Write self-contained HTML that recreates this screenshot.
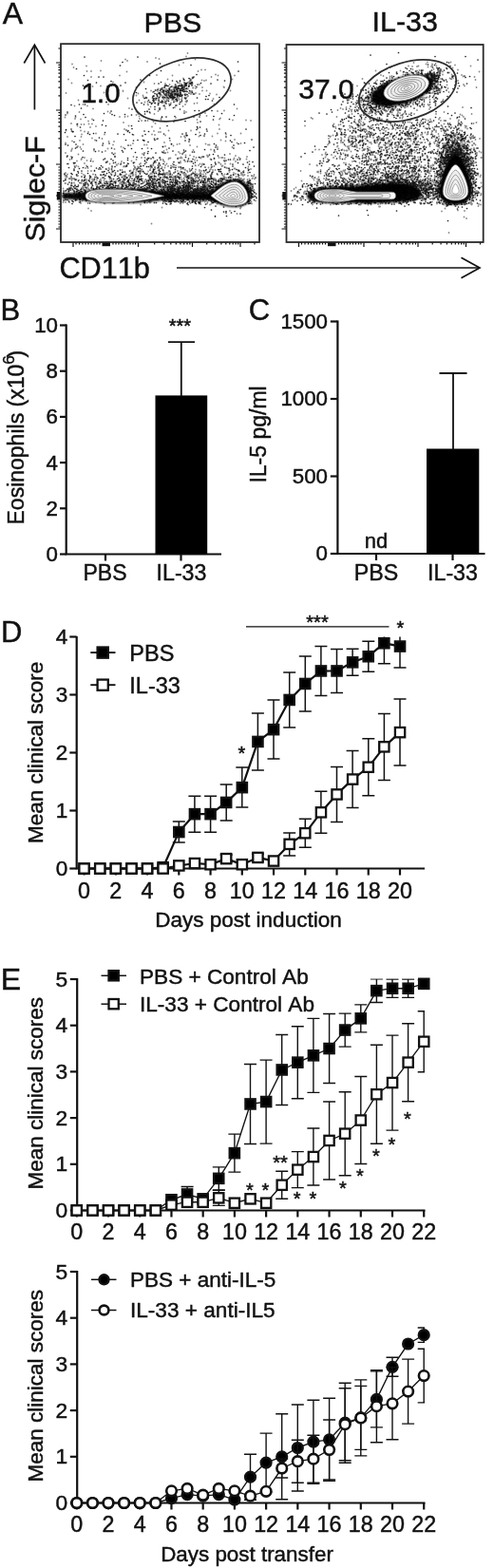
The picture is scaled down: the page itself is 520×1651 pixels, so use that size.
<!DOCTYPE html>
<html lang="en"><head><meta charset="utf-8"><title>Figure</title>
<style>
html,body{margin:0;padding:0;background:#fff;}
svg{display:block;}
text{font-family:"Liberation Sans", Arial, Helvetica, sans-serif;fill:#111;stroke:#111;stroke-width:.45px;font-kerning:none;}
</style></head><body>
<svg width="520" height="1651" viewBox="0 0 520 1651">
<rect width="520" height="1651" fill="#fff"/>
<defs><filter id="bl0" x="0" y="0" width="1100" height="600" filterUnits="userSpaceOnUse"><feGaussianBlur stdDeviation="0.9"/></filter><filter id="bl" x="-20%" y="-20%" width="140%" height="140%"><feGaussianBlur stdDeviation="1.1"/></filter><filter id="bl2" x="-30%" y="-30%" width="160%" height="160%"><feGaussianBlur stdDeviation="2.2"/></filter></defs>
<text x="2.8" y="25.3" font-size="32" text-anchor="start">A</text>
<text x="181.8" y="33.8" font-size="30.4" text-anchor="middle">PBS</text>
<text x="426.2" y="33.3" font-size="30.4" text-anchor="middle">IL-33</text>
<g fill="none" stroke="#111" stroke-width="1.7"><path d="M36.4 115.5V48"/><path d="M25.3 66.5L36.4 47.3L47.5 66.5"/></g>
<text x="47.3" y="254.4" font-size="30.3" text-anchor="start" transform="rotate(-90 47.3 254.4)">Siglec-F</text>
<text x="62.4" y="293" font-size="30.7" text-anchor="start">CD11b</text>
<g fill="none" stroke="#111" stroke-width="1.7"><path d="M186 282H504"/><path d="M485.5 271.2L505 282L485.5 292.8"/></g>
<g fill="#0a0a0a" filter="url(#bl)"><path d="M66 203.5L86 202.5C100 197.5 150 197.5 173 202.8L222 203.5C230 194 240 188 250 189C258 190 263.5 198 263.5 207C263.5 213.5 258 218 246 218C236 218 228 213.5 222 210.5L173 210.5C150 215 100 215 86 210.5L66 209.5Z"/></g>
<path transform="scale(.5)" d="m392 119h0m3-7h0m-182 16h0m51-3h0m4 3h0m42 2h0m18-8h0m7 2h0m76 1h0m-259 10h0m3 7h0m27-3h0m195-2h0m9-5h0m-203 18h0m9 0h0m20-1h0m55 2h0m150-1h0m7-3h0m8 0h0m-288 20h0m48-5h0m60-3h0m78-1h0m23 9h0m10-8h0m23 6h0m14 1h0m5-1h0m0-2h0m40-1h0m9-5h0m5 2h0m30 8h0m5-8h0m-343 16h0m87-2h0m65 0h0m22 3h0m23 0h0m9 2h0m21-3h0m1-4h0m2 7h0m1-1h0m5 2h0m1 0h0m3-2h0m2 1h0m0-1h0m0 2h0m2-5h0m2-1h0m1 4h0m0 2h0m5-6h0m1 0h0m1 5h0m15 0h0m5-9h0m5 1h0m4-1h0m-250 13h0m11 0h0m17-1h0m14 1h0m33 9h0m59 0h0m15-4h0m6 1h0m3-3h0m4 4h0m1-5h0m3 4h0m2 3h0m3-4h0m0 2h0m2 2h0m0-5h0m0-1h0m1-1h0m1 7h0m5-1h0m1-5h0m0 3h0m1-5h0m2 2h0m0 2h0m1-2h0m0-3h0m2-2h0m0 5h0m1-3h0m1 7h0m0 2h0m1-8h0m2 8h0m1 0h0m0-10h0m1 10h0m3-2h0m0 2h0m0-10h0m1 4h0m0 3h0m2-3h0m1 0h0m0-4h0m0-1h0m1 4h0m0 6h0m1 0h0m1-6h0m0 2h0m0-1h0m1 0h0m0 3h0m0-4h0m1 3h0m4 0h0m2 0h0m2-5h0m8 3h0m1 0h0m4-4h0m1 5h0m14 5h0m0-7h0m9 7h0m36-8h0m1 1h0m13 7h0m-346 5h0m80-1h0m5-2h0m0 6h0m35-7h0m22 10h0m6-1h0m4-4h0m10 4h0m8-6h0m13-1h0m1 8h0m8-1h0m1-9h0m5 7h0m0 4h0m0-1h0m1-3h0m1 2h0m0-8h0m1 7h0m3 3h0m2 0h0m1-10h0m0-1h0m3 9h0m1 2h0m0-10h0m2 7h0m0-1h0m1-1h0m0 2h0m3-4h0m0 4h0m0 2h0m0-1h0m0-6h0m0-1h0m1 3h0m1 6h0m0-11h0m1 4h0m0 3h0m1 4h0m0-6h0m1-3h0m1 0h0m1 0h0m0 6h0m1-4h0m0 2h0m0 2h0m0-1h0m2-4h0m1 3h0m1 1h0m0 2h0m0-9h0m2 4h0m0 2h0m1-2h0m1 0h0m0 2h0m1-4h0m0 6h0m1-8h0m1 4h0m1-1h0m0 3h0m1 4h0m0-6h0m1 3h0m1-5h0m1-1h0m0 2h0m0-1h0m0 4h0m0 2h0m1-2h0m0 2h0m1 0h0m1 1h0m7-3h0m2 1h0m3 4h0m1-1h0m4-10h0m2 6h0m0-3h0m10 1h0m8 2h0m22-1h0m14 2h0m-291 12h0m35 2h0m24 2h0m45-8h0m24 4h0m9-7h0m3 11h0m2-10h0m4 9h0m12 0h0m0 1h0m4-8h0m3 0h0m2-3h0m1 8h0m8 2h0m1-9h0m1 2h0m2 2h0m1-3h0m1 7h0m3-5h0m0-3h0m1 3h0m1 3h0m2 0h0m2-3h0m1-3h0m0-1h0m2 1h0m1 0h0m2 5h0m1-5h0m1 5h0m2-4h0m0 6h0m1-8h0m3 9h0m1-3h0m1 0h0m1-5h0m2 0h0m1 1h0m1 4h0m0-1h0m5 6h0m0-6h0m0 5h0m1-6h0m0-4h0m8 10h0m0-5h0m2 6h0m56-7h0m-292 15h0m18-3h0m9 3h0m44-3h0m53 0h0m30-1h0m1 2h0m5 4h0m0-9h0m10 1h0m6 3h0m2-3h0m9 6h0m0-7h0m3 9h0m9-6h0m4-2h0m8 9h0m4-4h0m13 2h0m5-4h0m19-2h0m6-1h0m36 2h0m-309 20h0m25-3h0m29-7h0m31 6h0m5 3h0m40-10h0m13 1h0m2 6h0m23-1h0m6 4h0m17-4h0m2-6h0m13 1h0m40 5h0m4 2h0m40 2h0m26-4h0m14-1h0m27-4h0m-362 18h0m21 3h0m1-3h0m11 4h0m24 0h0m58-5h0m11 0h0m6-1h0m18-3h0m4-2h0m2 5h0m1 5h0m31-10h0m14 10h0m2-3h0m29 1h0m65-4h0m27 7h0m2-2h0m-314 11h0m12 2h0m9 0h0m6 0h0m9-7h0m1 6h0m7 0h0m66-3h0m38-4h0m13 0h0m10-1h0m2 3h0m4 4h0m12-8h0m29 2h0m47-2h0m1 6h0m45 5h0m29-10h0m28 0h0m10 1h0m-389 21h0m24-10h0m7 10h0m20-7h0m12-2h0m60 6h0m9-7h0m49 2h0m17 3h0m18 5h0m47 0h0m60-3h0m-309 6h0m19 5h0m6-6h0m8 1h0m16 3h0m18 2h0m61 1h0m39-1h0m4-7h0m2 8h0m8-6h0m4 0h0m10 7h0m40 2h0m1 0h0m4-1h0m26 1h0m1-8h0m27 8h0m11-6h0m18 2h0m31-2h0m-365 7h0m10 9h0m16-1h0m3-8h0m23 3h0m6 4h0m15-3h0m14 6h0m11 0h0m64-2h0m26-3h0m28 3h0m23-8h0m9 2h0m8 3h0m67 2h0m10 2h0m19-3h0m-356 7h0m26 7h0m5 2h0m6-6h0m63 1h0m17 4h0m5 2h0m15-5h0m5-4h0m24 3h0m5 0h0m34 4h0m3-9h0m2 8h0m13-4h0m4 3h0m8-3h0m5-1h0m22 3h0m15 3h0m18-6h0m5 2h0m3 0h0m17 5h0m31 0h0m10-9h0m8 1h0m-369 20h0m12-4h0m1-3h0m1-2h0m19 1h0m27 3h0m10 1h0m14 0h0m5-5h0m14 1h0m1 9h0m69-11h0m30 8h0m4-2h0m0 4h0m6-7h0m2 6h0m23-1h0m3 3h0m7-1h0m21-6h0m37-1h0m7 4h0m1 1h0m-302 10h0m15-5h0m7 9h0m6-2h0m14 3h0m50-6h0m39 1h0m17 2h0m2-8h0m5 8h0m4 3h0m3-1h0m2-1h0m9 0h0m32 2h0m1-2h0m3 0h0m11-7h0m5 7h0m4 0h0m2-2h0m2 2h0m8-6h0m9 0h0m8 3h0m5 2h0m8 0h0m1 0h0m1 1h0m13-6h0m1 3h0m2-1h0m4 6h0m8 0h0m10-3h0m5 0h0m3 0h0m4 1h0m11-9h0m9 9h0m3-5h0m7 4h0m3 2h0m13 1h0m1-5h0m-376 15h0m3-9h0m9 9h0m6-6h0m9-3h0m7 8h0m5-6h0m13 2h0m29 2h0m6 3h0m14 2h0m4-2h0m6-1h0m1-4h0m13 4h0m8-5h0m4 4h0m2-1h0m4-6h0m7 10h0m2-2h0m9-4h0m23 2h0m7 1h0m0 2h0m8-9h0m1 2h0m2 3h0m5 4h0m13 0h0m12-3h0m4-2h0m0 3h0m10-3h0m6-2h0m4 2h0m3 0h0m7-3h0m5 1h0m6 7h0m5 0h0m4 1h0m30-4h0m2 1h0m3 3h0m8-6h0m1 5h0m11 0h0m7-9h0m4 4h0m29 0h0m-368 10h0m4-1h0m4 2h0m15 3h0m2-5h0m3 5h0m7-4h0m37 4h0m1 2h0m6-3h0m0 6h0m10-11h0m11 10h0m3-7h0m2-1h0m2 1h0m3-1h0m8 9h0m7-10h0m4 6h0m1 3h0m1 1h0m2-8h0m3 1h0m4-2h0m1 7h0m1 0h0m18-3h0m0-6h0m3 0h0m3 11h0m0-11h0m4 7h0m5-1h0m1 5h0m2 0h0m1-4h0m5-3h0m3 7h0m3-6h0m1-5h0m6 2h0m6-1h0m3 2h0m7-2h0m6 3h0m3 0h0m2 4h0m5 0h0m4 1h0m0 1h0m9-2h0m12-8h0m1 9h0m0-8h0m6-1h0m2 10h0m5-10h0m14 5h0m3 5h0m2-2h0m3-5h0m1 7h0m3-8h0m2 8h0m8 0h0m6-8h0m2-1h0m7 4h0m2 1h0m4 5h0m0-5h0m11 1h0m2 0h0m27 0h0m1-4h0m5 5h0m-391 14h0m1-6h0m4 3h0m20 1h0m0 3h0m2-1h0m8-5h0m4 3h0m9-8h0m7 0h0m4 7h0m17 2h0m10 0h0m10-3h0m3-3h0m0-1h0m1 0h0m15 6h0m1 0h0m2 0h0m0 1h0m5 1h0m5-3h0m1 0h0m5 3h0m1-1h0m3-4h0m0 1h0m2-2h0m1-1h0m1 5h0m1 2h0m0-6h0m1 4h0m0-8h0m5 3h0m0 4h0m0 2h0m6-8h0m2 3h0m2-1h0m5-2h0m2 2h0m9-2h0m1 10h0m1 0h0m2-4h0m2-2h0m2 1h0m3-3h0m2 6h0m3-7h0m5 6h0m1 3h0m2-3h0m4-1h0m1-1h0m3-6h0m1 4h0m1 2h0m3-1h0m1 2h0m1-3h0m3 0h0m0 4h0m4-4h0m0-3h0m0 9h0m0-8h0m3 9h0m2-3h0m9 2h0m2 1h0m0-11h0m1 11h0m2-6h0m3 3h0m0-7h0m1 1h0m1 1h0m0-1h0m3 3h0m3 1h0m0 3h0m3-3h0m0 4h0m2-1h0m1-9h0m1 2h0m11 1h0m5-1h0m3 4h0m4 1h0m2-7h0m0 7h0m3 4h0m1-4h0m0-7h0m4 7h0m2-5h0m2 9h0m1 0h0m0-5h0m3-3h0m7 6h0m2-1h0m0 3h0m13-3h0m6-6h0m3 5h0m2 2h0m4-2h0m7-1h0m3-4h0m9 6h0m0-4h0m4 2h0m5-6h0m0 11h0m2-11h0m5 8h0m3-1h0m1 3h0m1-10h0m2 8h0m7-4h0m0 6h0m12 1h0m1-3h0m-398 11h0m1-4h0m0 1h0m3-3h0m8 3h0m2 4h0m7-1h0m2 0h0m1-1h0m5 1h0m6 2h0m0 2h0m4-1h0m2-8h0m0 6h0m1-2h0m3 4h0m0-4h0m5 2h0m4-8h0m3 5h0m0 6h0m1-3h0m3 1h0m0-3h0m5-6h0m1 2h0m0 5h0m6 1h0m2-3h0m1 4h0m6-2h0m1 4h0m1-7h0m7 7h0m3-6h0m0-4h0m1 9h0m0-10h0m2 9h0m0-4h0m0-1h0m1 2h0m1 4h0m4 0h0m1 1h0m3-2h0m7-6h0m0 6h0m1 0h0m2 2h0m0-5h0m5 3h0m2-6h0m0 6h0m0-8h0m3 4h0m0-5h0m1 2h0m2 1h0m3 6h0m6 0h0m4 0h0m4-4h0m4 4h0m1-7h0m1-2h0m4 11h0m2-5h0m0-6h0m3 5h0m1 0h0m2 6h0m3 0h0m1-4h0m1-1h0m3 2h0m3-1h0m1-5h0m1 5h0m2-7h0m4 6h0m1 2h0m1 2h0m1-7h0m0 8h0m1-4h0m0-7h0m1 10h0m5-5h0m0 3h0m5-5h0m0 3h0m2 4h0m0-8h0m1 8h0m2 1h0m1-4h0m1 0h0m0-6h0m0 4h0m1-4h0m2-1h0m1 11h0m0-8h0m1 8h0m1 0h0m2-10h0m0 9h0m4-5h0m3-5h0m3 8h0m2-1h0m0-5h0m1 1h0m2-3h0m1 1h0m1 2h0m1 1h0m0 1h0m1-2h0m0 4h0m8-6h0m1 4h0m0-1h0m2-3h0m2 5h0m4-3h0m1 3h0m2-6h0m1 0h0m2 3h0m1-3h0m1 0h0m1 11h0m2-10h0m0 3h0m2-1h0m2-3h0m0 6h0m0 3h0m3-7h0m0 5h0m1 4h0m0-4h0m0 3h0m1-6h0m1 4h0m0 3h0m3-7h0m0 7h0m1-10h0m1 10h0m1 0h0m0-9h0m1-1h0m1 0h0m4-1h0m1 7h0m0-6h0m4 5h0m1-5h0m0-1h0m0 2h0m3 1h0m0 1h0m3 1h0m1-2h0m1-2h0m5 2h0m0 6h0m1-5h0m0 2h0m1-1h0m4-3h0m1 8h0m3 0h0m1-5h0m2-1h0m2 2h0m1 1h0m0 4h0m6-1h0m0-4h0m3-2h0m1 6h0m2-1h0m0-4h0m2 0h0m0 1h0m1-1h0m1-5h0m1 0h0m1 6h0m1-4h0m3 1h0m1 6h0m3 2h0m1-9h0m1-2h0m0 7h0m1 3h0m2 1h0m0-8h0m0 1h0m2-3h0m6 9h0m1-5h0m2-5h0m2 11h0m3-6h0m1-3h0m0-1h0m1 6h0m2-3h0m0 7h0m2-7h0m1 6h0m0 1h0m3-5h0m1 2h0m1-3h0m7 1h0m0 2h0m1 2h0m2 0h0m1-5h0m6-1h0m1-1h0m4 2h0m-399 9h0m1 0h0m8 9h0m3 0h0m1-6h0m1-3h0m1 5h0m4 4h0m0-10h0m2 4h0m13-3h0m3 7h0m2-2h0m0 4h0m1-5h0m2 1h0m1 3h0m4 1h0m0-9h0m1 8h0m8-9h0m8 0h0m1 4h0m1-1h0m0-4h0m2 7h0m3-4h0m1 8h0m1 0h0m1-3h0m0-6h0m4 8h0m0-6h0m3 4h0m6 3h0m1-5h0m2 3h0m0 1h0m3-4h0m1 5h0m0-9h0m2 5h0m0-2h0m3 5h0m1 1h0m1-7h0m1-3h0m3 9h0m2-3h0m0-7h0m4 9h0m2-3h0m1 3h0m1-7h0m3 2h0m1-3h0m1 0h0m1 3h0m0 5h0m2-7h0m1 1h0m3 2h0m0-4h0m2 3h0m1 1h0m1 6h0m4-10h0m0 6h0m0-1h0m1-3h0m1 3h0m1 4h0m3-3h0m1-5h0m2-1h0m0 6h0m1-3h0m3 4h0m2 0h0m0-2h0m1 0h0m1 1h0m2-2h0m2 0h0m0-5h0m4 10h0m5-9h0m6 3h0m0 5h0m4 2h0m0-8h0m3 6h0m0-8h0m0 3h0m2 2h0m2-6h0m1 10h0m0-6h0m1-4h0m2 2h0m0 3h0m0 2h0m0 3h0m3 0h0m1-3h0m1-3h0m0-3h0m1 4h0m0-2h0m3 7h0m1-9h0m1 3h0m0 3h0m1-4h0m0 2h0m1-3h0m0 1h0m0 5h0m2 2h0m1-4h0m1 1h0m0 3h0m1 1h0m1-9h0m0 5h0m0-6h0m5 3h0m1 0h0m1 7h0m1-4h0m2-4h0m1 7h0m1-6h0m3 6h0m3-4h0m0 4h0m1-2h0m2-1h0m0 4h0m0-10h0m2 2h0m3 4h0m1-1h0m0-1h0m2-5h0m3 4h0m0 4h0m0-5h0m3 4h0m1-6h0m0 2h0m1-3h0m2 11h0m0-8h0m3-3h0m1 0h0m1 9h0m0-5h0m0 4h0m1-8h0m0 6h0m0 2h0m1 3h0m0-11h0m1 11h0m1-3h0m1 2h0m1-9h0m0 2h0m1 3h0m0 5h0m1-8h0m0-1h0m0-2h0m1 11h0m1-10h0m1 0h0m0 2h0m1 5h0m2 3h0m0-8h0m1 4h0m0-1h0m1 1h0m1 2h0m0-8h0m1 4h0m1-1h0m0 7h0m0-10h0m1 9h0m1-1h0m1-9h0m0 4h0m1 4h0m1-5h0m1 5h0m2 2h0m0-1h0m1-2h0m2-6h0m0 3h0m0 4h0m0 2h0m4-3h0m1-7h0m0 10h0m5 0h0m0 1h0m1-5h0m0 3h0m1 1h0m1-9h0m0 1h0m2 7h0m2-6h0m1-1h0m1 5h0m0-1h0m0 4h0m1-10h0m0 6h0m2 1h0m0 2h0m1 2h0m1-3h0m1-6h0m1 5h0m2 3h0m1-7h0m2 7h0m3-8h0m0 5h0m0-1h0m1-2h0m0 2h0m1 4h0m1 1h0m0-8h0m1 4h0m1-3h0m0 5h0m1 2h0m0-4h0m1-1h0m1-2h0m1 4h0m1 1h0m1-1h0m1 0h0m0-6h0m0 3h0m1 4h0m0 2h0m1-4h0m3 3h0m1-5h0m0 5h0m1-10h0m1 8h0m1 0h0m0 2h0m1-9h0m0 5h0m0 3h0m1-5h0m0 7h0m1-8h0m0 3h0m0 4h0m1-2h0m1 3h0m0-6h0m1-1h0m0 5h0m0-1h0m0 3h0m1-4h0m0-6h0m0 2h0m1 3h0m0 3h0m0-9h0m0 11h0m0-10h0m1 8h0m0-1h0m1-3h0m1 3h0m0-7h0m1 8h0m0-4h0m0 1h0m0 2h0m1 2h0m0-9h0m0 6h0m1-1h0m0 1h0m0-7h0m2 4h0m1-4h0m1 7h0m1-4h0m1 6h0m1 0h0m0 2h0m0-9h0m1 8h0m1-3h0m1-7h0m1 7h0m1 2h0m0-8h0m0 4h0m2-5h0m0 9h0m1-1h0m3 3h0m0-10h0m0 3h0m2-3h0m0 8h0m2-2h0m0 1h0m1-6h0m1 9h0m1-2h0m0-6h0m2 4h0m2 3h0m0-10h0m1 0h0m1 11h0m3-7h0m1 3h0m0-1h0m1 3h0m0-1h0m1-2h0m0 3h0m2-8h0m0 8h0m0-1h0m0 2h0m2-4h0m0 4h0m0-10h0m1 7h0m1-3h0m1 1h0m0 1h0m0 3h0m1-4h0m-397 8h0m1 9h0m8-7h0m2 3h0m0 5h0m1 0h0m8-7h0m2 1h0m2-5h0m2 0h0m2 10h0m1 0h0m2-6h0m2 6h0m0-1h0m2 0h0m1 2h0m1-6h0m2-5h0m1 0h0m0 8h0m1-5h0m1 0h0m0-1h0m2 1h0m0 1h0m2 5h0m1-2h0m0-1h0m2-4h0m4 7h0m0-7h0m2 9h0m0-8h0m1 2h0m1 6h0m3-3h0m1 1h0m0-7h0m2 4h0m0-5h0m1 9h0m1-7h0m1 1h0m0 1h0m4 2h0m1-7h0m0 3h0m0 1h0m1 1h0m0-1h0m2 3h0m2-6h0m2 1h0m1 5h0m2-4h0m0 7h0m7 1h0m0-9h0m1 7h0m1-1h0m0 3h0m0-11h0m0 7h0m1-6h0m1 5h0m0 3h0m1-9h0m1 8h0m2 2h0m0-9h0m1 9h0m0 1h0m0-8h0m1-3h0m1 2h0m1 4h0m3-1h0m0 3h0m1-1h0m0-1h0m1 5h0m1-3h0m1-1h0m2 3h0m2-4h0m3 0h0m0 2h0m2 1h0m0 1h0m1-9h0m0 7h0m1-5h0m0 4h0m1 1h0m0 1h0m1-9h0m1 4h0m0 2h0m1-1h0m0 4h0m1-8h0m1 10h0m0-1h0m0-3h0m2 0h0m1-4h0m0 6h0m2-3h0m1 1h0m0 3h0m0-8h0m1 7h0m0 2h0m2-2h0m3-9h0m0 7h0m1 3h0m1 1h0m0-1h0m0-8h0m0 5h0m1-6h0m0 4h0m1 5h0m1-4h0m1-3h0m1 2h0m0 2h0m1-3h0m1 7h0m1-2h0m1-3h0m0 5h0m0-1h0m3-3h0m0-6h0m0 9h0m1-2h0m0 3h0m1-5h0m0-3h0m1 5h0m1 1h0m0-3h0m0 1h0m1-2h0m1-4h0m0 9h0m0-7h0m0 3h0m1 4h0m0-4h0m0-1h0m0 2h0m2-7h0m0 3h0m0 3h0m0-5h0m1 7h0m0-7h0m1 2h0m0 8h0m2-2h0m0 2h0m1-4h0m0 4h0m1-3h0m0 1h0m0 1h0m1-1h0m0 1h0m1 0h0m0-8h0m3 5h0m1 4h0m0-9h0m1 3h0m0-5h0m1 1h0m0 1h0m0 4h0m2 1h0m0 2h0m0 2h0m1-5h0m0 2h0m0 1h0m0 2h0m2-9h0m0-1h0m1 2h0m0 3h0m1 2h0m0 3h0m0-1h0m1-2h0m0 3h0m1-5h0m1 0h0m0 2h0m0 2h0m0-9h0m0 1h0m1 7h0m0-1h0m0-6h0m1 7h0m0-4h0m0 3h0m1-3h0m0 3h0m0 1h0m2 0h0m1-2h0m0 2h0m1-9h0m0 5h0m1 0h0m1-3h0m0 2h0m0 1h0m0 4h0m0-8h0m1 2h0m1 3h0m0 4h0m2-7h0m1 0h0m0 7h0m1-5h0m0 6h0m0-11h0m0 2h0m1 2h0m1-4h0m0 4h0m0 4h0m1-7h0m0 9h0m0-7h0m0 2h0m1 0h0m2 4h0m1-6h0m1 6h0m0 2h0m0-8h0m1 7h0m1-8h0m0 8h0m1-8h0m0 6h0m0-1h0m1 1h0m0-7h0m0 1h0m1 1h0m1 6h0m0 1h0m1-1h0m0 1h0m0-10h0m0 4h0m1 3h0m1 3h0m0-10h0m0 2h0m1 9h0m0-11h0m1 9h0m0 1h0m0-8h0m0 2h0m1 5h0m0-7h0m0 6h0m1 1h0m0-1h0m1-7h0m0 5h0m1 4h0m0-1h0m0-9h0m0 4h0m0 2h0m1 0h0m1 3h0m0-3h0m1 1h0m0 2h0m0-8h0m1 4h0m0 3h0m1-5h0m1 0h0m0 2h0m0 3h0m0 2h0m0-9h0m1-1h0m0 4h0m0 5h0m1-4h0m0 2h0m0-7h0m1 10h0m0-1h0m0-6h0m1 2h0m1 1h0m0 1h0m1 1h0m0-1h0m0 3h0m0-1h0m1-2h0m1-2h0m0 6h0m0-11h0m0 2h0m1 7h0m0-7h0m0 3h0m0 1h0m1-3h0m0-1h0m0 6h0m1 2h0m0-4h0m0 3h0m1-6h0m0 1h0m1 3h0m1-3h0m0 2h0m0 3h0m1-7h0m0 3h0m0 2h0m1-1h0m0 3h0m0 1h0m0-7h0m0 1h0m1-2h0m0 6h0m0-8h0m0 9h0m0 2h0m1-3h0m0 1h0m0 2h0m0-9h0m1 6h0m0-8h0m1 5h0m0-1h0m0 6h0m1 1h0m0-6h0m1 2h0m1-3h0m1 3h0m0 3h0m1-1h0m0-9h0m0 8h0m0 2h0m1-6h0m0 2h0m0 2h0m1 2h0m0-9h0m0 2h0m2 3h0m0 2h0m1 0h0m0 1h0m1-7h0m0 4h0m0 1h0m0 3h0m1 1h0m0-3h0m1 2h0m0 1h0m1-3h0m1-1h0m0-2h0m1 2h0m0-2h0m1-2h0m0 3h0m1-2h0m0 6h0m0-10h0m0 11h0m0-8h0m0-1h0m2 7h0m0 2h0m0-11h0m0 2h0m0 2h0m1-2h0m0 2h0m0 2h0m1-6h0m0 6h0m1 4h0m1-3h0m1 4h0m0-1h0m1-8h0m0 9h0m0-6h0m0 4h0m1-3h0m0 4h0m0 1h0m1 0h0m0-6h0m0 2h0m1-1h0m0 1h0m0 3h0m0 1h0m1-7h0m0 3h0m0 1h0m0 2h0m1-8h0m0 5h0m0 2h0m0 1h0m1-2h0m0 1h0m0-6h0m1 5h0m0 2h0m1-3h0m0 2h0m0-7h0m2 9h0m0-6h0m0 3h0m1 2h0m0-8h0m0 4h0m1 2h0m0-6h0m1 9h0m0-6h0m0 2h0m1 3h0m0-1h0m0-7h0m0 5h0m1 0h0m1 4h0m0-9h0m0 8h0m0-1h0m1-6h0m0 3h0m0 4h0m1-9h0m0 4h0m1 1h0m1 5h0m0-6h0m1 0h0m0-1h0m1 6h0m1-5h0m0-1h0m0 3h0m0 4h0m1-4h0m0 3h0m0 1h0m0-10h0m0-1h0m1 0h0m0 11h0m1-4h0m1-7h0m0 11h0m0-10h0m0 2h0m0 1h0m1 5h0m0 2h0m0-10h0m0 6h0m0-1h0m1 5h0m0-9h0m0 5h0m1 4h0m0-10h0m1 5h0m1-2h0m0-4h0m1 9h0m0-5h0m1 0h0m0 3h0m0 3h0m0 1h0m1-10h0m1 3h0m0 3h0m0 2h0m0-9h0m0 5h0m1-4h0m1 1h0m0 7h0m0 1h0m1-3h0m0 2h0m0 2h0m0-8h0m2-3h0m0 4h0m1 3h0m0-1h0m1 4h0m0-10h0m1 8h0m2 2h0m0-8h0m0 9h0m0-7h0m1-4h0m0 11h0m0-6h0m1 2h0m0-1h0m1-3h0m0 2h0m0 3h0m0 2h0m1-2h0m1-3h0m0 2h0m1-7h0m1 7h0m0-7h0m0 9h0m0 2h0m0-8h0m2 7h0m0-1h0m2-4h0m0 4h0m0-7h0m1 9h0m0-7h0m1 3h0m0 1h0m1 2h0m0-1h0m0-7h0m1 6h0m1-2h0m0 1h0m1 1h0m0 2h0m0 1h0m0-10h0m0 2h0m0 4h0m0 2h0m1-5h0m0 3h0m1-5h0m1-1h0m0 2h0m1 8h0m0-10h0m0 2h0m1-1h0m1 5h0m0 3h0m1-6h0m0 4h0m0 2h0m0-1h0m2 0h0m1-4h0m0 1h0m0-4h0m1 1h0m1 7h0m0-10h0m1 9h0m1-7h0m0 9h0m1-2h0m0-8h0m1 8h0m0-5h0m0 2h0m0 2h0m1 0h0m0 3h0m0-10h0m0 6h0m1 4h0m0-7h0m0 5h0m0-9h0m0 2h0m1 9h0m0-10h0m0 8h0m1 1h0m1-10h0m1 1h0m0 3h0m1-1h0m1 8h0m0-10h0m1 5h0m0-3h0m1 4h0m0 2h0m0-7h0m1 1h0m0 4h0m0-3h0m1 6h0m0-1h0m0-4h0m1 3h0m0 2h0m1-2h0m0-1h0m0-1h0m1 3h0m0-9h0m1 2h0m0 3h0m1 3h0m0-4h0m0 1h0m1 4h0m0-1h0m2 2h0m0-8h0m0 2h0m1 4h0m2-7h0m0 2h0m1-2h0m1 7h0m0 3h0m0-10h0m1 4h0m0 4h0m0 1h0m1-4h0m0 2h0m0 3h0m0-10h0m1 10h0m1-2h0m0-7h0m0 5h0m1-5h0m1 5h0m0-1h0m2-4h0m0 9h0m0-10h0m1 9h0m0-3h0m1 4h0m0-10h0m0 8h0m1-1h0m0 3h0m1-9h0m0 5h0m1-4h0m1 6h0m1-4h0m0 3h0m1-5h0m0 8h0m0-1h0m1-5h0m1 3h0m0-6h0m1 1h0m0 2h0m0-1h0m1-2h0m4 2h0m1 6h0m0-6h0m0 1h0m-403 13h0m0-2h0m3 0h0m0 4h0m0-8h0m0 2h0m0 1h0m3 6h0m2-8h0m0 5h0m5-4h0m1 5h0m0-4h0m3 1h0m7 6h0m0 1h0m3-8h0m6 0h0m1 2h0m0 1h0m2-4h0m3 9h0m0-10h0m2 9h0m1-3h0m2-1h0m1 2h0m1-5h0m0 6h0m1-1h0m0 2h0m3-1h0m0 2h0m0-10h0m3 6h0m2-5h0m1 7h0m1-3h0m2-2h0m0 4h0m1 0h0m2-3h0m0 2h0m0 3h0m0-10h0m0 2h0m9-2h0m0 11h0m4-2h0m2-9h0m0 3h0m3-3h0m1 6h0m0 4h0m1-1h0m1-7h0m0 1h0m1-1h0m2 0h0m0-1h0m3 5h0m1 4h0m0-5h0m1-3h0m1-1h0m3 1h0m2 5h0m0-6h0m1-1h0m1 0h0m0 3h0m4 3h0m0-5h0m1 1h0m7 5h0m2-7h0m3 4h0m1 0h0m2-3h0m5 4h0m1-1h0m0 4h0m5 0h0m2 1h0m1-9h0m1 9h0m1 0h0m0-9h0m0 1h0m1 7h0m0 3h0m1-3h0m0-4h0m1 2h0m3-2h0m1-4h0m1 0h0m1 2h0m0 7h0m2-8h0m2-1h0m1 11h0m9-11h0m0 2h0m0 4h0m2-6h0m1 2h0m0 3h0m0 2h0m2-5h0m4 8h0m2-4h0m1 0h0m1 5h0m2-8h0m3 3h0m4 5h0m2-9h0m1-2h0m0 4h0m1 6h0m2-5h0m1-5h0m1 3h0m3 7h0m0-1h0m2-5h0m2-4h0m0 5h0m1-5h0m1 8h0m1-2h0m2-6h0m0 3h0m3 6h0m0-6h0m1 3h0m1-1h0m2-3h0m2 0h0m1 4h0m0 1h0m1 4h0m2-1h0m0-9h0m0 2h0m0-1h0m2 1h0m1 6h0m2-2h0m0-7h0m2 3h0m1-2h0m0 7h0m1 2h0m0-10h0m2 2h0m2 2h0m0 3h0m0 3h0m1-2h0m0 2h0m1-2h0m1-3h0m0 2h0m1-2h0m0 6h0m2-11h0m0 2h0m0 3h0m1 5h0m0-10h0m1 2h0m0 4h0m0-3h0m1 6h0m0-3h0m2 4h0m0-10h0m0 3h0m0 2h0m0 3h0m2-2h0m0 2h0m2-6h0m0 5h0m1-7h0m3 9h0m1-1h0m0 1h0m0-6h0m1 1h0m0 6h0m0-9h0m0 2h0m1 5h0m0-8h0m1 9h0m0-8h0m0 2h0m0 2h0m1 3h0m2 0h0m1 2h0m0-8h0m2 4h0m1 3h0m1-2h0m2-6h0m1 10h0m1 0h0m1-6h0m0-5h0m1 10h0m1-5h0m0-4h0m1 6h0m1 0h0m0 3h0m1-4h0m2 3h0m0-5h0m1 6h0m0-1h0m0-8h0m0 2h0m1 8h0m0-8h0m0-1h0m1-1h0m1 7h0m0 2h0m1-10h0m1 2h0m0 6h0m2 0h0m0-8h0m0 3h0m1 8h0m0-7h0m0 2h0m1-2h0m1 1h0m1 3h0m0 1h0m1-7h0m1 9h0m1-1h0m1-4h0m1 0h0m1 5h0m0-7h0m1-2h0m0 5h0m1-4h0m0 1h0m0 3h0m0-7h0m1 0h0m0 10h0m1 1h0m1-9h0m0 5h0m0-1h0m1 5h0m0-10h0m0 3h0m0 2h0m2-3h0m0 4h0m1 1h0m1-3h0m0-5h0m0 9h0m1-1h0m0 2h0m0-4h0m1-1h0m0 1h0m0-6h0m1 3h0m0-3h0m1 3h0m0 1h0m0 3h0m1-5h0m0 1h0m1 3h0m1-5h0m0 4h0m1 5h0m1 1h0m0-10h0m1 2h0m0 1h0m1-1h0m0 7h0m0-10h0m1 3h0m0 2h0m0-1h0m0 2h0m0-6h0m1 8h0m0-7h0m0 2h0m2-3h0m3 10h0m0-8h0m0 3h0m2-2h0m1 7h0m0-10h0m0 7h0m1-5h0m0 3h0m1 5h0m0-7h0m0 1h0m0 5h0m1 0h0m0 1h0m0-5h0m1-3h0m1 8h0m0-1h0m1-1h0m0-5h0m0 4h0m1-7h0m1 7h0m0 1h0m1 0h0m1-5h0m0 1h0m0 2h0m0 4h0m0-10h0m1 5h0m0 6h0m1-8h0m0 2h0m0 5h0m1-7h0m0 4h0m0-1h0m2-2h0m2 6h0m0-10h0m0 2h0m1 7h0m0-8h0m0 7h0m1 0h0m0 3h0m0-11h0m0 1h0m0 2h0m1 7h0m0-10h0m0 3h0m1 0h0m0 2h0m1-5h0m0 2h0m0 3h0m0-1h0m1-4h0m1 0h0m0 4h0m0 2h0m2-6h0m1 1h0m0 3h0m0 1h0m1 2h0m0 2h0m0-7h0m0 1h0m1 1h0m0 1h0m0 5h0m0-9h0m1 2h0m0 4h0m1-4h0m0 6h0m0 1h0m0-9h0m1 6h0m0 1h0m0-8h0m1 9h0m1-2h0m0-1h0m0-3h0m1 8h0m0-10h0m0 4h0m0 1h0m1 2h0m1-6h0m0 1h0m0 5h0m0 2h0m1-10h0m0 11h0m0-8h0m1 5h0m0 3h0m0-11h0m0 3h0m1 1h0m0-1h0m0 2h0m0 3h0m0-8h0m1 0h0m0 8h0m0 3h0m1-6h0m1-5h0m0 2h0m0 9h0m1-4h0m0 1h0m0-8h0m1 9h0m0 2h0m0-9h0m2 5h0m0-1h0m0-6h0m1 8h0m0 3h0m0-10h0m1 0h0m0 2h0m0 2h0m1 2h0m0-5h0m0-1h0m1 4h0m0 3h0m0-8h0m0 2h0m1-1h0m1-1h0m1 8h0m1 3h0m0-11h0m0 4h0m0 1h0m0 2h0m0-1h0m0 3h0m1-7h0m0-2h0m1 0h0m0 8h0m1 3h0m0-11h0m0 1h0m0 3h0m0 2h0m2-5h0m0 4h0m0 1h0m0 4h0m0-10h0m1 8h0m0 3h0m0-11h0m1 3h0m0 6h0m1-8h0m3 2h0m1 5h0m0-7h0m0 5h0m0-1h0m1 5h0m0-7h0m1 5h0m0-4h0m0 2h0m1-5h0m0 7h0m1-5h0m0 3h0m1-4h0m1 0h0m0-1h0m0 8h0m1-8h0m0 1h0m0 4h0m0-1h0m0 4h0m1 0h0m1-6h0m0 6h0m3-4h0m0 2h0m0-6h0m0 9h0m1-9h0m1 6h0m3-3h0m5 3h0m-406 11h0m5 0h0m8 0h0m16-6h0m5 6h0m3 2h0m3-5h0m2-2h0m6 2h0m4 5h0m3-8h0m0 1h0m8 2h0m1-2h0m2 3h0m3 2h0m10-2h0m5-4h0m2 8h0m2 1h0m10-9h0m6 8h0m25-8h0m10 2h0m0 2h0m2-2h0m7 5h0m4-5h0m5 0h0m2-2h0m2 1h0m1-1h0m1 11h0m2-11h0m7 4h0m5 3h0m6-5h0m0 5h0m2-2h0m11-5h0m2 0h0m9 0h0m5 2h0m1 0h0m0-1h0m1 5h0m0-5h0m4 2h0m2-3h0m1 5h0m1-2h0m3-2h0m0 1h0m0 8h0m1-2h0m1-4h0m4-1h0m4 0h0m0 1h0m1-1h0m2 2h0m2-1h0m6-1h0m0 5h0m2-1h0m1-4h0m0 2h0m2-4h0m0 1h0m1 6h0m0-3h0m2 1h0m0-5h0m6 0h0m6 5h0m1 1h0m1 1h0m3-2h0m1-5h0m0 5h0m2-1h0m3-5h0m1 6h0m2-2h0m1-2h0m2 1h0m3-3h0m0 7h0m1-2h0m1-5h0m0 6h0m1-5h0m1 9h0m3-6h0m2-2h0m1-1h0m1 1h0m1 3h0m2-5h0m1 2h0m0 1h0m2 6h0m1-3h0m1-6h0m1 1h0m3-1h0m0 11h0m0-10h0m2 3h0m1 5h0m1-9h0m1 1h0m1-1h0m1 6h0m2-1h0m2-3h0m1-1h0m1 3h0m2 5h0m2-5h0m0 2h0m0-4h0m0-1h0m1 6h0m3-3h0m1 3h0m0-7h0m1 1h0m0 3h0m0 5h0m0-9h0m2 5h0m1 3h0m1-6h0m0 3h0m1 0h0m0-2h0m1 2h0m0 2h0m1 1h0m0-7h0m1 1h0m0 3h0m2 1h0m0 2h0m1-5h0m0 4h0m0-7h0m5 5h0m1-1h0m0 5h0m1-9h0m0 3h0m1 8h0m0-7h0m1-4h0m1 7h0m0 1h0m1-5h0m0 4h0m0-1h0m2-5h0m1-1h0m0 5h0m1-3h0m0 4h0m0 3h0m1-7h0m1 4h0m2-2h0m0 5h0m1-1h0m1-4h0m1 1h0m0-3h0m1 2h0m5-1h0m0 2h0m0 3h0m1-8h0m0 3h0m1 0h0m1 1h0m0-1h0m0 6h0m1-8h0m0 6h0m1-2h0m1-3h0m0 3h0m0 1h0m1 0h0m1-5h0m1 2h0m1-1h0m1-2h0m1 5h0m1 0h0m0 5h0m0-4h0m2-3h0m2-2h0m0 2h0m0 3h0m3-2h0m1-3h0m0 6h0m1 1h0m3-3h0m1 4h0m8-6h0m-352 16h0m155-2h0m147-4h0m18 6h0m1-3h0m4-4h0m-319 12h0m292 0h0m15 6h0m-180 21h0" fill="none" stroke="#000" stroke-width="3.6" stroke-linecap="round" opacity="0.45" filter="url(#bl0)"/>
<path transform="scale(.5)" d="m178 120h0m80 11h0m32-11h0m211 10h0m-248 8h0m84-4h0m65 3h0m-241 8h0m178 4h0m163 1h0m-325 9h0m31 3h0m10 0h0m97-3h0m72 8h0m11-2h0m8-1h0m2-2h0m6-5h0m-229 12h0m18 5h0m31-3h0m7 7h0m23-4h0m29 5h0m3-11h0m38 8h0m5-3h0m11 6h0m13-9h0m6 8h0m3-7h0m2 3h0m5-4h0m4 9h0m5-10h0m0 5h0m2 5h0m0-1h0m0-3h0m1 2h0m1 2h0m0-1h0m1-3h0m7-1h0m0 2h0m0-6h0m2 6h0m0 1h0m0-9h0m2 5h0m0 2h0m1 0h0m11 3h0m7-3h0m21 1h0m14-8h0m15 2h0m-298 10h0m2 7h0m58-7h0m19 0h0m33 4h0m20 3h0m20 3h0m1 0h0m4-1h0m5 2h0m1-3h0m3-2h0m1 3h0m3 2h0m1-7h0m1-4h0m1 1h0m4 0h0m1 10h0m1-10h0m3 8h0m0-2h0m3-4h0m1 7h0m1-8h0m5 7h0m0 2h0m1-6h0m1-2h0m1 0h0m1 5h0m0-5h0m1 3h0m1 4h0m1-3h0m1-2h0m1-4h0m0 4h0m0 2h0m1-6h0m1-1h0m1 7h0m0 4h0m1-3h0m1-7h0m1 10h0m1-5h0m0 1h0m1-3h0m0-2h0m1 3h0m0 4h0m0 2h0m2-3h0m1-5h0m1-3h0m3 7h0m0-6h0m1 5h0m4-4h0m1-1h0m1 10h0m5-11h0m10 3h0m-127 12h0m35 8h0m2-1h0m0-9h0m2 4h0m4 1h0m0 1h0m1 3h0m3-6h0m0 1h0m1-2h0m2 1h0m0 2h0m5-4h0m1-2h0m1 2h0m1 2h0m1 2h0m2 2h0m1-8h0m1 5h0m0 3h0m1-6h0m3 1h0m1 5h0m0-8h0m0 3h0m1 1h0m1 7h0m1-1h0m2-3h0m0 2h0m0-4h0m2-3h0m1 4h0m0 3h0m1 2h0m0-10h0m3 0h0m1 4h0m0 3h0m1-2h0m0-6h0m1 6h0m0-1h0m2 3h0m1-1h0m0 4h0m0-10h0m0-1h0m1 6h0m1 2h0m0 1h0m0-3h0m3 3h0m1 2h0m1-8h0m0 3h0m0 1h0m2 3h0m2-2h0m2-7h0m3 6h0m0-6h0m0-1h0m1 9h0m2-9h0m2 7h0m0-6h0m4 3h0m6-4h0m1 3h0m2 3h0m2 0h0m25 5h0m6-2h0m-250 11h0m20 1h0m14 2h0m80-8h0m3-1h0m2 0h0m4 5h0m2 4h0m6-9h0m1 5h0m1-2h0m1 4h0m0-6h0m0 3h0m4 0h0m1-3h0m5 1h0m1-3h0m0 7h0m3 3h0m3-3h0m1 1h0m1-8h0m4 0h0m3 8h0m2-9h0m2 3h0m0-1h0m1 7h0m3-9h0m2 1h0m0 1h0m2-2h0m1 2h0m1 2h0m2 7h0m0-10h0m0-1h0m0 3h0m3-2h0m1 4h0m2-1h0m1 3h0m0 2h0m6 2h0m4-3h0m6-6h0m1 1h0m2-1h0m2 6h0m21-6h0m18 3h0m5 0h0m9 3h0m15-7h0m-312 16h0m17-1h0m12 0h0m109-4h0m10 1h0m5 3h0m16-1h0m1-2h0m6 8h0m0-8h0m7 4h0m0-4h0m8-1h0m5 6h0m2-6h0m2 2h0m7 4h0m2-2h0m6 7h0m5-5h0m8-3h0m115 1h0m-351 16h0m29-8h0m48 11h0m15-5h0m44-4h0m12 7h0m15-2h0m5 0h0m4-5h0m1 6h0m11-6h0m10 1h0m1-3h0m42 2h0m9 8h0m22-5h0m9 0h0m27 0h0m21 6h0m-329 3h0m21 2h0m17-3h0m4 6h0m56-6h0m5 2h0m22-2h0m14 1h0m28-2h0m36 6h0m9 0h0m18-1h0m40 1h0m12 0h0m1-4h0m29 3h0m33 6h0m10-8h0m-330 18h0m34-8h0m18 10h0m2-9h0m75 1h0m14-1h0m60 2h0m24-1h0m32 1h0m27-4h0m-310 21h0m11-1h0m19-4h0m54-3h0m43 9h0m4 1h0m7-10h0m1 6h0m74-6h0m62 8h0m1-6h0m1 3h0m5-2h0m14 4h0m83 0h0m-381 7h0m14-3h0m3 1h0m4 10h0m27-6h0m4 2h0m8-2h0m24-2h0m27 3h0m13 1h0m8-6h0m4 2h0m6 4h0m21 3h0m4-10h0m2 7h0m7-6h0m32 5h0m39 0h0m8-2h0m0 4h0m2 1h0m18-2h0m10 2h0m8 1h0m1-4h0m5-6h0m39 4h0m11 5h0m-330 14h0m47-3h0m6-6h0m56 5h0m16 1h0m9-1h0m11 0h0m2 1h0m9 3h0m13-7h0m1 3h0m6-3h0m25-1h0m33 5h0m8 2h0m1-4h0m77-6h0m9 8h0m3 3h0m42-5h0m-392 10h0m5 2h0m17-2h0m2 6h0m54-4h0m1-4h0m13 0h0m40 4h0m73 3h0m18-6h0m90 0h0m3 7h0m1-4h0m37 0h0m10-3h0m13-2h0m19 9h0m-375 2h0m16 6h0m23-4h0m3 5h0m14 1h0m20-8h0m1 10h0m21-5h0m2 3h0m4-7h0m14 0h0m8 8h0m14-8h0m5 9h0m7 1h0m1-4h0m7-6h0m9 9h0m15-1h0m5 1h0m8-10h0m8 6h0m23-2h0m1 4h0m3-2h0m14 2h0m4 0h0m22-5h0m20 1h0m7-2h0m34-2h0m34 5h0m-385 13h0m1-2h0m9 6h0m1-3h0m22 0h0m47 3h0m13 1h0m5-10h0m3 5h0m27 3h0m19-2h0m15-5h0m9 7h0m6 1h0m4-3h0m14 1h0m1 0h0m37 2h0m10-10h0m7 7h0m6 3h0m9 1h0m13-4h0m7-1h0m3 0h0m12-4h0m8-1h0m2 8h0m8-5h0m14-2h0m-331 19h0m13-2h0m3 0h0m33-4h0m27-3h0m5 6h0m3-2h0m12-2h0m1 5h0m4-1h0m11 4h0m7-3h0m8-6h0m1 8h0m11-2h0m24 2h0m0-7h0m3 4h0m2-5h0m13 7h0m2-2h0m0-2h0m2-1h0m4-2h0m4 7h0m3-8h0m6 9h0m22 2h0m0-6h0m11 2h0m11-6h0m7 3h0m9 0h0m3 4h0m4-2h0m18 4h0m16 1h0m0-11h0m8 6h0m1 3h0m0 1h0m18-8h0m4 0h0m5-2h0m4 0h0m5 10h0m10-10h0m1 7h0m4-7h0m7 10h0m9-4h0m4 4h0m7-5h0m-387 12h0m11 3h0m0 3h0m2-7h0m9 3h0m8-2h0m9-2h0m15 8h0m4-5h0m5 2h0m2-3h0m2 3h0m1-7h0m3 3h0m7 4h0m1 0h0m4 3h0m7-3h0m1-6h0m5 9h0m1-8h0m11 7h0m13-8h0m1-2h0m15 8h0m2-4h0m5 4h0m2-2h0m4 1h0m1-5h0m6-1h0m7 2h0m4 0h0m3 7h0m1-8h0m1 0h0m2 2h0m3 4h0m0 2h0m2-1h0m1-5h0m7 1h0m0-5h0m1 3h0m1 7h0m2-10h0m3 7h0m3 3h0m17-5h0m0 1h0m6-2h0m3 5h0m1-4h0m11-1h0m3 2h0m2-1h0m17 5h0m2-3h0m0-5h0m18 1h0m6 8h0m3-7h0m1 7h0m1-2h0m11-5h0m14 5h0m3 0h0m3-1h0m8-4h0m9 3h0m2 3h0m5-1h0m1-7h0m8 7h0m4 1h0m15-5h0m6 6h0m1-2h0m11-7h0m-399 17h0m0-1h0m4 4h0m10-5h0m2 2h0m9 1h0m3-7h0m1 3h0m7-4h0m7 10h0m6-5h0m4 5h0m10-10h0m2 8h0m11 0h0m3-6h0m2 6h0m1-6h0m1 5h0m1-6h0m1 9h0m4-5h0m4 6h0m1-8h0m5 5h0m3-7h0m3 9h0m2-6h0m0 4h0m5-8h0m0 11h0m5-5h0m1 1h0m3-4h0m1 0h0m1-1h0m4 8h0m0-8h0m10-2h0m2 11h0m3-6h0m1-2h0m12-2h0m1 9h0m2-10h0m1 6h0m1-6h0m1 11h0m1 0h0m3-10h0m4 4h0m3 2h0m2-1h0m3 4h0m7 1h0m1-9h0m1 0h0m1-1h0m2 4h0m0 6h0m4-6h0m5 2h0m1-3h0m2 2h0m0-5h0m1 6h0m3 0h0m2 1h0m1-2h0m3 2h0m9-8h0m2 7h0m1-1h0m7-2h0m3-2h0m0 9h0m6-5h0m0-1h0m4 3h0m4-6h0m5 1h0m7 8h0m3-1h0m0-1h0m2-9h0m2 8h0m2-2h0m3-1h0m3 1h0m0 4h0m2-2h0m3 2h0m0-1h0m7-5h0m0 6h0m0-1h0m7 2h0m9-8h0m3-2h0m3 9h0m2-6h0m0 2h0m2-4h0m9 4h0m4-5h0m4 0h0m2 4h0m11 2h0m1-1h0m7 3h0m5-1h0m10-1h0m2 2h0m1-9h0m4 4h0m4-2h0m1 1h0m13 0h0m4 7h0m-396 11h0m4-2h0m8-3h0m4-4h0m2 4h0m4 0h0m3 2h0m6 3h0m7-9h0m1 7h0m4 1h0m1-1h0m0-6h0m9 7h0m2-4h0m0 6h0m1-9h0m1 0h0m8 4h0m1-4h0m5 2h0m1 0h0m3 8h0m2 0h0m5-9h0m2 0h0m6 8h0m0 1h0m6-10h0m2 1h0m1 9h0m2-2h0m4-4h0m3 6h0m5-6h0m2 4h0m1-6h0m2 4h0m5-6h0m1 9h0m2-5h0m2 2h0m1-1h0m4-4h0m1 9h0m0-9h0m1 6h0m1-1h0m1 3h0m1-4h0m2-4h0m4 2h0m4 4h0m1 1h0m0-4h0m3-4h0m1 9h0m0-10h0m2 4h0m0 1h0m1-5h0m1 11h0m0-9h0m1-1h0m0 8h0m0-1h0m1-3h0m2 1h0m2 1h0m0-3h0m2 5h0m10 1h0m4-2h0m0 2h0m2-8h0m1 3h0m1 2h0m1-7h0m0 2h0m1 8h0m1-7h0m0 6h0m2-3h0m3-1h0m2 0h0m1-5h0m1 9h0m2-1h0m2-3h0m1 1h0m1 5h0m2-5h0m1-4h0m4 5h0m1 4h0m2-3h0m2 1h0m0-9h0m2 11h0m0-10h0m3 3h0m0-3h0m1 9h0m4-9h0m1 6h0m0 4h0m1-6h0m1-4h0m1 10h0m4-1h0m0-4h0m4 4h0m0-3h0m0 4h0m1-9h0m1 5h0m1 4h0m1-3h0m0 2h0m1-9h0m2 9h0m1-6h0m0-3h0m6 9h0m3 0h0m1-1h0m1 2h0m6-4h0m0-6h0m1 8h0m1-5h0m1 7h0m0-9h0m2 9h0m4-8h0m0 5h0m3-3h0m1 3h0m0 2h0m3-2h0m1 3h0m3-3h0m3 2h0m1-7h0m1 4h0m4 4h0m1-2h0m3 1h0m1-1h0m1 1h0m2-2h0m0-3h0m1 3h0m5 1h0m0-4h0m1 1h0m1-1h0m1 0h0m1 5h0m2-5h0m1 0h0m0-4h0m1 9h0m0-7h0m1 2h0m2-1h0m2 3h0m4 1h0m4 2h0m2-2h0m1 2h0m3-2h0m1 0h0m0-4h0m1 6h0m1-6h0m2 3h0m1-3h0m2 0h0m4 3h0m3 1h0m1-1h0m1-5h0m2 7h0m1 0h0m1-2h0m0-6h0m2 8h0m3 1h0m1-5h0m1 6h0m1-4h0m2-1h0m3 0h0m2 0h0m2 4h0m2-2h0m0 3h0m2-3h0m0 3h0m1-1h0m3-2h0m12 3h0m3-2h0m1-1h0m1 0h0m11-6h0m-395 14h0m3-4h0m4 7h0m1-6h0m4 8h0m3-2h0m3 2h0m3 0h0m1-3h0m3-5h0m8 2h0m1 3h0m2-5h0m1 4h0m0-1h0m1 7h0m0-10h0m4 3h0m1 2h0m5-4h0m1-1h0m1 9h0m0-10h0m1 4h0m1 3h0m6-7h0m3 10h0m0-1h0m1 1h0m3-7h0m0 7h0m4-9h0m0 7h0m3-1h0m1 0h0m1 4h0m1-5h0m2-4h0m1 5h0m1-4h0m3-1h0m1 6h0m0-6h0m1 1h0m1 7h0m1-2h0m2-2h0m0-1h0m2 6h0m0-1h0m0-7h0m2 7h0m1-7h0m1 2h0m1 5h0m1-3h0m0 4h0m3 0h0m1-4h0m0 4h0m0-11h0m0 2h0m1 5h0m4 0h0m8 3h0m1 0h0m0-4h0m1-1h0m0 2h0m2 1h0m1-7h0m0-1h0m4 7h0m1 1h0m0 3h0m0-1h0m1-1h0m0-1h0m3 1h0m1-9h0m0 4h0m1 2h0m2-4h0m1 3h0m2 1h0m3-1h0m0 2h0m0 1h0m1-2h0m1-5h0m1 10h0m1-1h0m0-6h0m2-1h0m5 8h0m2-4h0m0 1h0m3 3h0m1 0h0m0-8h0m1 7h0m2-8h0m1 7h0m3-2h0m2-1h0m3-2h0m1 7h0m0-10h0m0 9h0m1-8h0m1 4h0m1-3h0m1 4h0m0-5h0m1 7h0m0 1h0m1-4h0m1-4h0m2 7h0m2-5h0m0 2h0m1-1h0m0 6h0m0-11h0m1 2h0m1 7h0m0-1h0m1-1h0m0 4h0m1-9h0m2 0h0m1 5h0m1 3h0m1 0h0m2-9h0m2 7h0m1-4h0m1 5h0m0-7h0m0 4h0m1 3h0m5 1h0m1-1h0m1-8h0m1 9h0m1-4h0m0-5h0m0 1h0m1 5h0m2 3h0m3-6h0m0 6h0m1-5h0m1 3h0m1 2h0m1-1h0m0 1h0m1-8h0m0 3h0m0 4h0m3-1h0m1 3h0m0-5h0m1 4h0m0-1h0m0-8h0m1 4h0m1 4h0m1-3h0m1 2h0m1-7h0m0 7h0m1-7h0m0 5h0m1-3h0m0-1h0m1 0h0m1-2h0m0 10h0m1 0h0m0-9h0m0 3h0m3 6h0m3-2h0m0-8h0m1 10h0m3-3h0m2 4h0m1-4h0m0 3h0m1-1h0m0-5h0m1 7h0m1-7h0m2 4h0m0-1h0m0 3h0m0-9h0m1 9h0m1-4h0m0 2h0m1-1h0m1 0h0m0 3h0m1-8h0m1 7h0m0 1h0m0-5h0m0 3h0m1-6h0m1 6h0m0-8h0m0 1h0m1 8h0m0-3h0m1 5h0m2-11h0m1 2h0m1 5h0m2-5h0m2 6h0m7-1h0m1 3h0m0 1h0m1-8h0m5-2h0m1 8h0m3-4h0m0-4h0m1 8h0m0-8h0m0-1h0m1 11h0m1-5h0m0 2h0m0 2h0m1-9h0m0 4h0m1 4h0m1-9h0m0 8h0m5-4h0m1 4h0m2-1h0m0 2h0m1-2h0m1 4h0m1-2h0m0-7h0m1 2h0m1 7h0m1-6h0m2 6h0m0-3h0m0-8h0m1 10h0m3-7h0m1 2h0m0 6h0m1-8h0m0-1h0m0 7h0m2 2h0m1-2h0m1 1h0m1-5h0m0 4h0m3 1h0m2-3h0m0-5h0m1 8h0m0-4h0m3 4h0m0-8h0m0 7h0m0-1h0m1 3h0m0-4h0m2 4h0m1-6h0m1 0h0m0 3h0m1 2h0m0-8h0m1 5h0m0-1h0m0-6h0m1 9h0m1-5h0m0 4h0m0-3h0m1-1h0m0 3h0m0 2h0m1-9h0m0 11h0m0-8h0m0 2h0m1-5h0m2 10h0m0-1h0m0-8h0m1 9h0m0-1h0m1-2h0m0 2h0m1 0h0m1-4h0m0 6h0m0-10h0m1 5h0m1-5h0m2 3h0m0 4h0m0-8h0m1 0h0m0 9h0m0 2h0m1-7h0m0-2h0m0-1h0m1 5h0m0 4h0m4-1h0m0-4h0m1-2h0m0 1h0m1 4h0m0-6h0m2 0h0m0 2h0m1-2h0m0 1h0m0 2h0m1 4h0m1 0h0m0-1h0m1 1h0m0-9h0m0 11h0m2-2h0m0 1h0m1-4h0m0 2h0m1 0h0m0-6h0m3 1h0m1 5h0m0 2h0m2-5h0m2 2h0m0 1h0m2 2h0m0-10h0m0 11h0m1 0h0m0-5h0m1 5h0m0-8h0m0-3h0m1 7h0m1-6h0m0 2h0m2-2h0m1 10h0m1-9h0m0 2h0m4 0h0m0 5h0m0-1h0m5-5h0m-404 20h0m1-5h0m4 0h0m1-1h0m3-3h0m3 0h0m0 5h0m1-3h0m1-3h0m2 3h0m1-4h0m3 2h0m3 9h0m0-5h0m1 2h0m1-7h0m3 2h0m0 4h0m1 0h0m0-5h0m1 4h0m2 5h0m1-6h0m1 4h0m3-6h0m0 4h0m1-5h0m1 5h0m6-3h0m1 4h0m1-1h0m0-1h0m6 2h0m2 3h0m1-1h0m3-10h0m5 1h0m0 2h0m2 6h0m1 0h0m1 1h0m0-8h0m2-1h0m0 5h0m0 2h0m5 2h0m1 1h0m0-10h0m1 3h0m2 0h0m0 7h0m3-7h0m1 7h0m1-3h0m2 1h0m0-5h0m0 2h0m1 2h0m2-2h0m1 5h0m1-11h0m1 8h0m0 2h0m0-10h0m2 10h0m1-8h0m1 9h0m0-10h0m1 6h0m1-5h0m1 9h0m2-6h0m0 2h0m1 1h0m1-7h0m0 2h0m1 7h0m3-7h0m0 3h0m0-1h0m1 3h0m1-4h0m0 3h0m1 3h0m1-5h0m1-1h0m0 1h0m1-4h0m2-1h0m1 8h0m1-5h0m1 7h0m0-6h0m0 3h0m1 4h0m1-5h0m2 1h0m0 1h0m1-3h0m1-4h0m0 7h0m1-2h0m1 1h0m0 2h0m1 2h0m0-1h0m1-6h0m1 2h0m1-6h0m2 9h0m0 1h0m1-4h0m0 3h0m1-4h0m3 1h0m1 4h0m1 1h0m1-2h0m0-4h0m2 1h0m1-6h0m1 4h0m0 2h0m1-6h0m1 5h0m1 2h0m0 3h0m0-8h0m1 8h0m1-8h0m1 6h0m0-1h0m0-7h0m1 11h0m1-5h0m1 5h0m1-3h0m1 1h0m1 1h0m1 0h0m0-7h0m1 6h0m2-1h0m1-5h0m0 3h0m1-3h0m1 0h0m1 3h0m0 2h0m1 3h0m0-1h0m0-4h0m1 1h0m0-5h0m1 2h0m1 7h0m1-6h0m0-2h0m0-1h0m1 5h0m1 4h0m0-11h0m1 6h0m1 5h0m0-8h0m0 1h0m1 4h0m1-7h0m1 2h0m2-3h0m0 11h0m1-2h0m0-9h0m1 11h0m0-1h0m1 0h0m1-3h0m0 3h0m0-10h0m1 8h0m0 2h0m0-1h0m0-9h0m1 9h0m0-1h0m2 2h0m0-6h0m1 6h0m0-7h0m0 3h0m1 1h0m1-3h0m0 1h0m0 6h0m1-2h0m0-6h0m0 5h0m2-8h0m0 8h0m0 3h0m1-4h0m0-6h0m1 10h0m1-2h0m1 1h0m0-8h0m1 2h0m0 5h0m1-1h0m2 3h0m2-5h0m0 4h0m0-1h0m0 2h0m1-3h0m1 3h0m2-8h0m0 2h0m0-1h0m0 3h0m1 1h0m1-3h0m0 4h0m0 2h0m1-6h0m0 3h0m1 1h0m0 2h0m0-1h0m1-7h0m0 5h0m1-6h0m1 3h0m1 1h0m0 3h0m0 2h0m1-3h0m1-1h0m0 2h0m2 0h0m0 2h0m0-1h0m0-2h0m1 1h0m0-5h0m1 7h0m0-10h0m0 2h0m0 5h0m1-1h0m0-1h0m1-3h0m0 3h0m0 2h0m1-1h0m0 1h0m1 0h0m1-6h0m0 8h0m0-9h0m1 4h0m0 2h0m0 2h0m1-9h0m0 4h0m0 4h0m0 2h0m0-1h0m1-8h0m0-1h0m0 4h0m0 4h0m1 0h0m0-1h0m0 2h0m0 2h0m0-10h0m0 2h0m1 2h0m1 4h0m1-3h0m0 4h0m0 1h0m0-10h0m0 4h0m0-1h0m1 0h0m0 2h0m0-6h0m0 3h0m2 2h0m0-4h0m0 3h0m0 2h0m1-4h0m1 5h0m1 2h0m1-7h0m0 5h0m1-2h0m0 3h0m1-1h0m0 3h0m1 1h0m0-11h0m0 2h0m0 2h0m0 4h0m0 2h0m1-4h0m0 5h0m0-1h0m0-6h0m1-2h0m0 3h0m0-1h0m0 3h0m0 3h0m0 1h0m0-10h0m1 7h0m0-7h0m1 5h0m1 5h0m0-11h0m1 10h0m0 1h0m0-11h0m1 11h0m0-6h0m1-3h0m0 2h0m0 4h0m1 2h0m0-5h0m1 4h0m0-1h0m1-8h0m1 8h0m0-5h0m0 3h0m1-3h0m0 1h0m0 4h0m0 3h0m1-6h0m1 0h0m1-4h0m0 1h0m0 4h0m0 3h0m1-7h0m0 3h0m1 3h0m0-6h0m1 9h0m0-8h0m0 4h0m0-1h0m0 2h0m1-7h0m1 5h0m0 1h0m1 2h0m0 1h0m0-10h0m0 2h0m0 2h0m0 4h0m1-4h0m0 6h0m0 1h0m1-2h0m1-1h0m1-8h0m0 2h0m1 9h0m0-5h0m1-6h0m1 8h0m0 1h0m0-8h0m1-1h0m2 3h0m0 3h0m0 1h0m0 2h0m1 1h0m1-6h0m0 1h0m0 2h0m1-6h0m0 5h0m0 4h0m1-4h0m0 3h0m1 1h0m0-7h0m1 4h0m0-1h0m0 3h0m0 2h0m0-8h0m1 7h0m0-4h0m1 2h0m0 2h0m0-1h0m0 2h0m0-10h0m0 2h0m1 0h0m0-1h0m0 2h0m0 2h0m1 4h0m1-1h0m0-7h0m1 7h0m0 2h0m0-6h0m1 3h0m1 3h0m0-11h0m1 3h0m0 1h0m0 3h0m1-2h0m0 5h0m0 1h0m0-10h0m1 5h0m0 3h0m1-6h0m0 2h0m0-1h0m0 5h0m1-8h0m0-1h0m0 3h0m1 1h0m0 6h0m1-2h0m0-5h0m0 2h0m1 3h0m1 2h0m0-10h0m0 3h0m0 5h0m1-1h0m0 3h0m0-7h0m1 2h0m0 2h0m0 1h0m1 2h0m1-10h0m0 9h0m0-5h0m1 5h0m0-5h0m1 6h0m0-6h0m1-4h0m0 3h0m0 4h0m2-2h0m0 2h0m0-1h0m0 2h0m1 0h0m1 3h0m1-5h0m0 3h0m0 2h0m0-10h0m1 8h0m0 2h0m1 0h0m0-4h0m0-1h0m0 2h0m1 2h0m0-1h0m1-5h0m0 2h0m0 2h0m0 1h0m0-6h0m1 1h0m1 0h0m0 5h0m0-6h0m1 7h0m0 1h0m0-8h0m0 4h0m1 2h0m0 2h0m0-4h0m1 1h0m0 2h0m0-3h0m2 4h0m0-4h0m0-1h0m1 1h0m0 2h0m1-5h0m1 5h0m0-1h0m0 2h0m0-4h0m1-1h0m0 1h0m0 2h0m0-8h0m1 6h0m0 4h0m1-6h0m0 2h0m0 2h0m0 3h0m1 0h0m1-9h0m0 9h0m1-4h0m0-1h0m0 3h0m0 2h0m1-6h0m0-1h0m1 4h0m0-7h0m0 4h0m0 1h0m1-1h0m0 1h0m0 2h0m1 0h0m0 2h0m0 1h0m0-10h0m1 8h0m0-7h0m0 1h0m0 2h0m1-2h0m0 3h0m1 2h0m0-4h0m0 3h0m0-1h0m2-3h0m0 1h0m0 2h0m0 4h0m0-1h0m1-8h0m0 3h0m1 3h0m0-1h0m1 5h0m0-5h0m1 0h0m0 3h0m0 2h0m1-7h0m0 3h0m0 1h0m0-8h0m0 11h0m0-10h0m1 2h0m0 3h0m0 3h0m0 2h0m1-5h0m0-6h0m0 3h0m1 7h0m1 1h0m0-7h0m1 5h0m0-8h0m0 2h0m1 0h0m0 5h0m0-8h0m0 2h0m0-1h0m1 4h0m0-1h0m0 5h0m1-1h0m0-8h0m0 3h0m0 1h0m1-2h0m0 2h0m0-4h0m1 8h0m0-8h0m0 1h0m0 2h0m1 7h0m1-7h0m0 2h0m1-4h0m0 4h0m0 1h0m0 3h0m2-4h0m0 5h0m1-2h0m0-5h0m1 0h0m0 1h0m1 3h0m0 2h0m0-6h0m1 4h0m0-7h0m0 2h0m0-1h0m0 2h0m1-3h0m0 2h0m0 2h0m1 2h0m0 3h0m0 2h0m0-10h0m0 3h0m1 7h0m0-10h0m1 2h0m0 4h0m0 2h0m1-1h0m0 2h0m0-8h0m0 1h0m1 6h0m0-9h0m0 2h0m2 7h0m0-9h0m0 4h0m0-1h0m1 2h0m0-5h0m1 2h0m0-1h0m1 8h0m1-7h0m0-2h0m1 10h0m0-6h0m0 2h0m0-1h0m2 4h0m0 1h0m0-9h0m1-1h0m0 1h0m0 3h0m1 5h0m0-8h0m1 1h0m1 6h0m0 2h0m1-7h0m0 3h0m0 5h0m1-3h0m0-1h0m3-7h0m1 4h0m0-1h0m0 3h0m1 0h0m0 4h0m0-10h0m2 3h0m0-3h0m1 7h0m0 2h0m1-2h0m0-1h0m1 3h0m0-8h0m1 3h0m1 3h0m0 4h0m0-1h0m0-10h0m0 4h0m1 0h0m1 7h0m1-6h0m1-5h0m1 7h0m3 2h0m-398 6h0m2-1h0m5 2h0m3-2h0m2 3h0m1 2h0m0-1h0m8 5h0m0-5h0m2-5h0m2 7h0m2-3h0m2 5h0m0-8h0m1-2h0m1 11h0m0-8h0m1 2h0m5 6h0m0-11h0m2 8h0m1 3h0m1-11h0m0 11h0m2-7h0m5-4h0m1 10h0m3 0h0m7-6h0m1 1h0m1-1h0m2 0h0m2 3h0m5 2h0m0-9h0m3 2h0m0-2h0m1 7h0m2-2h0m1 0h0m1 3h0m1-3h0m7 3h0m1-1h0m0 1h0m3-5h0m1 6h0m0-6h0m2 3h0m1-5h0m0 5h0m1-1h0m1 0h0m1-5h0m2 8h0m3 1h0m0-9h0m1 4h0m0 6h0m3-10h0m3 1h0m2 2h0m1 1h0m1-2h0m2-2h0m2 0h0m5 1h0m1 4h0m2 4h0m0-8h0m1-1h0m0 11h0m1-10h0m1-1h0m2 6h0m0-4h0m1-1h0m1 4h0m1 0h0m4 2h0m1-7h0m1 11h0m5-7h0m1 4h0m9-8h0m3 5h0m0-1h0m2 3h0m1 2h0m1 2h0m2-5h0m1-6h0m2 0h0m7 6h0m2 1h0m5-7h0m2 8h0m1-3h0m0-4h0m2-1h0m1 8h0m2-8h0m2 2h0m0 8h0m4-10h0m1 11h0m1-1h0m1-3h0m2 0h0m2 0h0m1-7h0m0 1h0m2 2h0m0 4h0m0 2h0m1-9h0m0 2h0m1-2h0m1 4h0m0 3h0m1-7h0m0 3h0m1 3h0m1 5h0m0-11h0m1 7h0m0-7h0m0 2h0m1 5h0m0-4h0m2 2h0m0 3h0m1 1h0m0-9h0m1 8h0m0 1h0m0-3h0m2-5h0m0 3h0m1 3h0m1 4h0m0-10h0m0 7h0m1-6h0m1 5h0m2-1h0m0 5h0m1-9h0m1-1h0m0-1h0m2 4h0m1-4h0m0 2h0m1 7h0m0-8h0m0 4h0m2 5h0m0-1h0m0-5h0m0 2h0m1-5h0m0 4h0m1-2h0m1-3h0m0 9h0m1-3h0m1-1h0m1 1h0m2 2h0m0 2h0m1-4h0m1 1h0m0-6h0m1 0h0m1 1h0m0 9h0m2-9h0m1 5h0m0-7h0m0 1h0m1 1h0m0 5h0m1 2h0m0-7h0m1-1h0m1 6h0m1-1h0m0 3h0m1-6h0m0 4h0m0 2h0m1 0h0m0-6h0m0 2h0m0 2h0m1 2h0m1-8h0m0-1h0m1 11h0m0-6h0m1 3h0m0-1h0m1 1h0m0-1h0m0-7h0m2 8h0m0-7h0m1 8h0m1-7h0m1 0h0m0 3h0m1 5h0m2-7h0m0 3h0m1-6h0m1 4h0m0 5h0m1-2h0m0-7h0m2 11h0m0-6h0m1-3h0m0 9h0m0-8h0m0 6h0m0-1h0m1-4h0m1 0h0m0 4h0m1-8h0m0 4h0m1 3h0m0-1h0m0 3h0m1 1h0m1-9h0m0 2h0m0 4h0m1-1h0m1-2h0m1 2h0m0-3h0m2-3h0m0 9h0m0-2h0m2-2h0m1-5h0m0 7h0m1 4h0m1-10h0m0 2h0m1 7h0m0-7h0m1-2h0m1 0h0m0 3h0m0 2h0m1 3h0m0-1h0m0-5h0m1 5h0m1-2h0m1-4h0m0 5h0m1 4h0m1-1h0m0-9h0m1 10h0m1-2h0m0 2h0m0-5h0m0 4h0m1-8h0m0 2h0m0 2h0m1 3h0m1-6h0m0 2h0m0 2h0m0-1h0m0 2h0m1-6h0m0 3h0m0-1h0m0 3h0m0 1h0m0 2h0m0-10h0m0 3h0m1-1h0m0 2h0m0 7h0m0-10h0m1 4h0m1 2h0m0 3h0m0-10h0m0 1h0m0 2h0m1 0h0m0 5h0m0-6h0m0-1h0m1-1h0m0 1h0m0 2h0m0 2h0m1 2h0m0 3h0m0-8h0m1 9h0m0-4h0m1-7h0m0 11h0m0-7h0m0 3h0m1 1h0m0 2h0m2-4h0m0 4h0m0-8h0m0 3h0m1 0h0m1-3h0m0 4h0m1 3h0m0-7h0m1 1h0m0 2h0m2 5h0m1-5h0m0-5h0m1 4h0m0 2h0m0 5h0m1-8h0m1 2h0m0 6h0m1 0h0m0-8h0m0-1h0m1 1h0m0 2h0m0 1h0m0 5h0m0-11h0m1 0h0m0 2h0m1 7h0m0-8h0m0 2h0m1-1h0m0 2h0m0 3h0m0 3h0m0-10h0m1 10h0m0-10h0m0 4h0m0 1h0m1 3h0m0 3h0m0-1h0m0-7h0m1-1h0m1 9h0m0-6h0m0 3h0m1-7h0m0 5h0m0 2h0m0 2h0m0-10h0m1 2h0m0 2h0m0 5h0m0-1h0m1-3h0m0-5h0m0 3h0m1 6h0m1-7h0m0 3h0m0 4h0m1-4h0m0-1h0m1-1h0m0 4h0m0 2h0m0 2h0m1-11h0m0 2h0m1 3h0m0 4h0m0 1h0m0-9h0m0 3h0m1 0h0m0-4h0m0 2h0m1 3h0m1 4h0m0 1h0m0-8h0m0-1h0m1 3h0m0 2h0m1 3h0m0 1h0m0-9h0m0 2h0m2 1h0m0 1h0m0 2h0m0 1h0m1-8h0m0 1h0m0 3h0m0 2h0m1-3h0m0 5h0m1-2h0m0 5h0m1-7h0m0 3h0m0 3h0m0 1h0m1-6h0m1-2h0m1 8h0m0-10h0m1 0h0m0-1h0m1 9h0m0-9h0m1 4h0m1 5h0m0-9h0m1 0h0m1 5h0m0 2h0m0-5h0m0-1h0m0 2h0m1 5h0m0-6h0m0 1h0m1 6h0m0-7h0m1-2h0m0 6h0m1 1h0m1-6h0m0 6h0m0-1h0m0 2h0m1-8h0m0 5h0m1-2h0m0 2h0m0 4h0m1-9h0m0 2h0m1-2h0m1 3h0m0 2h0m2-2h0m0 1h0m0 3h0m1-1h0m0 3h0m0-9h0m1 3h0m0 3h0m1-5h0m1 10h0m0-11h0m0 3h0m1-1h0m1-2h0m1 0h0m1 2h0m1 9h0m0-10h0m0 4h0m2-4h0m0 9h0m1-5h0m0 2h0m1 2h0m3-5h0m0-1h0m0 3h0m0 1h0m1 1h0m0-6h0m1 4h0m1-5h0m2 6h0m3-2h0m2-5h0m1 9h0m-406 5h0m4-1h0m4 0h0m3 3h0m7 5h0m0-6h0m2 2h0m5-3h0m1-1h0m8 0h0m1 4h0m0-4h0m10-1h0m3 2h0m7 6h0m16-8h0m4 3h0m3 2h0m6-3h0m4 0h0m16 2h0m1 3h0m1 0h0m2-7h0m10 1h0m3 1h0m1 1h0m1 0h0m1-1h0m7-2h0m1 0h0m1 0h0m4 7h0m0-6h0m2 3h0m15-4h0m2 3h0m1-3h0m3 1h0m1 0h0m9 5h0m1 1h0m9-2h0m4-5h0m7 7h0m4 0h0m13-6h0m1 7h0m1-4h0m3-3h0m1 2h0m1 6h0m1-5h0m1 6h0m1-10h0m2 0h0m0 1h0m2 4h0m0-1h0m2-1h0m1 2h0m1-5h0m0 9h0m1-6h0m0 2h0m1-4h0m3 2h0m3 2h0m3-2h0m2-1h0m3 3h0m5-1h0m2 1h0m1 0h0m2-4h0m0 2h0m0-1h0m4 3h0m4 4h0m1-2h0m1 4h0m0-10h0m1-1h0m2 4h0m6-1h0m0 2h0m0 1h0m2-3h0m0-3h0m2 0h0m1 5h0m1-1h0m0 2h0m0 2h0m1-4h0m1 5h0m5-2h0m0-2h0m2 4h0m1-9h0m0 7h0m1-3h0m5-4h0m1 1h0m5 9h0m7-8h0m4 0h0m1-2h0m0 2h0m1 3h0m1 2h0m0-6h0m1 0h0m1 1h0m0 5h0m2-4h0m1 2h0m1-4h0m0 3h0m1 1h0m1-4h0m2 1h0m1 0h0m0 1h0m2 2h0m1-3h0m1 2h0m2-4h0m1 1h0m0 2h0m0-3h0m1 7h0m0-1h0m0 2h0m0-6h0m0 1h0m2 5h0m1-1h0m0 1h0m3-4h0m2 1h0m1-1h0m0 5h0m0-9h0m2 1h0m1 3h0m0 2h0m2-1h0m1 1h0m0 1h0m2-6h0m0 2h0m1-2h0m2-1h0m0 4h0m1-2h0m0-1h0m2 2h0m2-2h0m1 5h0m1-4h0m0 3h0m1-2h0m0 1h0m3 1h0m1 1h0m0 1h0m1-7h0m1 5h0m0-2h0m1-3h0m2 7h0m3-5h0m1 6h0m2-7h0m0 7h0m0-6h0m1-2h0m1 3h0m0 3h0m0-4h0m1-2h0m1 3h0m1 2h0m0 2h0m1-7h0m1 2h0m1-1h0m5 1h0m0 2h0m1-1h0m0 6h0m1-9h0m0 5h0m0 4h0m3-7h0m0 6h0m8-7h0m-104 16h0m14 5h0m9-8h0m17 2h0m26-1h0m-44 20h0m18-9h0m5-1h0m0 3h0m1 7h0m10-7h0m7-3h0m12 5h0m-53 6h0" fill="none" stroke="#000" stroke-width="3.42" stroke-linecap="round" opacity="0.85" filter="url(#bl0)"/>
<path d="M90 206.3C90 200.2 101.5 199.5 118.9 199.5C145.7 199.5 161.8 203.9 172.5 206.3C161.8 208.7 145.7 213.10000000000002 118.9 213.10000000000002C101.5 213.10000000000002 90 212.4 90 206.3Z" fill="#fdfdfd" stroke="#7a7a7a" stroke-width="0.7"/>
<path d="M93 206.3C93 201.4 102.4 200.8 116.5 200.8C138.2 200.8 151.3 204.4 160 206.3C151.3 208.2 138.2 211.8 116.5 211.8C102.4 211.8 93 211.2 93 206.3Z" fill="#eeeeee" stroke="#7a7a7a" stroke-width="0.7"/>
<path d="M96 206.3C96 202.3 103.6 201.9 114.9 201.9C132.4 201.9 143.0 204.8 150 206.3C143.0 207.8 132.4 210.70000000000002 114.9 210.70000000000002C103.6 210.70000000000002 96 210.3 96 206.3Z" fill="#eeeeee" stroke="#7a7a7a" stroke-width="0.7"/>
<path d="M99 206.3C99 203.3 104.7 203.0 113.3 203.0C126.7 203.0 134.7 205.1 140 206.3C134.7 207.5 126.7 209.60000000000002 113.3 209.60000000000002C104.7 209.60000000000002 99 209.3 99 206.3Z" fill="#eeeeee" stroke="#7a7a7a" stroke-width="0.7"/>
<path d="M103 206.3C103 204.3 106.5 204.10000000000002 111.8 204.10000000000002C119.9 204.10000000000002 124.8 205.5 128 206.3C124.8 207.1 119.9 208.5 111.8 208.5C106.5 208.5 103 208.3 103 206.3Z" fill="#eeeeee" stroke="#7a7a7a" stroke-width="0.7"/>
<path d="M107 206.3C107 205.3 108.8 205.20000000000002 111.5 205.20000000000002C115.8 205.20000000000002 118.3 205.9 120 206.3C118.3 206.7 115.8 207.4 111.5 207.4C108.8 207.4 107 207.3 107 206.3Z" fill="#fff" stroke="#7a7a7a" stroke-width="0.7"/>
<path d="M222.0 206.0C230.0 199.5 238.0 191.5 247.0 191.5C254.0 191.5 261.0 200.5 261.0 208.5C261.0 214.5 253.0 216.5 245.0 216.5C236.0 216.5 227.0 210.5 222.0 206.0Z" fill="#fdfdfd" stroke="#7a7a7a" stroke-width="0.7"/>
<path d="M226.2 206.1C232.8 200.8 239.4 194.2 246.7 194.2C252.5 194.2 258.2 201.6 258.2 208.1C258.2 213.1 251.7 214.7 245.1 214.7C237.7 214.7 230.3 209.8 226.2 206.1Z" fill="#eeeeee" stroke="#7a7a7a" stroke-width="0.7"/>
<path d="M230.5 206.2C235.6 202.0 240.7 196.9 246.5 196.9C250.9 196.9 255.4 202.7 255.4 207.8C255.4 211.6 250.3 212.9 245.2 212.9C239.4 212.9 233.7 209.1 230.5 206.2Z" fill="#eeeeee" stroke="#7a7a7a" stroke-width="0.7"/>
<path d="M234.5 206.3C238.2 203.2 242.0 199.4 246.2 199.4C249.5 199.4 252.8 203.7 252.8 207.4C252.8 210.3 249.0 211.2 245.3 211.2C241.0 211.2 236.8 208.4 234.5 206.3Z" fill="#eeeeee" stroke="#7a7a7a" stroke-width="0.7"/>
<path d="M238.5 206.3C240.9 204.4 243.2 202.0 246.0 202.0C248.1 202.0 250.2 204.7 250.2 207.1C250.2 208.9 247.8 209.5 245.4 209.5C242.7 209.5 240.0 207.7 238.5 206.3Z" fill="#eeeeee" stroke="#7a7a7a" stroke-width="0.7"/>
<path d="M242.4 206.4C243.5 205.6 244.5 204.6 245.7 204.6C246.6 204.6 247.5 205.7 247.5 206.8C247.5 207.5 246.5 207.8 245.4 207.8C244.3 207.8 243.1 207.0 242.4 206.4Z" fill="#fff" stroke="#7a7a7a" stroke-width="0.7"/>
<ellipse cx="191.5" cy="94.4" rx="53.3" ry="30.4" transform="rotate(-18.2 191.5 94.4)" fill="none" stroke="#2e2e2e" stroke-width="1.75"/>
<text x="85.6" y="107.8" font-size="29.5" text-anchor="start">1.0</text>
<path d="M59 66H64M59 116H64M59 173H64M59 206H64M59 241H64M61.4 51.0H64M61.4 100.9H64M61.4 92.1H64M61.4 85.9H64M61.4 81.1H64M61.4 77.1H64M61.4 73.7H64M61.4 70.8H64M61.4 68.3H64M61.4 155.8H64M61.4 145.8H64M61.4 138.7H64M61.4 133.2H64M61.4 128.6H64M61.4 124.8H64M61.4 121.5H64M61.4 118.6H64M61.4 176.0H64M61.4 179.0H64M61.4 182.0H64M61.4 185.0H64M61.4 188.0H64M61.4 191.0H64M61.4 194.0H64M61.4 197.0H64M61.4 200.0H64M61.4 212.0H64M61.4 215.0H64M61.4 218.0H64M61.4 221.0H64M61.4 224.0H64M61.4 227.0H64M61.4 230.0H64M61.4 233.0H64M61.4 236.0H64M61.4 239.0H64M77 255V260M145.5 255V260M202.5 255V260M253 255V260M80.0 255V257.6M83.5 255V257.6M87.0 255V257.6M90.0 255V257.6M93.0 255V257.6M96.0 255V257.6M99.0 255V257.6M102.0 255V257.6M105.0 255V257.6M119.0 255V257.6M122.0 255V257.6M125.0 255V257.6M128.0 255V257.6M131.0 255V257.6M134.0 255V257.6M137.0 255V257.6M140.0 255V257.6M142.5 255V257.6M162.7 255V257.6M172.7 255V257.6M179.8 255V257.6M185.3 255V257.6M189.9 255V257.6M193.7 255V257.6M197.0 255V257.6M199.9 255V257.6M217.7 255V257.6M226.6 255V257.6M232.9 255V257.6M237.8 255V257.6M241.8 255V257.6M245.2 255V257.6M248.1 255V257.6M250.7 255V257.6M268.0 255V257.6" stroke="#111" stroke-width="1.2" fill="none"/>
<rect x="107.5" y="255" width="8.5" height="4.2" fill="#111"/>
<rect x="59.8" y="202" width="4.2" height="8.5" fill="#111"/>
<rect x="64" y="46.2" width="209" height="208.8" fill="none" stroke="#2a2a2a" stroke-width="1.8"/>
<g fill="#0a0a0a" filter="url(#bl)"><path d="M323 206C325 201 332 197.5 345 197C360 196.5 380 195.5 395 194C410 192 425 192 436 196C443 199.5 445 206 440 209.5C430 213.5 400 214 380 214C360 214 340 214.5 331 212.5C326 211.5 323 209 323 206Z"/><path d="M479.5 162C485 162 497 188 497 201C497 211 488 215.5 479.5 215.5C471 215.5 462 211 462 201C462 188 474 162 479.5 162Z"/><ellipse cx="423" cy="95.5" rx="34" ry="14" transform="rotate(-17 423 95.5)" /></g>
<path transform="scale(.5)" d="m900 131h0m49 0h0m-127 11h0m38-3h0m8 1h0m3-8h0m7 8h0m3-1h0m16-4h0m4 6h0m7-1h0m2-2h0m0-3h0m7-1h0m2 5h0m34 4h0m5-6h0m33 2h0m-200 10h0m44 6h0m8-6h0m6 3h0m5 1h0m5 2h0m7-4h0m3-5h0m8 4h0m0 4h0m1-5h0m1 5h0m3 0h0m1-6h0m5 7h0m13-2h0m1 2h0m4-5h0m0 1h0m0 2h0m7-7h0m7 9h0m1-1h0m0-1h0m1-5h0m0 4h0m4-5h0m3 2h0m3 2h0m11 2h0m3 0h0m18-6h0m45 4h0m-246 15h0m39-8h0m5 2h0m14 1h0m0 4h0m4-5h0m0 2h0m14 5h0m2-3h0m4 3h0m2-5h0m1 4h0m1-9h0m1 8h0m1-1h0m1 2h0m2-8h0m0 7h0m1-3h0m1 5h0m0-10h0m3 1h0m2 6h0m1-7h0m4 7h0m3 1h0m0 1h0m1 1h0m3-4h0m1-5h0m3 4h0m5 4h0m0-1h0m1 0h0m0 2h0m1-2h0m0 2h0m4-3h0m0-1h0m0 2h0m1-8h0m1 9h0m2-7h0m0 2h0m3 4h0m0-3h0m1-3h0m0 8h0m0-7h0m1 5h0m0-7h0m0 9h0m0-5h0m1 4h0m0-10h0m0 11h0m1-4h0m0-5h0m1 8h0m0-5h0m1 6h0m0-1h0m0-7h0m2 6h0m0 2h0m0-10h0m1 4h0m2 6h0m0-9h0m2-1h0m0 10h0m1-5h0m0-3h0m0-1h0m2 9h0m0-3h0m0-7h0m0 8h0m0-7h0m1 5h0m0 4h0m0-5h0m1 2h0m0-7h0m0 6h0m1 1h0m0-7h0m0 1h0m1 2h0m1 7h0m0-11h0m0 1h0m1 9h0m0-1h0m2-4h0m1-4h0m0 9h0m0-5h0m1-2h0m0 1h0m2 7h0m0-4h0m2-5h0m0 4h0m3 4h0m4-9h0m15 8h0m4-8h0m1 4h0m1 1h0m1 3h0m0-5h0m5 0h0m13-2h0m3 3h0m24 1h0m-256 16h0m27-1h0m21-5h0m3-3h0m12 8h0m1-3h0m1 4h0m1-1h0m2-1h0m2-1h0m1 2h0m0-1h0m2-4h0m3-1h0m4 5h0m2-5h0m1 7h0m1-6h0m0 4h0m0-3h0m3 0h0m0 2h0m0-5h0m3-1h0m0 6h0m2-3h0m1 3h0m0-3h0m2 0h0m1 1h0m1-1h0m2 2h0m0-5h0m0 10h0m1-6h0m1-4h0m1 10h0m0-1h0m2-1h0m0-1h0m0 2h0m2-7h0m0 6h0m2 1h0m0-6h0m1 4h0m1-3h0m1-1h0m2-4h0m1 7h0m0-3h0m1 3h0m1 3h0m0-8h0m2 6h0m2-2h0m0 4h0m0-1h0m1-4h0m1-5h0m1 10h0m0-7h0m0 2h0m2 1h0m0-5h0m1 9h0m1 1h0m0-9h0m1 8h0m1-7h0m0 6h0m0-7h0m2 0h0m0 2h0m0 2h0m0 5h0m1-2h0m0-5h0m2-1h0m0 6h0m1 1h0m0-7h0m1 4h0m1-5h0m0 6h0m0 2h0m1-2h0m1-5h0m0 2h0m2 0h0m2-2h0m0 1h0m0 2h0m1 1h0m1-1h0m0-4h0m1 0h0m0 3h0m0 2h0m1-3h0m0 4h0m1 2h0m1-10h0m3 3h0m0 4h0m1-6h0m0 10h0m0-1h0m1-5h0m1 0h0m0 6h0m0-7h0m0-1h0m1 5h0m1 0h0m0-7h0m0 4h0m1-1h0m1 4h0m1-5h0m0 2h0m0-1h0m0-3h0m1 3h0m0 4h0m0-7h0m0 10h0m1-2h0m1-9h0m0 6h0m1-3h0m0 2h0m0 2h0m0-7h0m1 11h0m0-9h0m0 2h0m0 6h0m0-5h0m0 2h0m2-3h0m0 1h0m1 0h0m0-3h0m1 9h0m0-10h0m1-1h0m1 7h0m1-5h0m0 4h0m1 3h0m0 2h0m0-5h0m1-5h0m1 3h0m1-2h0m0 3h0m2 5h0m0-6h0m1 3h0m1 3h0m4-6h0m2 0h0m3-4h0m2 1h0m7 10h0m23-9h0m12 8h0m25-10h0m-249 13h0m9 9h0m0-1h0m10 2h0m5-5h0m4-5h0m3 4h0m10-1h0m2 2h0m1 3h0m4-7h0m1 9h0m0-1h0m1-9h0m1 8h0m1 1h0m0-8h0m1 9h0m3-5h0m0 2h0m1 2h0m1-3h0m1-4h0m1 0h0m1-2h0m1 0h0m1 10h0m0-9h0m2 4h0m0-5h0m1 7h0m0-1h0m0 2h0m0-9h0m1 7h0m1 4h0m1-5h0m0-4h0m1 4h0m0-5h0m1 7h0m0 2h0m0-4h0m1 2h0m0-5h0m1-2h0m0 10h0m2 0h0m0-5h0m0 4h0m1-1h0m1-8h0m0 9h0m1-7h0m1 0h0m1 0h0m0 6h0m0 2h0m1 0h0m0-5h0m0-4h0m1 9h0m0-8h0m0 6h0m0-7h0m1 6h0m0 2h0m1-1h0m1-5h0m1 6h0m0-4h0m1 1h0m0-5h0m1-1h0m0 4h0m0-5h0m1 2h0m0 3h0m1 0h0m0-5h0m1 0h0m2 10h0m1-2h0m0-3h0m0 2h0m0 2h0m0-9h0m1 4h0m0 7h0m1-1h0m0-9h0m1 6h0m1 1h0m0-7h0m1 9h0m0-9h0m0 10h0m0-9h0m1 0h0m0 4h0m0-3h0m1-2h0m0 10h0m0-7h0m1-3h0m1 7h0m0-3h0m1-5h0m0 8h0m0-5h0m2 1h0m1-1h0m2 6h0m0 2h0m0-5h0m1 5h0m0-9h0m1 3h0m0 6h0m1-8h0m0 6h0m1-1h0m0 2h0m0-9h0m1 9h0m1 0h0m0-5h0m1-2h0m0-1h0m2 6h0m0-1h0m2-2h0m1 3h0m0-5h0m1 5h0m0-5h0m0-1h0m0 2h0m1-3h0m1 8h0m1-3h0m0 5h0m0-11h0m1 3h0m0-3h0m0 6h0m2-4h0m3 7h0m0 2h0m0-5h0m1-5h0m1 5h0m0 3h0m1-6h0m1 4h0m0-7h0m1 3h0m0 4h0m0 2h0m0 2h0m1-11h0m1 8h0m2 2h0m0-9h0m0 6h0m1 2h0m0-9h0m1 3h0m0 4h0m0 4h0m1-10h0m2 7h0m2 0h0m0-7h0m1 4h0m0-1h0m2 4h0m0-7h0m0 3h0m1 0h0m1 1h0m0 6h0m0-9h0m0 2h0m3-1h0m0 5h0m2-8h0m1 8h0m1-4h0m1 2h0m1 4h0m0-3h0m2-4h0m0 2h0m1 2h0m3-4h0m0 6h0m1-2h0m0 4h0m0-11h0m2 8h0m5 2h0m1-3h0m15-1h0m35-5h0m25 3h0m-268 18h0m28 0h0m1-1h0m6-5h0m5-2h0m0 9h0m1-4h0m0-5h0m0-2h0m3 9h0m0-4h0m1 2h0m6-3h0m0-1h0m1 2h0m0 4h0m0-9h0m2 10h0m1-1h0m1-8h0m1 9h0m1-4h0m0-5h0m2 9h0m0-8h0m1-1h0m1 4h0m0 4h0m0-7h0m1 2h0m0 4h0m0-7h0m1 7h0m0 2h0m1-3h0m2-2h0m1-4h0m0 3h0m1 3h0m2-6h0m1-1h0m1 4h0m1 7h0m0-8h0m0 2h0m1-5h0m1 4h0m1-4h0m1 8h0m0-3h0m1 1h0m0-5h0m1 7h0m0 2h0m1-2h0m0 2h0m0-9h0m0 6h0m1-2h0m1 4h0m0-7h0m2 4h0m0 4h0m0 1h0m1-7h0m0 2h0m0-3h0m0 6h0m1-3h0m0-1h0m0 4h0m0-9h0m2 7h0m0-1h0m1 0h0m0 5h0m1-4h0m0-7h0m1 4h0m0 4h0m0-1h0m1-2h0m1-2h0m2-2h0m1 0h0m0 4h0m0 2h0m0-1h0m2 4h0m0-7h0m0 4h0m1 1h0m1-1h0m0-6h0m1 3h0m1-1h0m1 5h0m0-3h0m0 2h0m0-7h0m0 2h0m2 0h0m1-2h0m1 6h0m0 2h0m0-7h0m0 3h0m1-4h0m0 6h0m0-3h0m0 4h0m1-4h0m0 2h0m0 2h0m0-3h0m1 0h0m0 2h0m1-1h0m1-1h0m1-1h0m0 4h0m0 4h0m1-5h0m0-1h0m0-3h0m1 5h0m0 2h0m1 2h0m0-8h0m0 6h0m0-7h0m1 8h0m0-9h0m1 8h0m0-3h0m1 0h0m0-1h0m0 6h0m2-6h0m1 3h0m0-1h0m0-1h0m1 1h0m1 2h0m1 2h0m0-7h0m0 4h0m0-5h0m0 4h0m1 4h0m0-9h0m1 3h0m0 4h0m1 2h0m2-3h0m0 2h0m1-7h0m1 8h0m0-9h0m1 4h0m0 2h0m1-2h0m1-3h0m1 5h0m1-4h0m1 5h0m1 2h0m1-1h0m2-2h0m0-5h0m1 7h0m0-2h0m1-8h0m0 4h0m1-4h0m0 6h0m1 2h0m0-5h0m4 4h0m1-6h0m1 2h0m0 3h0m1-5h0m1 2h0m5-1h0m0-1h0m1 2h0m1-1h0m1-2h0m3 3h0m9 1h0m2-2h0m3 5h0m1-6h0m2-1h0m3 3h0m6-3h0m0 1h0m18 1h0m-213 19h0m24-4h0m1 3h0m0 2h0m2-3h0m1 4h0m1-3h0m2-4h0m2 3h0m1 1h0m1-2h0m1-1h0m1-2h0m1-2h0m1 2h0m0 6h0m1 0h0m2-4h0m3 2h0m2 4h0m1 0h0m1-3h0m0 1h0m2-5h0m1 3h0m1 1h0m0 3h0m1 0h0m1-6h0m0 6h0m1 0h0m2-1h0m2 0h0m1-10h0m1 5h0m2 5h0m1-7h0m1 6h0m0 1h0m0-5h0m1 3h0m0-5h0m0 3h0m1 2h0m0 1h0m1-7h0m2 1h0m1 2h0m1 2h0m1-1h0m1-6h0m1 11h0m0-7h0m1 1h0m0 4h0m0-7h0m1 9h0m1-1h0m0-10h0m1 2h0m0 4h0m1 0h0m1 3h0m2-8h0m1 4h0m0 2h0m2-2h0m0-5h0m1 3h0m1 7h0m1-4h0m0-6h0m1 10h0m2-5h0m1-3h0m0 5h0m1-3h0m1 1h0m1-1h0m1-3h0m0 6h0m1 1h0m0-6h0m1 1h0m0-2h0m1 4h0m1-3h0m1 3h0m0 4h0m1 0h0m2-3h0m0-5h0m0 8h0m1-2h0m0 1h0m0-3h0m1 6h0m0-7h0m0 1h0m1-2h0m1 2h0m1 3h0m1 0h0m0-7h0m1 4h0m0-5h0m1 3h0m1 8h0m1-9h0m1 6h0m1-2h0m1-2h0m0 7h0m0-11h0m1 10h0m3-7h0m0 1h0m1-4h0m0 6h0m1-5h0m1 1h0m0 3h0m1-2h0m0 6h0m0-7h0m1-2h0m0 1h0m4 6h0m0 4h0m1-11h0m6 11h0m1-4h0m2-4h0m5 2h0m1-2h0m3-2h0m3 0h0m2 6h0m2-5h0m0 3h0m4-3h0m3 0h0m2-1h0m5 0h0m1 5h0m9-1h0m3 5h0m2-7h0m14 3h0m-204 16h0m20-5h0m0-5h0m3 8h0m4-6h0m3 2h0m4 2h0m3 2h0m2-5h0m3 2h0m1 5h0m1-1h0m6 1h0m0-3h0m2 2h0m2 2h0m2-11h0m1 4h0m1-1h0m0-3h0m2 4h0m1-4h0m0 1h0m1 1h0m1 8h0m0-7h0m0 2h0m3-4h0m0 1h0m1 0h0m1 5h0m1-1h0m0 4h0m1-7h0m3 1h0m2 4h0m1 2h0m0-10h0m0 2h0m2 3h0m1-4h0m2-1h0m2 4h0m1 5h0m1-4h0m4-5h0m1 1h0m0 8h0m2 1h0m1-8h0m1-1h0m0 8h0m0 2h0m0-7h0m4 5h0m1-8h0m0 2h0m0 6h0m1-8h0m1-1h0m2 1h0m1 7h0m0 3h0m0-11h0m0 2h0m1-1h0m4-1h0m2 5h0m3 3h0m2-8h0m1 5h0m1 2h0m1-7h0m4 11h0m1-4h0m1 3h0m3-10h0m5 4h0m1-3h0m6 1h0m1 2h0m12-2h0m3 7h0m3-4h0m1-3h0m4 2h0m8 0h0m2 2h0m2-2h0m69 6h0m-263 6h0m6-4h0m5 2h0m14-1h0m3 3h0m1 3h0m1-4h0m10 0h0m2 3h0m1-1h0m2-3h0m10 4h0m1-3h0m5 4h0m1-5h0m3 9h0m2-4h0m0 4h0m2-9h0m1 6h0m0 2h0m2-4h0m1-4h0m0 2h0m5-2h0m1 3h0m2-4h0m1 7h0m2-5h0m2 0h0m4 8h0m1-6h0m3-3h0m1 9h0m0-9h0m2 0h0m4 5h0m3-1h0m3-3h0m3 5h0m2 1h0m2-6h0m1 5h0m0-5h0m1 0h0m0 1h0m4-3h0m5 3h0m1 1h0m0-3h0m1 3h0m0 4h0m1-4h0m3 5h0m2-7h0m8 6h0m1 0h0m25-5h0m26-2h0m31 6h0m-280 12h0m3 2h0m51-4h0m23-1h0m1 0h0m2-3h0m5 7h0m1-9h0m17 3h0m3-1h0m7 9h0m4-10h0m14 9h0m5-9h0m1 0h0m3 7h0m9 3h0m11-6h0m11-4h0m9 2h0m2-3h0m1 2h0m6 1h0m3 6h0m1-3h0m1-6h0m12 1h0m3 0h0m8-1h0m6 11h0m1-2h0m11 2h0m4 0h0m12 0h0m12-11h0m6 11h0m2-3h0m22 2h0m14-1h0m7-8h0m4 2h0m3 3h0m17-6h0m-290 21h0m10 2h0m4-1h0m1-7h0m28 2h0m1-5h0m2 7h0m2 3h0m2 0h0m2-8h0m4 6h0m1 3h0m0-8h0m5 4h0m0-1h0m3 3h0m16-8h0m3 1h0m7 7h0m3 2h0m5-11h0m1 1h0m1 8h0m9-6h0m2 8h0m5-7h0m2 2h0m1 1h0m0 4h0m7-5h0m29-1h0m4 0h0m0-5h0m1 0h0m21 6h0m2 3h0m10-8h0m5 1h0m0 5h0m5-4h0m2 2h0m19-3h0m7 7h0m0-7h0m9 9h0m2 0h0m19-2h0m0-5h0m1-3h0m0 8h0m2 0h0m5-1h0m24 0h0m6-2h0m-361 7h0m64 2h0m1 3h0m7 1h0m5 1h0m4-6h0m4 9h0m6-2h0m3-8h0m1 4h0m3-3h0m4 5h0m3 0h0m7-3h0m1 6h0m2-9h0m2 4h0m0 2h0m1 2h0m11 0h0m7-2h0m3-2h0m1-4h0m3 4h0m12 3h0m1 0h0m10 2h0m10-2h0m8 0h0m7 1h0m6-7h0m3 4h0m1-2h0m6-2h0m4 4h0m2 0h0m0 2h0m2-5h0m4 7h0m2-4h0m1 0h0m1-4h0m2 0h0m2-1h0m1-1h0m9 8h0m6-8h0m11 6h0m4 1h0m3-3h0m1 3h0m7-2h0m3 5h0m4 1h0m11-11h0m2 2h0m1 3h0m1 2h0m2 2h0m5 0h0m0 1h0m1-2h0m10-4h0m17 7h0m1-11h0m1 1h0m1-1h0m1 11h0m7-10h0m1 4h0m2-3h0m2 5h0m-288 16h0m5-2h0m8-1h0m1-3h0m7-5h0m2 8h0m3-1h0m14 4h0m2-1h0m5-7h0m1-3h0m2 11h0m4-8h0m4 7h0m11 1h0m2-11h0m1 11h0m4-11h0m1 8h0m2-4h0m7 4h0m0-5h0m1 6h0m2-4h0m16 0h0m5-1h0m2 0h0m3 4h0m1-7h0m0-1h0m7 4h0m2 7h0m4-6h0m2 6h0m2-1h0m11-1h0m4-6h0m3 1h0m5 1h0m1 3h0m2-5h0m0 6h0m3-6h0m2-2h0m2 8h0m1 1h0m5-2h0m0-7h0m1 5h0m1 5h0m1-6h0m3-2h0m0-3h0m1 1h0m0 4h0m1-4h0m4 8h0m0 2h0m6-3h0m3 3h0m0-5h0m6-3h0m4 4h0m2-1h0m8-2h0m2 4h0m4 2h0m3-8h0m5 4h0m1 5h0m5-11h0m6 0h0m2 0h0m3 5h0m5 3h0m4-1h0m2-4h0m2 1h0m1 7h0m3-4h0m1 3h0m2-4h0m2 2h0m3-2h0m3 1h0m1 2h0m2 2h0m2-11h0m4 8h0m2-6h0m-287 14h0m3-4h0m17 5h0m6-3h0m1 3h0m6 3h0m9-3h0m0 6h0m0-9h0m5 1h0m2 6h0m1-1h0m1-5h0m4 1h0m2-3h0m1 7h0m4-8h0m3 9h0m3-1h0m2 1h0m1-2h0m6-3h0m2 0h0m3-4h0m1 9h0m11-7h0m2 5h0m0 4h0m5-3h0m2-4h0m0 2h0m1 2h0m2-3h0m0-4h0m2 1h0m1 9h0m3-4h0m3-5h0m0 6h0m6-5h0m3-1h0m1 9h0m0-8h0m6 4h0m11-6h0m5 3h0m3 5h0m1 2h0m2-10h0m1 3h0m1-1h0m3 8h0m2-5h0m2 2h0m3-4h0m3-4h0m5 8h0m6-2h0m0-1h0m1 5h0m2-3h0m0-3h0m0 4h0m1-8h0m1 5h0m1-4h0m1 10h0m3-1h0m12-4h0m24-1h0m2-4h0m0 7h0m1-6h0m4 2h0m8 1h0m6-4h0m3 3h0m2-1h0m1 3h0m0 2h0m3-2h0m2-6h0m1 2h0m2 4h0m0-5h0m0 2h0m1 6h0m1-1h0m1 1h0m1-7h0m1-2h0m1 7h0m0-1h0m2 1h0m0 4h0m1-1h0m1 0h0m0-9h0m1 5h0m0-5h0m0 4h0m1-5h0m2 6h0m0-2h0m1-1h0m0-1h0m1 4h0m2 0h0m0-5h0m1 2h0m2 8h0m0-11h0m1 4h0m2 2h0m1 0h0m1 2h0m1-4h0m4 6h0m6-9h0m3 0h0m1-1h0m1 10h0m0-8h0m2 1h0m4-2h0m1 5h0m9-2h0m-320 13h0m2-3h0m18 7h0m1-2h0m7-7h0m9 7h0m4 2h0m3-1h0m4-2h0m1-3h0m3-3h0m7 9h0m0-6h0m2 2h0m0 2h0m0 2h0m1 2h0m3-10h0m3 5h0m1 0h0m5 0h0m2-5h0m3 3h0m5 5h0m4 2h0m0-11h0m3 0h0m1 3h0m12-3h0m3 8h0m2 3h0m2-1h0m7-5h0m4 5h0m3-8h0m4 6h0m0-5h0m3 3h0m1-2h0m0 1h0m1 3h0m7-4h0m1-2h0m2-2h0m0 6h0m1 0h0m0 1h0m2 4h0m1-4h0m1 3h0m5-3h0m3-5h0m1 0h0m0-1h0m0 2h0m6 5h0m3-4h0m1 3h0m0-7h0m4 6h0m2 0h0m5-3h0m4-2h0m4 2h0m2 0h0m1 7h0m5-9h0m10-1h0m10 1h0m0-1h0m0 8h0m9-8h0m1 2h0m4 5h0m1-3h0m2 0h0m2 0h0m1 7h0m7-3h0m1 2h0m0 1h0m1-1h0m1 0h0m1-8h0m1 3h0m1-1h0m0 7h0m1-2h0m1-7h0m2 5h0m1 1h0m0-5h0m0-1h0m1 7h0m1-9h0m1 1h0m0 8h0m1 1h0m0-5h0m2 4h0m3 1h0m0-1h0m1-3h0m1 3h0m1 1h0m0-3h0m1 0h0m0 4h0m0-10h0m2 6h0m1-3h0m0 5h0m0 2h0m3-8h0m0-1h0m3 6h0m0 1h0m0 2h0m1-4h0m0 4h0m0-9h0m0 1h0m2 5h0m0 2h0m0-7h0m2 4h0m0-6h0m1 10h0m0-5h0m2 2h0m0-3h0m1 3h0m0-5h0m0 4h0m2 0h0m0 2h0m0-3h0m2-4h0m2 8h0m0-9h0m4 3h0m3 4h0m2-8h0m5 6h0m1 0h0m6-1h0m-337 10h0m8 0h0m14 6h0m19-2h0m4 1h0m4-7h0m8 2h0m2 8h0m2-6h0m4 0h0m2 0h0m4-2h0m4 4h0m14-1h0m1 0h0m3-5h0m6 4h0m3-3h0m3 0h0m5 5h0m3 4h0m1-7h0m3 3h0m2 3h0m14-4h0m3 2h0m3-2h0m0-3h0m11 3h0m3-3h0m3-2h0m1 10h0m2-3h0m3-3h0m8-1h0m3-1h0m0 2h0m0-3h0m3 5h0m4 2h0m1-1h0m2-4h0m1-1h0m2 3h0m4 5h0m0-8h0m3-2h0m0 1h0m9 3h0m7 4h0m3-3h0m6 4h0m1-6h0m10-2h0m1 1h0m10 5h0m4 2h0m2-4h0m9 5h0m3-8h0m0 2h0m7 3h0m0 1h0m1 1h0m1-2h0m1 3h0m1-4h0m1-1h0m1-4h0m1 2h0m1-3h0m1 0h0m1 10h0m1 0h0m1-7h0m1 3h0m0-3h0m1 2h0m0-3h0m0 6h0m1-4h0m0-4h0m1 3h0m0 4h0m0 2h0m0-7h0m1-2h0m0 2h0m0-1h0m1 1h0m0 6h0m0 2h0m1-6h0m1 1h0m0-5h0m1 9h0m0-7h0m0 4h0m0 4h0m1-1h0m0-9h0m0 2h0m0 2h0m0 4h0m0-7h0m2 8h0m0-7h0m0 5h0m1 3h0m0-1h0m0-5h0m1 1h0m1 0h0m1 2h0m0-4h0m1 5h0m0-1h0m0-7h0m0 6h0m1-1h0m1-6h0m0 8h0m0-7h0m0 10h0m1 0h0m0-2h0m0-7h0m2 2h0m0 6h0m1-4h0m0-1h0m0 6h0m1-3h0m0-3h0m0 2h0m0-1h0m1-5h0m0 6h0m1-4h0m2 6h0m0-3h0m0 2h0m0-7h0m0 6h0m1 1h0m0 2h0m0-5h0m0 4h0m0 2h0m1-6h0m0 1h0m1 5h0m1 0h0m1-8h0m0 4h0m0-7h0m2 5h0m0-5h0m1 0h0m1 10h0m1-9h0m1 0h0m0 2h0m2 6h0m1-6h0m0 2h0m0-5h0m1 2h0m0 6h0m1-8h0m0 4h0m2-1h0m4 8h0m0-3h0m1-7h0m5 1h0m1-2h0m1 2h0m2 4h0m1 4h0m2 0h0m5-3h0m4 2h0m-335 5h0m7 5h0m0-7h0m2 3h0m3 8h0m8-9h0m4 6h0m4-3h0m9 2h0m1-2h0m0 5h0m10 1h0m1-10h0m1 6h0m0-5h0m14 2h0m2 6h0m6-3h0m3 1h0m2 1h0m9-1h0m1-8h0m0 1h0m2 7h0m14 3h0m3-10h0m0-1h0m0 2h0m1 0h0m4 2h0m1 3h0m4 3h0m2-10h0m5 11h0m2-5h0m1-4h0m8 0h0m7 5h0m1-4h0m1 1h0m2 5h0m1-1h0m1-7h0m2 1h0m2 4h0m0 2h0m1 2h0m5-5h0m2-2h0m4 3h0m2-3h0m1-2h0m1 0h0m1 4h0m1 0h0m3 3h0m1-4h0m0 2h0m8-3h0m2-1h0m5-2h0m3 5h0m5 2h0m0 2h0m6-2h0m5-1h0m6-3h0m4-3h0m4 4h0m1 5h0m7-1h0m8 1h0m1 1h0m1 1h0m6-7h0m0 6h0m2-9h0m0 2h0m3 7h0m1-2h0m1-6h0m1 5h0m0-3h0m1-3h0m1 6h0m0-7h0m1 11h0m0-1h0m2 0h0m1 0h0m1-4h0m1-6h0m1 8h0m0-5h0m0 6h0m0-9h0m1 6h0m1-3h0m0 4h0m1 4h0m1-7h0m1 4h0m0-3h0m0-5h0m1 0h0m0 8h0m0 2h0m0-3h0m1 1h0m0 2h0m0-1h0m1-1h0m1-3h0m0 6h0m0-9h0m1 7h0m0-9h0m0 6h0m1 2h0m0-3h0m0 4h0m0-3h0m0-5h0m1 5h0m0 3h0m0-9h0m1 4h0m1 5h0m0 2h0m1-11h0m0 8h0m0-3h0m2 5h0m0 1h0m1-10h0m0 2h0m0-1h0m1 8h0m0-7h0m0 1h0m1 4h0m0-7h0m0 8h0m0 2h0m0-5h0m1 2h0m0-7h0m0 2h0m0 6h0m1-2h0m0 4h0m0-9h0m0 2h0m0 4h0m1-7h0m0 2h0m0 2h0m0 6h0m0-11h0m0 4h0m1-2h0m0 2h0m0 2h0m0 2h0m1-5h0m0 6h0m0-7h0m0 2h0m1 4h0m0-3h0m1 1h0m0 2h0m0 2h0m0 1h0m1-1h0m0-9h0m1 4h0m0 2h0m0-5h0m1 7h0m0 2h0m1-1h0m0-5h0m0-5h0m0 1h0m1 9h0m0-3h0m0 2h0m0-8h0m1 9h0m0-9h0m0 5h0m1 5h0m0-7h0m0 2h0m0-1h0m1-4h0m0 6h0m0 2h0m0-9h0m0 4h0m2 3h0m0-5h0m0 2h0m0 2h0m1-4h0m1 8h0m1-9h0m2 9h0m0-10h0m1 6h0m1-4h0m1 5h0m1 2h0m0-9h0m2 2h0m0 2h0m0 2h0m5 5h0m2-1h0m1-1h0m1 0h0m5 1h0m2-8h0m9 6h0m1 0h0m-362 14h0m24-3h0m3 1h0m12-7h0m11 10h0m22-4h0m4 1h0m7 2h0m7-6h0m15 3h0m6-5h0m3 4h0m5-6h0m8 10h0m1 1h0m0-11h0m2 0h0m6 9h0m3 1h0m0-7h0m0 6h0m4-3h0m1 1h0m2 3h0m4-5h0m1 6h0m0-3h0m6-7h0m1 9h0m2-9h0m2 7h0m1-1h0m2 4h0m3-1h0m2 0h0m2-7h0m1 1h0m1-2h0m7 6h0m3-1h0m10-5h0m2 4h0m2-3h0m2 0h0m0 4h0m0-7h0m2 9h0m0-1h0m1 2h0m6-4h0m1 3h0m1-4h0m1-1h0m1 4h0m8-5h0m0-3h0m2 8h0m0 1h0m3-3h0m0-3h0m3-3h0m0 2h0m2 8h0m9-10h0m3 0h0m6 7h0m1-4h0m9 8h0m4-3h0m3 0h0m1-7h0m0 2h0m1 0h0m2 2h0m4 3h0m0-5h0m0 2h0m3 0h0m3-4h0m1 10h0m0-7h0m1 3h0m1 0h0m1 0h0m2 1h0m0 1h0m0-7h0m0 2h0m1 4h0m0-5h0m1 7h0m0-1h0m0-9h0m1 9h0m0 2h0m0-10h0m1 2h0m0 6h0m0-9h0m1 2h0m1 4h0m0-5h0m0 2h0m0 2h0m2 2h0m0 2h0m0 2h0m0-5h0m1 2h0m0-5h0m0 4h0m0 4h0m0-11h0m0 2h0m1-1h0m0 6h0m0-7h0m1 10h0m0-3h0m0 4h0m1 0h0m0-7h0m0 4h0m0-7h0m0 9h0m1 0h0m0-5h0m0 6h0m0-11h0m1 9h0m0-1h0m0-3h0m1 1h0m0 2h0m0-7h0m0 1h0m1 5h0m0 2h0m0-5h0m0 2h0m1-5h0m0 6h0m0 2h0m1-1h0m0-6h0m1-2h0m0 2h0m0 4h0m0 2h0m0-7h0m1 10h0m0-3h0m0-5h0m1 2h0m0 1h0m1-1h0m0 4h0m0-9h0m0 6h0m0 2h0m0-7h0m1 8h0m0 2h0m0-9h0m1 5h0m0 2h0m2-8h0m0 7h0m0 2h0m0-3h0m0-5h0m1 7h0m0-7h0m0 8h0m1-5h0m0-5h0m0 8h0m1-5h0m0 4h0m0-7h0m1 8h0m0 2h0m0-7h0m0 2h0m0 4h0m0 2h0m0-9h0m0 2h0m1 1h0m0-3h0m0 4h0m1 2h0m0 2h0m1-2h0m0-7h0m2 3h0m0-3h0m1 1h0m1-2h0m0 2h0m1-1h0m1-1h0m0 3h0m1 7h0m0-5h0m0 2h0m0 4h0m1-4h0m0-7h0m0 2h0m0-1h0m1 10h0m0-9h0m0 4h0m1 1h0m0 2h0m0-7h0m1 7h0m0-6h0m0 2h0m1 1h0m0 2h0m0-1h0m1-3h0m1-1h0m0 2h0m1 1h0m0 2h0m0-5h0m1 7h0m0-8h0m1 0h0m2 9h0m3-7h0m1 7h0m1-6h0m0-5h0m1 9h0m1-2h0m1 0h0m-331 5h0m1 1h0m7 9h0m19-4h0m17-4h0m12 9h0m3 0h0m1-1h0m6-7h0m7 5h0m2 1h0m1-1h0m5 3h0m5-10h0m4 3h0m2 7h0m22-10h0m3 6h0m0-5h0m2 6h0m10 1h0m1-6h0m3 5h0m11-2h0m0 5h0m4-7h0m5 2h0m0-3h0m7-1h0m3 4h0m2 0h0m1 0h0m0 3h0m1-6h0m4 1h0m0-2h0m1 4h0m0-5h0m1 1h0m4 5h0m2-4h0m4 0h0m2 0h0m0 8h0m4-9h0m7 1h0m5 3h0m1 5h0m2-3h0m0-7h0m10 10h0m0-9h0m1-1h0m5 0h0m1 3h0m5 6h0m2-10h0m2 6h0m4 3h0m6-8h0m0 2h0m1 5h0m3-7h0m2 6h0m0-7h0m10 0h0m2 5h0m0-3h0m0 2h0m1 1h0m1-2h0m0-1h0m1 3h0m3 3h0m0-5h0m0 2h0m1 1h0m1 4h0m1-7h0m0-2h0m1-1h0m2 7h0m0 4h0m1-2h0m0-9h0m2 2h0m0 5h0m2 3h0m1-9h0m0 7h0m0-3h0m0-1h0m1 2h0m0 3h0m1-9h0m0 8h0m1 1h0m0 2h0m0-9h0m0 6h0m0-5h0m1 4h0m0-7h0m0 8h0m1 2h0m0-5h0m0-3h0m0 4h0m1 1h0m1-6h0m0 9h0m0-7h0m1 1h0m0-3h0m1 7h0m0 2h0m0-6h0m0 2h0m1-1h0m0 4h0m0-7h0m0 6h0m0 2h0m1 0h0m0-5h0m0 4h0m0 2h0m0-5h0m0-5h0m1 9h0m0-7h0m0 3h0m0 2h0m1-6h0m0 4h0m1 3h0m0-9h0m0 6h0m0 2h0m0-7h0m0 2h0m1 3h0m0 2h0m0-5h0m1 5h0m0-7h0m0 4h0m0 2h0m1 3h0m0-3h0m0 2h0m0-5h0m0-3h0m1 1h0m0 4h0m0 2h0m0-7h0m0 2h0m0 4h0m0 2h0m1-1h0m1-5h0m0 2h0m0 2h0m0 2h0m0-7h0m0 2h0m1-1h0m0 2h0m0-5h0m0 4h0m0 2h0m1 0h0m0-5h0m0 8h0m1-2h0m0 2h0m0 2h0m0-9h0m0 2h0m0-1h0m1 2h0m0 6h0m0-9h0m0 6h0m0-7h0m1 10h0m0-5h0m0 4h0m1-5h0m0-1h0m1 5h0m0-9h0m0 2h0m0 8h0m1-3h0m1-2h0m0 4h0m0-5h0m0-3h0m1 7h0m0-3h0m0 6h0m1-4h0m0-7h0m0 2h0m0 2h0m0 6h0m1-9h0m1 4h0m0-5h0m0 4h0m0 2h0m0 2h0m1-7h0m0 4h0m0 6h0m0-11h0m1 11h0m0-11h0m0 9h0m1-2h0m0 1h0m0-7h0m1 1h0m0-1h0m0 4h0m1 2h0m0 4h0m0-11h0m2 5h0m0-4h0m1-1h0m0 2h0m0-1h0m0 2h0m1 8h0m1-2h0m1-2h0m0-3h0m0 2h0m0-5h0m1 3h0m1 7h0m0-8h0m0 2h0m0 4h0m2-1h0m4-8h0m1 7h0m0-7h0m1 1h0m-364 11h0m35 2h0m2-1h0m0 2h0m5 2h0m10-1h0m3 0h0m3 6h0m6 1h0m1-6h0m5 2h0m1-4h0m11 1h0m3-3h0m2 1h0m1 6h0m0-3h0m4-4h0m2 3h0m6-1h0m3-1h0m1 7h0m0-5h0m1 2h0m2 4h0m1-3h0m4-3h0m0 6h0m2-1h0m0 2h0m0-6h0m2 5h0m0-3h0m1-1h0m1-1h0m1 0h0m1-3h0m0 6h0m0-5h0m3 0h0m2 0h0m3 4h0m1 4h0m0-11h0m1 5h0m1 6h0m2-10h0m1 8h0m0-3h0m4-1h0m0-1h0m4 7h0m1-2h0m0 2h0m4-1h0m0-3h0m3-7h0m1 7h0m2 3h0m1-4h0m8-5h0m0 3h0m1 3h0m9 3h0m1-6h0m1 7h0m3-1h0m1-10h0m6 1h0m1 7h0m1-6h0m5 7h0m0-5h0m1-1h0m0 2h0m0-3h0m6 3h0m1-5h0m0 6h0m1 0h0m2 2h0m2-2h0m0 4h0m0-3h0m1-5h0m1 4h0m0-1h0m0 4h0m4-9h0m0 8h0m1 1h0m1-9h0m1 8h0m0 1h0m3 0h0m0-3h0m1 0h0m0 2h0m5 1h0m2-3h0m1 1h0m1-6h0m1 7h0m2-3h0m3-4h0m3 5h0m0 1h0m1-7h0m2 3h0m2 3h0m1 1h0m0 4h0m1-4h0m4 4h0m1-10h0m2-1h0m2 8h0m3-6h0m8 4h0m1-6h0m0 5h0m3-4h0m3 3h0m1 6h0m1-9h0m1 4h0m2-5h0m8 10h0m1-5h0m3 1h0m1-4h0m0-1h0m2 8h0m0-1h0m1-2h0m0-6h0m1 8h0m2-6h0m0 2h0m0 4h0m1-8h0m1 10h0m1-3h0m2-1h0m1-6h0m1 0h0m0 4h0m1 1h0m0-1h0m0 2h0m1 1h0m0-6h0m1 10h0m0-7h0m1 6h0m1-7h0m0 1h0m1 5h0m1 1h0m0-9h0m0 4h0m0 6h0m1 0h0m0-5h0m0-3h0m1 7h0m0-5h0m0 6h0m1-1h0m1-10h0m0 8h0m0 2h0m2-5h0m0 2h0m0-7h0m0 8h0m0-5h0m1 0h0m0 8h0m1-8h0m0 2h0m0 6h0m0-9h0m0 2h0m0 2h0m1-1h0m0 2h0m0-7h0m0 6h0m0 2h0m1-1h0m0 4h0m0-9h0m1 0h0m0 2h0m0-1h0m1-1h0m0 4h0m1 1h0m0 2h0m0-7h0m0 4h0m0 4h0m0-9h0m1 4h0m0-1h0m1 6h0m0-5h0m1-5h0m0 3h0m0 2h0m1 1h0m0-1h0m0 2h0m0-5h0m0 2h0m1 3h0m0-7h0m0 10h0m0-7h0m1 0h0m0 1h0m0 2h0m1 0h0m0 2h0m0-7h0m0 2h0m1 7h0m0-1h0m0 2h0m0-5h0m1-6h0m0 4h0m0 4h0m1-3h0m0 4h0m0 2h0m0-5h0m0 2h0m1-3h0m0-3h0m1 1h0m0 7h0m0-8h0m0 2h0m1-2h0m0 1h0m0 2h0m0 2h0m0 2h0m1-2h0m0-5h0m0 4h0m0 2h0m0-7h0m0 2h0m1-2h0m0 6h0m0 4h0m1-8h0m0 3h0m1-2h0m0 4h0m0-7h0m0 2h0m0 2h0m0 4h0m0 2h0m1-2h0m0-7h0m1 4h0m0 2h0m0-5h0m0 2h0m1 2h0m0 4h0m0-9h0m0 2h0m0 2h0m1 5h0m0-3h0m1 3h0m0-5h0m0-5h0m0 4h0m1-4h0m0 2h0m1 4h0m0 2h0m0-9h0m0 2h0m1 4h0m1-4h0m0 2h0m0 2h0m0-5h0m1-1h0m1 11h0m0-5h0m1-1h0m0 6h0m3-4h0m0 2h0m1-5h0m0 2h0m0-5h0m2-1h0m0 2h0m0 6h0m0-3h0m1 6h0m0-9h0m1 4h0m2-1h0m0 4h0m0-9h0m0 10h0m1 0h0m0-5h0m0-1h0m2-4h0m0 6h0m0-5h0m3 5h0m4 3h0m4 0h0m1-4h0m5 4h0m-377 12h0m21-8h0m3 2h0m2 4h0m6 4h0m1-6h0m1 5h0m1 0h0m1-9h0m0 6h0m11-3h0m12 6h0m6 0h0m7 0h0m0-9h0m7 10h0m1 0h0m2-11h0m6 3h0m3 7h0m8-7h0m3 8h0m7-1h0m2-8h0m1 7h0m4-4h0m0 2h0m4-3h0m3 0h0m1 6h0m5-3h0m1-2h0m1 5h0m0-8h0m4 8h0m1-7h0m2 2h0m1 6h0m2-3h0m0 2h0m1-9h0m1 4h0m0 2h0m3 1h0m3 2h0m0-9h0m1 4h0m2-5h0m0 6h0m4 5h0m2-1h0m1-6h0m1 4h0m0 1h0m1 1h0m0-3h0m1 4h0m0-1h0m0-1h0m1 0h0m1 0h0m3-8h0m2 7h0m0-6h0m0 2h0m1 3h0m2 2h0m5-6h0m1 2h0m2 2h0m0 4h0m0-5h0m2-1h0m0-3h0m1 6h0m1-3h0m0-5h0m0 6h0m1-4h0m0 8h0m1-6h0m0-4h0m1 4h0m0-3h0m0 1h0m1 1h0m1 3h0m1-5h0m1 8h0m2-1h0m0-7h0m0 4h0m0-1h0m1-1h0m3 8h0m0-11h0m3 2h0m1 2h0m1 7h0m0-7h0m1 3h0m0 1h0m1-2h0m0-3h0m0 4h0m2 4h0m2-3h0m0-3h0m1 5h0m1-10h0m1 9h0m1-7h0m1-2h0m1 10h0m0-3h0m5-1h0m0 2h0m1-7h0m0 10h0m1 0h0m2-4h0m1-1h0m0 1h0m1 1h0m0-1h0m0 4h0m1-4h0m0 4h0m1-3h0m0 2h0m0 1h0m0-11h0m3 3h0m0 2h0m1-1h0m1-1h0m1 5h0m1 3h0m1-6h0m0 3h0m0-7h0m1 6h0m5 2h0m1-3h0m1-6h0m1 9h0m1-9h0m0 2h0m0 4h0m1 2h0m1-8h0m1 11h0m2-5h0m0 4h0m0-3h0m1 2h0m0-9h0m1 10h0m4-4h0m0 4h0m2-2h0m2 1h0m2-4h0m2-2h0m1-1h0m1 9h0m1-11h0m2 10h0m1-2h0m0 2h0m5 0h0m1-3h0m0 2h0m4-1h0m0-1h0m0-5h0m2-2h0m0 1h0m1 0h0m1 8h0m1 1h0m2-1h0m0-3h0m2-5h0m3 1h0m0 2h0m2 6h0m3-1h0m1-9h0m0 7h0m1 2h0m0-5h0m2 4h0m1 1h0m0 2h0m0-5h0m0 2h0m0-7h0m1 5h0m1-2h0m0-3h0m1 7h0m0-5h0m0 2h0m0 1h0m1 0h0m0-5h0m0 2h0m1 8h0m0-11h0m0 2h0m0 2h0m1 6h0m0-3h0m0-5h0m0 1h0m2-3h0m1 4h0m0-3h0m0 4h0m1 4h0m0 2h0m1-7h0m0 5h0m1-2h0m0-6h0m1 5h0m1-5h0m0 2h0m0 3h0m0 2h0m1-3h0m0 2h0m1 0h0m0-7h0m0 4h0m0 4h0m0-5h0m0 2h0m1 4h0m1-9h0m0 6h0m0 4h0m0-7h0m1-2h0m0 2h0m0 6h0m0 2h0m0-5h0m0 2h0m1 1h0m0 2h0m0-9h0m0 2h0m0 4h0m1 0h0m1 3h0m0-11h0m0 4h0m0 4h0m0 2h0m0-7h0m1 7h0m0 1h0m0-9h0m0 4h0m1-3h0m0 6h0m0 2h0m1-2h0m0-7h0m1 2h0m0 2h0m0-3h0m0 2h0m1 0h0m0 2h0m0 2h0m0 1h0m0-9h0m0 2h0m1-3h0m0 4h0m0-3h0m1 2h0m0-3h0m0 8h0m1-6h0m0 8h0m0-7h0m0 4h0m0 2h0m1-4h0m0 4h0m0-9h0m0 1h0m1 0h0m0-1h0m1 5h0m0-1h0m0 6h0m1-4h0m1 5h0m0-10h0m0 2h0m1 3h0m1-4h0m0 1h0m1 7h0m0-5h0m0 1h0m1-4h0m0 8h0m1-3h0m0-3h0m0-1h0m1-3h0m1 9h0m0 2h0m1-6h0m0 1h0m0-3h0m1 4h0m1 4h0m0-10h0m1 2h0m1 7h0m2-10h0m0 2h0m0 8h0m2-4h0m1 1h0m0-7h0m1 5h0m0-5h0m3 3h0m1-2h0m1 10h0m0-8h0m1 4h0m1-3h0m0 5h0m1-7h0m2 6h0m11-8h0m-388 23h0m14-1h0m6-1h0m4 0h0m3-3h0m4-2h0m2 3h0m12-5h0m1 5h0m7 4h0m5-4h0m0-7h0m1 11h0m0-6h0m8-1h0m0 2h0m1-3h0m0 2h0m6-2h0m1 7h0m1-1h0m0 2h0m1 0h0m1-6h0m2 6h0m1-11h0m2 11h0m1 0h0m0-8h0m1 5h0m1-5h0m1 3h0m2-2h0m4 6h0m0-10h0m5 6h0m0 4h0m2-1h0m1-1h0m1-8h0m1 7h0m1 4h0m0-10h0m1 6h0m2 3h0m1-9h0m0 1h0m1 5h0m2-2h0m2 6h0m1-7h0m3 5h0m1-1h0m1-5h0m1 4h0m0 2h0m0 2h0m0-1h0m1 1h0m1-10h0m3-1h0m0 6h0m2 2h0m3-3h0m0 2h0m2-1h0m0-6h0m1 3h0m0 2h0m0 6h0m0-7h0m1 5h0m2 2h0m1-2h0m0-3h0m0 2h0m0-1h0m1-3h0m1 0h0m0 6h0m0-3h0m1 1h0m0 1h0m2-7h0m1 0h0m0 4h0m0 1h0m1 4h0m0-3h0m1-2h0m1 4h0m0-7h0m0-3h0m1 5h0m0-3h0m1 6h0m0 1h0m1 2h0m2-9h0m1 2h0m1 5h0m3 2h0m0-5h0m1 5h0m0-7h0m0 4h0m0 2h0m0-1h0m1 2h0m0-4h0m2-3h0m1-1h0m0 2h0m0 4h0m1-4h0m0-3h0m1 9h0m0-3h0m0 2h0m1-3h0m1 1h0m1-7h0m0-1h0m1 10h0m1-4h0m0 2h0m0-4h0m1 5h0m1-4h0m0 4h0m1-1h0m1-4h0m0-1h0m0 4h0m0 2h0m1-7h0m1 8h0m1-10h0m0 9h0m0 2h0m0-4h0m1 3h0m0 1h0m0-11h0m1 6h0m1 5h0m0-3h0m0 2h0m0-9h0m0 6h0m1 4h0m1-6h0m0 5h0m1-1h0m1-6h0m0 1h0m0-3h0m1 5h0m0 2h0m0 1h0m1-3h0m0 5h0m1-1h0m1 0h0m0-5h0m0 2h0m1 4h0m1-6h0m0 6h0m1-11h0m1 6h0m0 2h0m0-3h0m1 2h0m0 4h0m0-7h0m0 4h0m1-4h0m0 6h0m1 0h0m0-1h0m0 2h0m0-7h0m1-1h0m1 2h0m0 4h0m0-5h0m1 7h0m0-6h0m1 0h0m0 2h0m0-7h0m1 8h0m0-3h0m0 4h0m0-5h0m1 6h0m0-6h0m2 1h0m1 3h0m0-5h0m0 8h0m1-2h0m0-1h0m0 2h0m1-1h0m1 1h0m0-9h0m0 8h0m0 2h0m1-2h0m0 2h0m1-4h0m0-5h0m0 6h0m0 2h0m0-7h0m1 5h0m1 0h0m0-2h0m0-5h0m1 0h0m0 4h0m0 2h0m1 1h0m0-3h0m0 4h0m0 2h0m0-11h0m0 4h0m1-1h0m0-1h0m0 2h0m1 3h0m2 4h0m1-11h0m0 6h0m1 4h0m1 0h0m0 1h0m0-7h0m1 0h0m0 1h0m2 3h0m0-5h0m0 2h0m0 4h0m1 0h0m0 2h0m0-6h0m1-4h0m0 10h0m0-5h0m3-4h0m0 8h0m1-10h0m1 6h0m0-3h0m1-3h0m1 7h0m0 4h0m0-3h0m1-7h0m1 7h0m0 2h0m0-5h0m0-3h0m0 4h0m1 3h0m0-7h0m0 4h0m1 3h0m1-3h0m1-5h0m0 3h0m1 3h0m1 1h0m1 1h0m0-9h0m0 6h0m1 4h0m0-4h0m1 2h0m0-5h0m0 6h0m2-7h0m0 9h0m2-6h0m0 4h0m0 2h0m2 0h0m0-11h0m0 6h0m0-3h0m0 6h0m1-1h0m0-5h0m0-3h0m1 7h0m1-5h0m2 7h0m1 1h0m0 1h0m1-6h0m0 1h0m1 5h0m1-5h0m1 5h0m1-5h0m0 2h0m1 3h0m1-4h0m0-3h0m2-4h0m0 2h0m1 4h0m1-4h0m0-1h0m1 3h0m0-3h0m1 9h0m0-4h0m1-3h0m1 3h0m0 5h0m2-5h0m1-6h0m1 10h0m1-8h0m3 7h0m0-1h0m0-7h0m2 8h0m2-2h0m0 4h0m1-1h0m1 1h0m0-9h0m2 5h0m1-2h0m0-3h0m1 8h0m1-3h0m2-3h0m1-4h0m3 7h0m0-6h0m1 3h0m1 2h0m1 4h0m1-7h0m1 8h0m1-10h0m0 9h0m1-7h0m0 2h0m1-2h0m6-3h0m0 1h0m2 5h0m0-5h0m0 4h0m1-5h0m1 9h0m1-3h0m1-2h0m0 5h0m1-2h0m0 4h0m0-7h0m0 6h0m1-6h0m0 4h0m1-5h0m0 4h0m0 4h0m0-1h0m1 0h0m0-7h0m0 2h0m1 2h0m0 2h0m0-9h0m0 2h0m1 1h0m0 2h0m0 2h0m0-3h0m1 1h0m0 2h0m0-7h0m1 3h0m0-3h0m0 2h0m1-2h0m0 2h0m0 4h0m0-5h0m1 5h0m0 3h0m1 0h0m0-7h0m0 2h0m2-1h0m0 4h0m0 2h0m1-2h0m0-7h0m0 6h0m0-3h0m0 2h0m1-4h0m1 4h0m0 4h0m0-5h0m1 0h0m1-2h0m0 2h0m1 0h0m0 4h0m0-1h0m1-2h0m0-3h0m0-1h0m1 10h0m0-10h0m1 2h0m0 8h0m1-6h0m0-3h0m0 4h0m0-5h0m2 4h0m0 6h0m0-5h0m0 2h0m1-1h0m0 4h0m0-1h0m0-9h0m0 2h0m0 2h0m1-4h0m0 2h0m0 8h0m0-11h0m0 10h0m1-2h0m0 2h0m1-8h0m0 8h0m0-9h0m1 6h0m0-7h0m0 8h0m0-3h0m1 2h0m0-7h0m1 9h0m0-9h0m0 4h0m0-1h0m1 7h0m1 1h0m0-3h0m1-8h0m0 2h0m0 6h0m1 1h0m0-9h0m0 8h0m1-3h0m0 4h0m0-7h0m0 6h0m0-5h0m1 1h0m1-4h0m0 4h0m0 6h0m0-9h0m0 4h0m1 5h0m0-7h0m0 4h0m0 4h0m1-6h0m1 5h0m1 1h0m2-2h0m0-6h0m1-3h0m0 2h0m2-2h0m1 10h0m1-4h0m1 0h0m0-1h0m1-2h0m0 2h0m0-3h0m1 9h0m1-4h0m1-6h0m1 5h0m1 5h0m0-3h0m1 3h0m0-6h0m1 5h0m0-5h0m2-2h0m6 4h0m10-6h0m1 8h0m-401 9h0m6-4h0m9 6h0m2-4h0m10 5h0m2-2h0m2 0h0m3-5h0m6-2h0m8 2h0m1 4h0m0 1h0m1-6h0m2 6h0m2 4h0m1-6h0m0-5h0m0 6h0m4-6h0m0 8h0m1-6h0m3 4h0m1 4h0m1-8h0m0 8h0m1-3h0m1 4h0m2-1h0m3-3h0m1 0h0m0-3h0m2 5h0m3-2h0m1-1h0m0 4h0m0-7h0m1 6h0m1-2h0m1 1h0m0-3h0m0 2h0m1-6h0m0 1h0m1 6h0m1-8h0m0 4h0m1 6h0m3-7h0m1-1h0m0 8h0m0-3h0m1 0h0m2 3h0m1-4h0m0 3h0m1-2h0m0-7h0m0 11h0m0-3h0m1-4h0m2 4h0m0 2h0m1-8h0m0 6h0m1 3h0m0-1h0m0-5h0m1 2h0m0-1h0m0 4h0m1-2h0m0-3h0m0-1h0m1 0h0m0-4h0m1 5h0m0 2h0m0-5h0m0 6h0m2-7h0m0 2h0m2-3h0m0 4h0m1 1h0m2-1h0m0 2h0m0-1h0m0 4h0m1-8h0m0-1h0m1 9h0m0-3h0m1 1h0m0 1h0m1-4h0m0 5h0m1-9h0m0 5h0m3 4h0m2-3h0m0-1h0m1 4h0m0-3h0m1-3h0m1 3h0m0-5h0m0 2h0m0 2h0m0-3h0m1 2h0m1-2h0m0 6h0m1 2h0m0-5h0m0 4h0m0-9h0m0 6h0m1 5h0m0-3h0m0-3h0m3 3h0m0-1h0m1-3h0m0 6h0m0-9h0m0 10h0m2 0h0m0-6h0m1-1h0m1 1h0m1 4h0m0-5h0m0-4h0m1 2h0m0 4h0m1 0h0m0-1h0m1-1h0m0 6h0m1-10h0m0 4h0m0 2h0m0 4h0m0-7h0m1 1h0m0-4h0m2 2h0m1 4h0m0-4h0m1 4h0m0 1h0m0 2h0m1-9h0m0 9h0m1-6h0m1-3h0m1 11h0m1-7h0m0-3h0m0 4h0m1 1h0m0-1h0m0-5h0m1 9h0m1-2h0m1 3h0m0-1h0m1-3h0m0 2h0m0-3h0m0 4h0m1-4h0m0 3h0m1 1h0m1 2h0m0-7h0m0-3h0m1 0h0m0-1h0m1 11h0m1-6h0m0 6h0m0-9h0m1 7h0m0-2h0m0-7h0m1 6h0m0-1h0m1 2h0m0-3h0m1-1h0m0 2h0m0-5h0m0 2h0m0 2h0m0 7h0m1-5h0m0-3h0m1-1h0m1-2h0m0 6h0m1 5h0m0-10h0m0 1h0m1 2h0m0 2h0m0-3h0m0 6h0m1-4h0m0-3h0m1 4h0m0-3h0m1 5h0m1 3h0m1 0h0m1-6h0m0 2h0m0 2h0m1-6h0m0 2h0m0-1h0m1 3h0m0 2h0m1-9h0m0 11h0m0-6h0m1 1h0m0-5h0m0 2h0m1 5h0m0-5h0m0 1h0m1-1h0m0 4h0m0-3h0m1 1h0m0 6h0m0-11h0m0 4h0m1 0h0m0 2h0m1 2h0m0 3h0m0-11h0m1 7h0m0-5h0m1 1h0m0 2h0m1 2h0m0 2h0m0-1h0m0 2h0m1-10h0m0 9h0m0 2h0m1 0h0m0-9h0m1 2h0m0 4h0m0-1h0m1-4h0m0 8h0m0-7h0m0 4h0m1 0h0m0-1h0m0 2h0m0 2h0m1-8h0m0 2h0m0 4h0m0 2h0m0-5h0m1 0h0m0-1h0m0 4h0m0 2h0m1-3h0m0-5h0m1 5h0m1 1h0m0 2h0m0-9h0m0 4h0m0 2h0m0-5h0m1 5h0m0 3h0m0-9h0m1-2h0m0 11h0m0-10h0m0 6h0m0 2h0m1-6h0m0 2h0m0 4h0m0-9h0m0 6h0m1 1h0m0 2h0m0-9h0m0 6h0m0 2h0m0-5h0m1-3h0m1 7h0m1-3h0m0 2h0m0 4h0m0-8h0m1 7h0m0-9h0m0 4h0m2 2h0m0-3h0m0 6h0m1-4h0m0-1h0m0 2h0m1-2h0m0-3h0m1 8h0m0 2h0m0-5h0m0 4h0m1-2h0m0 2h0m0-9h0m0 10h0m0-7h0m1 1h0m0 6h0m0-11h0m0 4h0m0 2h0m1 2h0m0-3h0m0 1h0m1-3h0m0 4h0m0 2h0m1-2h0m1-1h0m0 2h0m0-7h0m0 2h0m0 2h0m0 4h0m0-7h0m1 1h0m0-3h0m0 8h0m1-8h0m0 10h0m1-9h0m0 2h0m0 4h0m0-5h0m1 6h0m0 2h0m0-9h0m0 4h0m1 6h0m0-5h0m1-4h0m0 2h0m0-3h0m0 2h0m0 4h0m1 0h0m0 2h0m1-3h0m0 4h0m0-9h0m0 6h0m1 3h0m0-1h0m0-5h0m1 7h0m1-9h0m1 4h0m0-5h0m1 1h0m0 2h0m1 1h0m0-3h0m1-2h0m0 2h0m0 4h0m0 2h0m1 0h0m0-7h0m1 3h0m1 6h0m0-1h0m0 2h0m1-10h0m0 2h0m1 0h0m0 2h0m0 4h0m0-9h0m0 2h0m1-1h0m0 4h0m0-3h0m0 2h0m2 4h0m0-7h0m0 2h0m0 8h0m1-3h0m1-1h0m0 2h0m0-5h0m1-1h0m0 2h0m0 2h0m0 1h0m1-4h0m1 4h0m0 2h0m0-9h0m0 2h0m1-2h0m0 1h0m1 2h0m0 6h0m1-5h0m0-1h0m0 4h0m2-7h0m0 10h0m0-7h0m1 6h0m0-1h0m1-4h0m0 6h0m0-9h0m1 9h0m0-5h0m0 4h0m0-1h0m1-2h0m0 4h0m0-11h0m1 1h0m0 4h0m0 2h0m1-1h0m0 2h0m2 0h0m1-2h0m0 1h0m0-7h0m1 5h0m0-2h0m0 7h0m1-6h0m0 6h0m0-9h0m1 1h0m0 2h0m0 2h0m1-1h0m1 4h0m1 1h0m0-7h0m0 4h0m0-7h0m0 2h0m0 2h0m1-2h0m0-1h0m1 0h0m0 9h0m1-2h0m1 2h0m0-7h0m0 3h0m0 2h0m0-7h0m1 4h0m0 2h0m0 2h0m0 2h0m0-5h0m2 4h0m1 1h0m0-11h0m1 1h0m1 5h0m1 2h0m0-1h0m1-4h0m1 6h0m0-9h0m0 2h0m2 6h0m1 1h0m0-7h0m1 5h0m0 4h0m0-5h0m0 4h0m1-8h0m3 7h0m0-5h0m1 7h0m0-8h0m1 8h0m0-9h0m3-1h0m4 2h0m0 6h0m0-7h0m2 2h0m2-3h0m2 10h0m1 0h0m0-11h0m0 1h0m1 8h0m0 2h0m0-1h0m1-5h0m0-5h0m1 7h0m0-6h0m1-1h0m0 5h0m1 1h0m1-4h0m0 2h0m0 4h0m0 2h0m0-9h0m0 8h0m1-4h0m0-3h0m1 8h0m1-5h0m1 0h0m1-3h0m1 7h0m1-3h0m0-3h0m0 2h0m1 4h0m1 0h0m0 2h0m0-8h0m1-2h0m1-1h0m1 3h0m1-3h0m0 2h0m0 2h0m1 5h0m1-5h0m0 4h0m0-8h0m1 7h0m0-3h0m0 2h0m2 3h0m0-7h0m0 4h0m0-5h0m1 7h0m0 1h0m0 2h0m1-2h0m0-3h0m1-3h0m0 4h0m0 4h0m1-1h0m0-7h0m0 8h0m0-11h0m1 0h0m0 2h0m0 4h0m0 4h0m1-9h0m0 4h0m1-2h0m1 8h0m0-11h0m0 4h0m0 2h0m0 2h0m1-6h0m0 6h0m1 2h0m0-9h0m0 4h0m0 2h0m1 4h0m0-5h0m0 2h0m0-5h0m1 5h0m0-3h0m1 5h0m0-9h0m0 2h0m0 2h0m0-5h0m0 4h0m1 5h0m0 1h0m1-7h0m0 8h0m0-9h0m0 6h0m0 2h0m1-5h0m0 4h0m0-7h0m0 2h0m0 2h0m0-5h0m1 0h0m1 10h0m0-7h0m0 2h0m0 2h0m0-7h0m0 6h0m1-7h0m0 2h0m1 5h0m0 4h0m0-8h0m1 6h0m0-9h0m0 2h0m0 4h0m0 4h0m0-3h0m1-4h0m0 6h0m1 2h0m0-7h0m1-1h0m0 2h0m0 3h0m1 1h0m0 2h0m0-9h0m0 8h0m0-7h0m0 2h0m1 6h0m0-7h0m0-1h0m0 2h0m0-5h0m1 4h0m0 4h0m0 2h0m0-9h0m0 4h0m0 2h0m1 2h0m0-3h0m0 2h0m0-5h0m1 4h0m0-1h0m0 2h0m1-2h0m0 4h0m0-7h0m1 0h0m0-3h0m0 7h0m1 2h0m0 2h0m0-8h0m1-3h0m0 4h0m1-1h0m0 1h0m1-2h0m1 5h0m1-4h0m0 2h0m0 2h0m0-7h0m1 2h0m1 6h0m0-7h0m0 2h0m1 7h0m0-7h0m1 8h0m0-9h0m0 6h0m0 2h0m0-9h0m1 3h0m1-4h0m1 1h0m0-1h0m1 3h0m0-3h0m2 2h0m0 4h0m0-1h0m0-5h0m1 3h0m2 5h0m0 2h0m1-3h0m1-1h0m0-4h0m4 5h0m1 2h0m3-8h0m0 2h0m1 8h0m1-4h0m1 1h0m1 1h0m0-3h0m5 4h0m-389 7h0m4 2h0m0-1h0m11 3h0m1-3h0m1 3h0m2 1h0m1-10h0m9 5h0m5 2h0m0-5h0m5 6h0m1-2h0m1 2h0m2-2h0m0-6h0m1 2h0m0 3h0m2 2h0m2 4h0m2-2h0m0 1h0m1 1h0m4-4h0m0-3h0m0 6h0m1-3h0m0 2h0m2-2h0m0-7h0m1 5h0m1-1h0m0 2h0m1-2h0m2 6h0m3-6h0m1 6h0m0-5h0m1 5h0m5-2h0m0-3h0m0-5h0m1 4h0m0 6h0m0-9h0m1 0h0m2 7h0m0-1h0m0-7h0m1 7h0m1-5h0m1 5h0m1-6h0m1 10h0m2-8h0m1-1h0m0 4h0m1-4h0m2 6h0m0 2h0m1-5h0m0 5h0m1 1h0m1-4h0m1-5h0m1 9h0m0-5h0m0-1h0m1 2h0m1 2h0m0-6h0m3-3h0m1 8h0m1-4h0m0 4h0m0-3h0m1-1h0m0-3h0m1 7h0m1-4h0m1 5h0m0-1h0m1 0h0m0-3h0m1 0h0m0 2h0m0-7h0m0 2h0m1 4h0m0-3h0m0-3h0m1 1h0m0 2h0m2-3h0m0 4h0m1-3h0m1 5h0m1 2h0m0-3h0m0-3h0m0 2h0m2 0h0m0 2h0m0-3h0m1-3h0m0 3h0m1-3h0m1 5h0m2-2h0m1 6h0m0-9h0m2 3h0m1 4h0m0 2h0m0-5h0m1 2h0m0-5h0m1 7h0m0 2h0m0-5h0m0-5h0m2 10h0m0-10h0m0 9h0m0-3h0m1-6h0m0 5h0m1-5h0m1 7h0m1-5h0m0 2h0m1 1h0m0-5h0m0 2h0m1 4h0m0-6h0m0 4h0m1 1h0m0 4h0m2-5h0m0-3h0m1 0h0m0 1h0m1 8h0m0-3h0m2-2h0m0 4h0m1-5h0m0-4h0m2 6h0m0 1h0m0-7h0m2 2h0m0 2h0m1 6h0m0-10h0m1 0h0m1 1h0m1-1h0m2 1h0m0 2h0m0 2h0m1-5h0m1 7h0m0 4h0m0-9h0m1 8h0m0-7h0m0 8h0m0-9h0m1 1h0m1-2h0m0 6h0m1 1h0m0-1h0m1-6h0m2 9h0m0-5h0m1 3h0m0-5h0m1-1h0m1-1h0m1 5h0m1-5h0m1 4h0m1-3h0m1 8h0m0-5h0m2 0h0m0 4h0m1-3h0m1-3h0m0 2h0m0-5h0m2 5h0m2-3h0m1-1h0m0 8h0m0-9h0m0 2h0m0 2h0m1 3h0m0-1h0m0-5h0m1-1h0m2 6h0m0-5h0m0 2h0m0 2h0m0 4h0m1-7h0m0 4h0m1-6h0m0 3h0m1-1h0m0 2h0m2-4h0m0 4h0m0 6h0m1 0h0m0-8h0m0 2h0m1-4h0m1 7h0m1 2h0m1-1h0m0-7h0m0 8h0m0-9h0m1 8h0m0-5h0m1 8h0m0-5h0m0 3h0m0-7h0m2 4h0m0-5h0m0 9h0m0-10h0m1 0h0m0 4h0m0 2h0m2 4h0m0-5h0m0 2h0m0-7h0m2 4h0m0 5h0m0-9h0m0 2h0m1 0h0m1 8h0m0-9h0m0 1h0m0 4h0m1-2h0m1-2h0m1 6h0m0 1h0m0-9h0m1 7h0m0-5h0m2 3h0m0 2h0m0 4h0m0-7h0m0 2h0m1-2h0m1 4h0m1-4h0m0 2h0m1-4h0m2 7h0m0-9h0m1 2h0m1 3h0m0 2h0m1-3h0m0 2h0m1 2h0m1-7h0m0 6h0m0 4h0m1-6h0m0-3h0m0 8h0m1-3h0m1-7h0m0 10h0m1-9h0m1 10h0m0-5h0m1 4h0m1-7h0m0-3h0m2 9h0m1-3h0m1 5h0m1-7h0m1 2h0m0 2h0m1-6h0m1 6h0m0 3h0m1-2h0m0 2h0m1-2h0m0-9h0m1 4h0m1-1h0m2 8h0m0-8h0m1 2h0m0-3h0m0-1h0m1 4h0m0 2h0m0-4h0m1 2h0m1 3h0m1 1h0m0-3h0m0 2h0m1-4h0m1-4h0m0 2h0m0 6h0m1-5h0m0-1h0m1 9h0m0-11h0m2 0h0m1 0h0m0 4h0m0-3h0m1-1h0m1 4h0m2-1h0m1 8h0m0-5h0m0 2h0m1-1h0m2 3h0m0-3h0m1-3h0m2 4h0m1-4h0m0 5h0m2-5h0m0 2h0m0-3h0m1 2h0m0-5h0m1 10h0m1-6h0m1 1h0m0 1h0m0-3h0m1 6h0m4 0h0m1-8h0m0 3h0m0 2h0m3 2h0m4-6h0m0 4h0m3-1h0m0-1h0m2 6h0m3-6h0m0 2h0m0-5h0m2 3h0m1 7h0m2-9h0m2 2h0m1-4h0m1 2h0m2 4h0m0-5h0m2 7h0m0-5h0m1 3h0m1-4h0m1 0h0m0 3h0m2 4h0m0-5h0m1 1h0m1 6h0m0-5h0m2 3h0m0-7h0m1 7h0m1-9h0m0 6h0m1 5h0m0-10h0m1-1h0m0 10h0m0-1h0m2-1h0m1-5h0m0 4h0m1-1h0m0 4h0m1-3h0m0-3h0m0 6h0m0-9h0m1 3h0m0-3h0m1 0h0m0 4h0m0-5h0m1 9h0m1 0h0m0-3h0m1 3h0m0-9h0m0 8h0m0-7h0m1 10h0m0-9h0m0 4h0m0 2h0m1-3h0m0-3h0m0 2h0m0 4h0m1 1h0m0-8h0m0 2h0m0 4h0m1 0h0m0 1h0m0 2h0m1 0h0m0-7h0m0 4h0m1-7h0m0 2h0m0 6h0m0 2h0m0-9h0m0 4h0m1-3h0m0 3h0m2 1h0m2-2h0m0-3h0m0 1h0m1 5h0m0-5h0m0 2h0m0 2h0m0-6h0m1 3h0m0 6h0m0-9h0m0 8h0m2-1h0m0-3h0m0 4h0m0 2h0m0-9h0m1 5h0m0 4h0m1-7h0m0-3h0m1 11h0m0-9h0m1-1h0m0 6h0m1-1h0m0 2h0m0-7h0m0 4h0m0 2h0m1-3h0m0 1h0m1 6h0m1-10h0m0 2h0m0-1h0m1 0h0m0 2h0m0 2h0m0-3h0m0-3h0m1 9h0m0 2h0m0-5h0m1-3h0m0 4h0m1-1h0m0-1h0m0-5h0m1 6h0m0-5h0m1 8h0m0-7h0m1 7h0m0 2h0m1 0h0m0-7h0m1 7h0m0-9h0m2 3h0m0 2h0m1 1h0m1 0h0m0 2h0m0-5h0m0-5h0m1 9h0m1-7h0m0 2h0m0 2h0m1-4h0m0 2h0m0 3h0m0-7h0m1 9h0m0-8h0m1 1h0m1 5h0m0 2h0m1-9h0m3 0h0m2 7h0m4 1h0m1-1h0m4-5h0m7 1h0m1-3h0m0 2h0m-405 19h0m13-9h0m28 5h0m6-5h0m3 11h0m1-5h0m2-1h0m0 2h0m5-5h0m11 2h0m9 3h0m5-2h0m2 1h0m3 5h0m2-4h0m0-5h0m0 4h0m0-5h0m2 1h0m2 8h0m1-4h0m0-5h0m3 0h0m0 1h0m2 8h0m3-4h0m0-6h0m2 10h0m3-9h0m2 3h0m0-1h0m1 1h0m1-3h0m2 4h0m1 4h0m4-7h0m2-1h0m2 4h0m1 5h0m0-5h0m0-3h0m4-1h0m1-1h0m1 1h0m0 6h0m0-5h0m5-2h0m5 3h0m1-1h0m2-2h0m2 1h0m1 1h0m4-1h0m1 10h0m1-3h0m0 2h0m0-9h0m0 1h0m3 4h0m0-3h0m1-3h0m2 1h0m1-1h0m0 8h0m1-6h0m2 7h0m2-9h0m1 4h0m1 5h0m0-1h0m1-1h0m0 4h0m0-7h0m1-2h0m2 0h0m0 2h0m1 4h0m1-5h0m1 8h0m2-6h0m3-3h0m2 3h0m1 3h0m2-5h0m1-3h0m0 4h0m1-4h0m2 4h0m0-3h0m1 9h0m0-10h0m0 4h0m4-2h0m1 7h0m0-3h0m0-3h0m1 3h0m0-3h0m0-3h0m3 8h0m1-8h0m1 5h0m3-2h0m1-1h0m1 7h0m1-7h0m3-1h0m0 2h0m1 5h0m3-8h0m0 6h0m1-1h0m5-5h0m2 1h0m1 2h0m1 3h0m5-6h0m0 1h0m0 2h0m3-1h0m2 2h0m3 4h0m4-1h0m1-1h0m2-3h0m4-1h0m4-2h0m7 0h0m0 3h0m6-3h0m2 6h0m0-3h0m2-3h0m9 7h0m1 1h0m1 2h0m3-8h0m2-2h0m1 8h0m0-7h0m3 7h0m1-8h0m10 6h0m2 5h0m2-6h0m2-5h0m8 9h0m4-3h0m0-5h0m1 2h0m3 4h0m0-5h0m1 1h0m3-3h0m3 11h0m1-2h0m0-1h0m1-2h0m2-5h0m0 2h0m0 4h0m1 1h0m0-5h0m1 2h0m1-1h0m1 6h0m0-9h0m1 1h0m0-1h0m1 6h0m0 2h0m1-6h0m1 0h0m0 2h0m0-5h0m2 10h0m0-10h0m1 5h0m1 3h0m0-7h0m1 4h0m1-2h0m0 2h0m1 3h0m1 1h0m0-7h0m0 5h0m1-7h0m1 3h0m1 1h0m0 1h0m0 2h0m1-3h0m0 6h0m0-7h0m2 3h0m1 1h0m1-7h0m1 9h0m0-5h0m0-1h0m0 2h0m2 3h0m0 1h0m0-3h0m1 0h0m0 2h0m0-6h0m1 2h0m1-4h0m1 1h0m0-1h0m0 2h0m1 2h0m2 0h0m1-3h0m0 2h0m0 2h0m1-3h0m1 8h0m0-7h0m0-3h0m1 9h0m0-9h0m1 7h0m0-7h0m0 11h0m2-11h0m0 1h0m0 6h0m1-2h0m0 4h0m1-9h0m0 3h0m8 3h0m1 3h0m1-3h0m1 5h0m1-2h0m2-7h0m1 2h0m11 6h0m4 1h0m-214 4h0m2 0h0m137 4h0m27 4h0m43-9h0m-77 11h0m48-1h0m-1 13h0m5 3h0m-37 30h0" fill="none" stroke="#000" stroke-width="3.6" stroke-linecap="round" opacity="0.45" filter="url(#bl0)"/>
<path transform="scale(.5)" d="m780 116h0m59-5h0m77 8h0m64 0h0m-39 12h0m65-5h0m-192 9h0m40 8h0m47-7h0m10 6h0m4-5h0m5 6h0m5 0h0m15 0h0m5-11h0m3 7h0m-134 6h0m5 8h0m16-1h0m1 3h0m14-4h0m7-6h0m0 8h0m5-4h0m3-4h0m2 8h0m3 0h0m0 2h0m5-5h0m6 2h0m5 3h0m1-1h0m0-5h0m0-1h0m1 4h0m2-4h0m10 7h0m4 0h0m1-3h0m0 2h0m0-3h0m1 1h0m0 2h0m1 1h0m2-7h0m1 6h0m4-2h0m0 2h0m6-1h0m1 0h0m1-7h0m1-2h0m1 6h0m1 4h0m1 0h0m1-4h0m0 4h0m1-8h0m7 2h0m6-3h0m2 8h0m20 1h0m-149 10h0m12 0h0m3-3h0m10 6h0m0-4h0m10 0h0m2 1h0m2 2h0m0-8h0m1 6h0m1 3h0m0-5h0m2 5h0m1-10h0m1 10h0m1 0h0m1-6h0m3 0h0m1 6h0m0-3h0m2-2h0m2 2h0m3 3h0m0-9h0m1 8h0m3-4h0m1-3h0m1-1h0m1 3h0m1 2h0m0-3h0m0 4h0m1-7h0m2 4h0m1 1h0m0-2h0m3 0h0m2-4h0m3 11h0m1 0h0m0-7h0m1 4h0m1-8h0m1 10h0m0-3h0m1 2h0m0-6h0m2 3h0m0-5h0m0 8h0m0 2h0m0-11h0m1 8h0m0-6h0m1 2h0m0 2h0m0-1h0m2 4h0m0-8h0m1 7h0m0 2h0m1 0h0m1 1h0m1-7h0m0-3h0m1 6h0m0 1h0m1 0h0m0 2h0m0-9h0m0 6h0m0 4h0m0-9h0m0 2h0m1 3h0m0-7h0m1 4h0m0 4h0m0-5h0m0 2h0m1 2h0m0-3h0m1 3h0m1 1h0m0-5h0m0 6h0m0-9h0m0 2h0m1 4h0m0 2h0m0-7h0m0 10h0m0-9h0m1 7h0m0-5h0m0 2h0m0 4h0m1-6h0m1 1h0m0 4h0m1-6h0m0 1h0m2 5h0m1-7h0m1 4h0m0 4h0m0-6h0m1 3h0m2-4h0m0-1h0m5 8h0m19 0h0m2-4h0m2-2h0m24 0h0m2 3h0m9-2h0m-222 13h0m1 1h0m9 1h0m11-1h0m2 0h0m2 1h0m1 1h0m8-1h0m1-5h0m2 8h0m1-8h0m1 0h0m3-2h0m1 7h0m4-4h0m1 7h0m0-5h0m0 2h0m0-4h0m4-3h0m1 9h0m0-8h0m4 9h0m0-5h0m0-5h0m1 0h0m1 5h0m0 2h0m5-5h0m0 8h0m1-11h0m0 10h0m1-9h0m1 1h0m1 2h0m2 1h0m0 4h0m2 2h0m0-3h0m1-2h0m0-1h0m1-5h0m0 11h0m1-10h0m1 4h0m0 2h0m0 3h0m1-2h0m0 2h0m1 0h0m1 1h0m0-1h0m0-7h0m1 7h0m0-9h0m2 7h0m0 2h0m3 0h0m0-5h0m0 6h0m0-3h0m1 3h0m0-9h0m1 8h0m1-6h0m0 1h0m0 2h0m1-2h0m1 6h0m1-3h0m0 2h0m0-1h0m2 1h0m1-2h0m0-5h0m0 6h0m1-3h0m1 5h0m1-3h0m0-3h0m1 3h0m0 2h0m0-10h0m1 11h0m0-5h0m0 1h0m1 0h0m1 1h0m1 0h0m1-7h0m0 2h0m0 1h0m1 3h0m0-5h0m1 8h0m0-8h0m2 9h0m1-6h0m0 6h0m0-9h0m1 0h0m2 4h0m0 1h0m2 3h0m1-5h0m0 4h0m1-1h0m0 2h0m0-3h0m0-3h0m4 3h0m0 2h0m0-5h0m1 1h0m0-5h0m1 6h0m0 2h0m0-7h0m1 2h0m0 2h0m1 6h0m0-10h0m0 2h0m1 0h0m0 3h0m1-1h0m1 5h0m0-3h0m1-6h0m0 4h0m0 4h0m0-5h0m1 0h0m0 6h0m0-7h0m0 2h0m0 6h0m1-10h0m0-1h0m0 10h0m1-5h0m0-5h0m1 7h0m1-4h0m1 6h0m0-9h0m0 4h0m1 4h0m0-3h0m1 4h0m1-4h0m1 0h0m1 5h0m0-9h0m0 2h0m0-3h0m2 7h0m0-5h0m1 5h0m1 2h0m0-7h0m0 2h0m1 0h0m0-3h0m0-1h0m1 0h0m1 8h0m0 1h0m0-7h0m0-1h0m1 0h0m1 8h0m0-9h0m1 8h0m0 1h0m0-7h0m1 1h0m0-1h0m1 0h0m1 1h0m0 2h0m2-1h0m1-3h0m1 3h0m5 6h0m0-5h0m0 6h0m8-9h0m4-2h0m2 4h0m17 7h0m1-7h0m6 3h0m18 1h0m-223 14h0m5 0h0m2-8h0m3 7h0m12 0h0m1-3h0m1 5h0m0-3h0m1-1h0m1-5h0m1 0h0m2 3h0m1 2h0m6-2h0m1 1h0m0-1h0m1-2h0m1 0h0m1 8h0m0-8h0m1-1h0m3-2h0m0 2h0m2 3h0m2-3h0m1-1h0m0 4h0m1-4h0m0 3h0m2 0h0m1 0h0m0 4h0m0 1h0m0-7h0m2 8h0m1-9h0m1 3h0m0 2h0m0 1h0m0-7h0m0 11h0m1 0h0m1-1h0m0-7h0m0 1h0m0 2h0m1 4h0m0-5h0m1-1h0m2 6h0m0-4h0m1 2h0m1 0h0m1-4h0m0 2h0m0 1h0m0-7h0m1 11h0m0-3h0m0-7h0m1 9h0m0-1h0m1-4h0m0 1h0m1-1h0m0-3h0m0 2h0m1-4h0m0 11h0m1-10h0m1 10h0m0-7h0m0-4h0m1 11h0m0-8h0m0 4h0m1-2h0m0 5h0m0-7h0m1-2h0m0 8h0m0-5h0m1 2h0m0-5h0m1 9h0m0-3h0m2-7h0m0 11h0m0-7h0m0 4h0m1-4h0m1 7h0m0-11h0m0 6h0m1 0h0m1-5h0m0 6h0m1 3h0m0-3h0m0 2h0m0 2h0m0-9h0m0 2h0m1 4h0m0-3h0m1-5h0m0 11h0m2-1h0m0-8h0m1 8h0m1 1h0m1-8h0m0 4h0m2-6h0m0 4h0m1 0h0m1-3h0m0 5h0m1 3h0m0-4h0m2-3h0m2 6h0m1-5h0m0-1h0m0 4h0m1-3h0m1-4h0m1 11h0m1-10h0m1 8h0m1-8h0m1 4h0m1 5h0m0-5h0m0 4h0m1-6h0m1 7h0m0-8h0m1 1h0m0-1h0m1 3h0m0 4h0m1-8h0m0 9h0m1-5h0m1 3h0m0 1h0m0-9h0m1 2h0m0 8h0m1 1h0m1 0h0m0-9h0m1 3h0m1-1h0m1 7h0m0-7h0m1-1h0m2 0h0m0 6h0m0-8h0m1 5h0m0-1h0m0-5h0m1 4h0m2 2h0m1 1h0m1-2h0m0 4h0m0-9h0m1 7h0m2 1h0m0-4h0m1-2h0m1 5h0m1-6h0m0 10h0m2-3h0m0-1h0m1-4h0m0 8h0m0-7h0m1 5h0m0-9h0m1 7h0m2 4h0m0-4h0m1-7h0m1 5h0m0-1h0m0 4h0m1-2h0m1-5h0m2 1h0m3 4h0m2-5h0m1 3h0m1-1h0m1-1h0m0 4h0m1 5h0m1-6h0m1-1h0m2 7h0m0-3h0m0-1h0m1 0h0m5-4h0m0 2h0m0-3h0m6 1h0m2 1h0m2 6h0m14-3h0m10-1h0m3-5h0m-246 15h0m1 4h0m4-2h0m17 0h0m0 4h0m7 1h0m3-3h0m18-4h0m2 6h0m3-8h0m3 5h0m1 1h0m1 0h0m1-5h0m1-1h0m0 2h0m2 4h0m0 2h0m1-4h0m2 5h0m0-9h0m0 8h0m3-6h0m0 6h0m0-9h0m1 5h0m0 2h0m0-1h0m1 3h0m0-1h0m2 2h0m2-6h0m1-2h0m1 0h0m1-1h0m3 4h0m1 0h0m0 2h0m0 2h0m0-3h0m1 3h0m0-5h0m0-3h0m0 9h0m1-1h0m1 1h0m1-7h0m0-3h0m1 5h0m0-5h0m1 10h0m0-5h0m0-1h0m1 3h0m1 0h0m0-5h0m1 7h0m1 0h0m0-9h0m0 6h0m0 2h0m2-4h0m0 4h0m3-1h0m0 2h0m0-5h0m1 1h0m0 3h0m1-8h0m0 2h0m1 3h0m0 2h0m1-6h0m1 6h0m0 3h0m0-9h0m1 6h0m0-3h0m1 4h0m0-7h0m0 9h0m0-7h0m1 6h0m0-9h0m0 2h0m0-1h0m1 4h0m0-6h0m0 4h0m1 4h0m1-2h0m0 2h0m1-8h0m1 10h0m0-5h0m1-4h0m0 6h0m0 2h0m0 2h0m1-11h0m0 4h0m1 6h0m0-3h0m1-7h0m1 9h0m0-5h0m1 0h0m0 7h0m0-8h0m1 4h0m0 2h0m0 2h0m1-7h0m0 4h0m0-5h0m1 4h0m1-5h0m1 8h0m0-9h0m0 2h0m1-2h0m0 6h0m1-4h0m0-3h0m0 6h0m1 2h0m0-4h0m1 2h0m1 2h0m0 1h0m1 1h0m1-4h0m0 3h0m1-6h0m0 8h0m0-9h0m0 6h0m1-6h0m1-1h0m0 4h0m0 2h0m0-5h0m1 6h0m1 2h0m0-7h0m0 6h0m0 2h0m1-2h0m0 2h0m1-11h0m0 3h0m1-2h0m1 5h0m2-4h0m0 6h0m1 0h0m1 2h0m0-9h0m1-1h0m1 4h0m1-2h0m0 8h0m1 0h0m1-4h0m1-1h0m0 6h0m0-9h0m1 7h0m1-3h0m0 4h0m2-2h0m0-5h0m0 2h0m1 4h0m0-9h0m0 2h0m2 7h0m1-6h0m2 0h0m0-2h0m1 1h0m1 7h0m0-8h0m1 3h0m0-3h0m1 9h0m0-8h0m1-1h0m3 8h0m2-1h0m0-2h0m1 0h0m1-6h0m2 3h0m5-2h0m0 3h0m1-4h0m2 1h0m2 3h0m2 6h0m0-7h0m0 1h0m1 0h0m7 6h0m2-5h0m0-4h0m3 4h0m4-1h0m0 2h0m4-3h0m8-2h0m8 10h0m6-2h0m14-7h0m-240 20h0m9-4h0m3 0h0m4-3h0m2 8h0m2-11h0m1 4h0m9 4h0m3-6h0m3 0h0m3-1h0m0 2h0m2 3h0m2 4h0m2-2h0m3 1h0m0-7h0m2-1h0m2 8h0m1 0h0m0-7h0m0 8h0m0-9h0m1 8h0m0-5h0m0-4h0m1 1h0m0 2h0m4-3h0m2 9h0m4-1h0m0-4h0m2 1h0m3-4h0m0 4h0m0 2h0m3 3h0m0-9h0m0-1h0m1 6h0m0-5h0m0 4h0m1 0h0m1 4h0m1-1h0m0-6h0m1 0h0m2 6h0m0-7h0m1 4h0m0 4h0m0-8h0m1 6h0m3-1h0m0 1h0m0-5h0m1 9h0m2-5h0m1-4h0m1 7h0m0 2h0m0-11h0m1 3h0m0 4h0m1 4h0m1-10h0m1 6h0m1-1h0m0 1h0m0-3h0m1 3h0m0-5h0m1 1h0m0 6h0m2 1h0m0 1h0m2-6h0m0 4h0m0 2h0m1-3h0m1-8h0m1 7h0m2 3h0m0-9h0m2 10h0m0-3h0m1-7h0m0 6h0m0-5h0m1 1h0m0 8h0m0-9h0m1-1h0m1 8h0m0-5h0m1 6h0m0-10h0m2 2h0m0 4h0m1 0h0m0-3h0m0 2h0m1-5h0m0 10h0m2-9h0m0 1h0m1 1h0m0 6h0m0 2h0m0-11h0m0 6h0m1 4h0m0-9h0m0 8h0m0-7h0m2 1h0m0 2h0m2 1h0m0 2h0m0 2h0m0-1h0m1 1h0m1-1h0m1-1h0m0-5h0m0-1h0m1 4h0m2-3h0m0 4h0m0-6h0m2 9h0m2 1h0m2-6h0m2 0h0m0-5h0m0 4h0m1-1h0m2-3h0m0 2h0m2 6h0m1-1h0m0-1h0m2-4h0m1-2h0m2 3h0m0 3h0m3-1h0m0 6h0m1-8h0m0-3h0m2 8h0m1 0h0m2-7h0m2 9h0m2-5h0m3 1h0m5 4h0m0-4h0m12 5h0m6-10h0m3 10h0m2-3h0m1-6h0m1 7h0m0-8h0m3 3h0m8 7h0m3-2h0m-213 7h0m13-3h0m6 7h0m6-5h0m4 7h0m3-8h0m2-2h0m2 11h0m10-1h0m0-7h0m1 2h0m2 0h0m5-1h0m1-2h0m1 2h0m1 2h0m1 5h0m0-10h0m1 10h0m1-6h0m1-5h0m1 7h0m0 4h0m0-1h0m1-1h0m1-6h0m1 8h0m1-9h0m2 8h0m3 0h0m1-1h0m1-5h0m1 3h0m0 2h0m1-9h0m1 3h0m1 0h0m1-3h0m0 2h0m0-1h0m1 8h0m1-2h0m0-1h0m6-4h0m1 4h0m0-5h0m3 1h0m1 7h0m1-5h0m1 2h0m1 2h0m1-3h0m1 3h0m1 3h0m0-11h0m0 4h0m1 7h0m1-9h0m0-1h0m1 10h0m1-8h0m0 8h0m0-9h0m0 4h0m1-4h0m1-2h0m2 4h0m0 2h0m2 3h0m1-9h0m3 2h0m3 7h0m0-9h0m3 0h0m4 3h0m1 1h0m1-3h0m1 0h0m2 9h0m1-5h0m3 1h0m1 2h0m4-7h0m0 3h0m0 2h0m3-4h0m0 2h0m1 4h0m2-4h0m4-4h0m1 8h0m10-7h0m1 2h0m3 0h0m0 3h0m5 1h0m5-3h0m3 4h0m14 2h0m11-8h0m0 4h0m26 2h0m49 3h0m-320 11h0m25-7h0m2 5h0m28 2h0m2-8h0m5 4h0m13-2h0m1 3h0m4-3h0m2 7h0m12-1h0m2-5h0m0-3h0m1 5h0m1 0h0m1-7h0m10 3h0m0 2h0m3 2h0m0 2h0m1-8h0m2 2h0m2 1h0m1 6h0m1-5h0m0-1h0m0 2h0m5 1h0m2 1h0m0-8h0m2 1h0m0 10h0m1-11h0m2 6h0m1 2h0m1 2h0m4-10h0m0 4h0m3 0h0m10 3h0m1-3h0m3-3h0m2 1h0m0 2h0m13-2h0m1 2h0m11 2h0m13 4h0m6-10h0m46 7h0m25 4h0m15-1h0m-270 2h0m32 11h0m5 0h0m4-2h0m5-2h0m1-1h0m2 2h0m3 0h0m6-3h0m13 0h0m2 5h0m0-3h0m5-5h0m4 5h0m5-3h0m4 6h0m0-3h0m4-4h0m16 5h0m0 2h0m2-9h0m2 1h0m13-2h0m0 4h0m3-4h0m10 3h0m1 4h0m4 2h0m3-5h0m1 0h0m4 4h0m5-6h0m8-2h0m3 5h0m8-2h0m0 8h0m8-3h0m16 3h0m27-4h0m34-4h0m12 4h0m4-1h0m12 4h0m-337 5h0m75 1h0m4-3h0m1 5h0m12-3h0m6 4h0m6-3h0m8 6h0m2-5h0m1-5h0m10 10h0m11-6h0m3-2h0m4 9h0m2-10h0m4 10h0m3-8h0m3 0h0m4 5h0m10-3h0m3-5h0m2 0h0m2 6h0m4 1h0m10 2h0m4 2h0m12-5h0m1 0h0m2 4h0m2-4h0m14 1h0m2 4h0m7-10h0m1 9h0m2-4h0m0-5h0m4 9h0m4-8h0m3 6h0m1-2h0m0 2h0m4-3h0m5 4h0m3 2h0m2-6h0m8-3h0m11 5h0m14-5h0m5 6h0m4 0h0m2 3h0m17-3h0m4 2h0m1-5h0m22 3h0m-292 4h0m1 3h0m12 4h0m2 1h0m8-7h0m2 8h0m16-5h0m2 7h0m5-5h0m4-6h0m1 9h0m1-8h0m3 10h0m5-2h0m0 2h0m1-11h0m1 8h0m3 0h0m7-6h0m3 2h0m4 3h0m5 2h0m1 1h0m5-5h0m4 0h0m3 6h0m4-3h0m2-4h0m1-1h0m3 3h0m4-1h0m12-5h0m1 3h0m1 3h0m3-6h0m5 5h0m0-5h0m2 6h0m3-6h0m1 11h0m3-10h0m0-1h0m3 6h0m6 2h0m1-5h0m12 3h0m5 1h0m0-7h0m0 1h0m3 4h0m2 6h0m1-11h0m1 11h0m1 0h0m2-2h0m2-7h0m8 0h0m7 5h0m6 0h0m9 1h0m2-5h0m3-3h0m1 3h0m4 0h0m4 4h0m2 0h0m4 3h0m4-7h0m5 7h0m3-7h0m3 3h0m5 5h0m2-5h0m3-4h0m1 2h0m2 4h0m0 2h0m2-2h0m0-8h0m2 6h0m24-1h0m2 2h0m-300 15h0m13-10h0m2 10h0m2-6h0m1 4h0m8-1h0m1-1h0m0-3h0m6 4h0m1-4h0m2 5h0m9-8h0m4 4h0m1 7h0m6-11h0m1 1h0m0 2h0m9 7h0m1-3h0m1-7h0m3 11h0m6-9h0m3 4h0m5-5h0m0 5h0m2 3h0m1-6h0m1 3h0m5 3h0m2-2h0m3-2h0m6 6h0m10-6h0m2 6h0m3-3h0m3 0h0m2-1h0m0-4h0m6 4h0m0-1h0m5 5h0m3-2h0m4-4h0m1-2h0m5 4h0m1-1h0m0 2h0m5-4h0m2-4h0m3 5h0m2 1h0m0 2h0m4-7h0m0 8h0m0-3h0m0 4h0m1-6h0m3 3h0m0-1h0m0-1h0m3 6h0m0-8h0m2 1h0m3 5h0m5-2h0m2-6h0m11 2h0m13-1h0m7 5h0m2-7h0m1 11h0m23-2h0m2-5h0m2 5h0m0-9h0m2 7h0m2 3h0m1 0h0m1-3h0m3 2h0m1 1h0m1-1h0m1-7h0m1 8h0m1-5h0m1 0h0m2-1h0m0 4h0m3 2h0m4-8h0m0 1h0m3 4h0m2-3h0m3 4h0m2 2h0m0-3h0m3 4h0m2-8h0m1 4h0m1-3h0m5 5h0m7-1h0m1-2h0m4 4h0m-303 11h0m13-4h0m12 3h0m8-8h0m7 7h0m2 1h0m1 3h0m4-1h0m2-7h0m2 8h0m4-1h0m1-5h0m1 2h0m7 4h0m1-3h0m0 2h0m1-10h0m4 10h0m0-8h0m1 5h0m8-7h0m1 8h0m6-8h0m10 10h0m0-2h0m5-7h0m1 5h0m7 0h0m2-3h0m0 3h0m3 1h0m1-3h0m1 3h0m10 1h0m1 2h0m7-8h0m3 3h0m8 6h0m1-6h0m4 0h0m1 1h0m2-3h0m7 2h0m2 6h0m5-7h0m2 0h0m2 0h0m7 7h0m3-8h0m1 2h0m1-2h0m9 1h0m6-3h0m8 4h0m2 3h0m8-6h0m5-2h0m3 9h0m3-7h0m2 9h0m1-4h0m3 4h0m3-3h0m3-1h0m0-3h0m6-2h0m1-1h0m0 6h0m0-3h0m1 2h0m1 5h0m3-1h0m0-3h0m1 0h0m1-3h0m3 4h0m0-7h0m2-1h0m1 10h0m4 1h0m1-3h0m1-4h0m5 6h0m1-7h0m1-1h0m5 6h0m0 1h0m1-9h0m0 7h0m1-2h0m0 1h0m0 2h0m2-5h0m0 1h0m0 2h0m3-3h0m0 6h0m3-5h0m0-3h0m1-1h0m5 11h0m0-3h0m0 2h0m5-6h0m7-2h0m-335 18h0m21 1h0m3 0h0m7-9h0m9 4h0m7-3h0m12-1h0m3 4h0m16 0h0m1 4h0m1-6h0m3 7h0m1-2h0m8-7h0m8 11h0m1-4h0m1-3h0m0-1h0m5 0h0m20-2h0m8 3h0m2-3h0m4 9h0m7-10h0m0 6h0m1-4h0m3 8h0m7-5h0m2-3h0m1 2h0m1-4h0m6 10h0m0-9h0m8 3h0m0-3h0m3 8h0m1 1h0m1-2h0m2 2h0m2-6h0m4-2h0m6 4h0m1 5h0m2-1h0m2-2h0m9 2h0m2-5h0m1-1h0m0 6h0m2-5h0m4 0h0m6-5h0m3 10h0m1 0h0m1-2h0m4 2h0m7-6h0m2-1h0m16 5h0m2-1h0m1-6h0m7 10h0m0-9h0m2 4h0m0 2h0m1 2h0m0-3h0m1 1h0m2-2h0m1 1h0m1 4h0m1-8h0m0-1h0m1 3h0m0-5h0m2 5h0m0 6h0m1-11h0m0 8h0m2 3h0m1-1h0m0-1h0m2-3h0m0 4h0m0-5h0m1 4h0m0 1h0m1-9h0m1 6h0m0-5h0m0 2h0m1-4h0m1 0h0m1 2h0m1 8h0m2-5h0m1-4h0m0 1h0m2 6h0m0-7h0m0 2h0m1 3h0m0 1h0m1-1h0m1 4h0m0-9h0m1 3h0m0 4h0m1 2h0m0-6h0m1 2h0m0 2h0m6 0h0m2 1h0m1-4h0m0 4h0m1 1h0m1-4h0m3 4h0m0-3h0m1 1h0m0 3h0m2-6h0m13-3h0m-356 21h0m16-3h0m24-5h0m21 6h0m3-6h0m5 8h0m3-6h0m3 5h0m2-6h0m15-4h0m14 3h0m4 2h0m14-1h0m7 7h0m1-10h0m1 3h0m2 6h0m4-1h0m3-1h0m2 1h0m2-2h0m0 1h0m4 2h0m4-5h0m1 3h0m2-7h0m2 6h0m2 4h0m5-7h0m4-4h0m2 9h0m0-5h0m1 4h0m1 0h0m10-8h0m1 9h0m3 1h0m3-2h0m1 1h0m2-6h0m4 3h0m4 1h0m3-2h0m4-3h0m4 7h0m1 1h0m1-1h0m4 2h0m1-2h0m0-3h0m2-3h0m2 7h0m0-5h0m0 2h0m0-5h0m2 2h0m0 2h0m4-2h0m6-1h0m1 7h0m4-1h0m1-8h0m2 0h0m4 5h0m3-4h0m2 9h0m0-9h0m7 7h0m5-1h0m0 2h0m4-2h0m2 3h0m1-8h0m3 7h0m4-3h0m4 1h0m0 3h0m1 0h0m2-1h0m1-9h0m3 8h0m1-2h0m0-3h0m0 4h0m3-8h0m3 9h0m0-3h0m1-5h0m0 6h0m0-7h0m1 3h0m1 6h0m1-1h0m0-3h0m1-1h0m3 4h0m0-8h0m0 2h0m1 0h0m0 4h0m1 1h0m1 1h0m0-1h0m1 4h0m1-1h0m1-5h0m0 2h0m0-5h0m0 6h0m0-7h0m1 4h0m1-2h0m0 6h0m0-7h0m0 2h0m1 1h0m1 0h0m0 4h0m0-5h0m2 2h0m0 4h0m0-1h0m0-7h0m1-2h0m0 6h0m0-1h0m0 2h0m1-4h0m0 6h0m1-1h0m0 2h0m0-5h0m1 2h0m0-5h0m0 2h0m0-3h0m1 5h0m0 2h0m0 2h0m0-9h0m0 6h0m0-7h0m0 2h0m0 2h0m1 6h0m0-1h0m1-6h0m0 6h0m1-1h0m1-7h0m0 8h0m0 2h0m1-9h0m0 6h0m0 2h0m0-5h0m1-5h0m1 8h0m0-7h0m0 4h0m0-1h0m1 5h0m0 2h0m1-2h0m0-5h0m3 7h0m0-1h0m1 1h0m0-11h0m0 6h0m4 4h0m0-9h0m2 9h0m0-5h0m0 6h0m0-10h0m1 10h0m1-6h0m0 6h0m0-11h0m4 3h0m1 6h0m1-5h0m3 4h0m1 1h0m3-5h0m2 3h0m4-7h0m2 0h0m-372 18h0m47 4h0m8-9h0m20 9h0m9-9h0m3 10h0m6-8h0m5-1h0m0 2h0m8 3h0m3 2h0m7-4h0m1-4h0m4 4h0m2 5h0m6-6h0m0 5h0m6-7h0m1 6h0m1-3h0m2-5h0m0 1h0m3 5h0m1 4h0m2-10h0m1 2h0m10 5h0m10-4h0m1 4h0m0 4h0m0-10h0m1 5h0m2-6h0m6 3h0m2 1h0m3-2h0m1 8h0m0-8h0m1 6h0m3-5h0m4 5h0m8 2h0m1-7h0m2 5h0m1-5h0m3 8h0m3-6h0m1 4h0m2 1h0m4-6h0m0 6h0m1-4h0m4 5h0m1-7h0m2 2h0m0 3h0m2 0h0m0 2h0m0-3h0m2-3h0m1-1h0m4 0h0m2 7h0m1-1h0m3-1h0m1-4h0m12 5h0m0-3h0m4-7h0m0 4h0m11 2h0m18 4h0m2-10h0m4 11h0m3-4h0m1 3h0m1-9h0m0 2h0m0 2h0m0-5h0m0 6h0m1-4h0m0 2h0m1 2h0m0 2h0m1 2h0m0-3h0m0-1h0m1 1h0m1 2h0m1-2h0m2-4h0m0 6h0m0 2h0m0-9h0m1 6h0m0 2h0m0-10h0m1 8h0m0-3h0m1 3h0m0 1h0m1 0h0m0-5h0m1-3h0m0 6h0m1 4h0m0-3h0m1-7h0m0 2h0m0 2h0m0 2h0m1 0h0m0-5h0m1 4h0m0 2h0m0-7h0m0 8h0m2-3h0m0-5h0m0 8h0m0-9h0m1 7h0m1 1h0m0-5h0m0-3h0m0 2h0m0 2h0m1 0h0m0 2h0m1 2h0m0-7h0m1 8h0m0-5h0m0 4h0m0 2h0m1-1h0m0 2h0m1-2h0m0-9h0m0 3h0m1 3h0m0 4h0m0-9h0m0 4h0m1 6h0m0-11h0m0 2h0m0 2h0m0 2h0m1-3h0m0 2h0m0 4h0m1-8h0m0 5h0m1 3h0m1 1h0m0-3h0m0 2h0m1 2h0m0-9h0m0 4h0m0-5h0m1 7h0m0 2h0m0-3h0m0-7h0m0 2h0m1 3h0m0 6h0m0-11h0m0 10h0m1-9h0m0 2h0m0 4h0m1 1h0m0-5h0m0-3h0m0 2h0m1 1h0m0 8h0m1-3h0m0 2h0m0-7h0m0-3h0m0 2h0m1 7h0m1-2h0m0 4h0m0-11h0m0 8h0m1 3h0m1-8h0m0 4h0m0-3h0m0-3h0m1 4h0m0-1h0m1 3h0m0 4h0m1-6h0m1-4h0m0 10h0m1-9h0m0 6h0m1-3h0m0-1h0m1-1h0m0 4h0m0-3h0m1-4h0m0 2h0m1 8h0m0-1h0m0 2h0m1-1h0m0-1h0m1-4h0m1 3h0m1-1h0m0-7h0m1 10h0m0-1h0m2-9h0m1 11h0m1-2h0m0 2h0m1-3h0m1-2h0m1 1h0m2 2h0m6 1h0m0-10h0m0 6h0m2-2h0m-330 17h0m0-1h0m1-5h0m7 0h0m7 2h0m3-1h0m2-3h0m7 10h0m28 0h0m18-8h0m3 1h0m13 5h0m0-5h0m5 7h0m0-7h0m1-1h0m3 0h0m1 5h0m0-1h0m0 4h0m2-7h0m1 7h0m0-9h0m1 1h0m7 6h0m4 2h0m0-9h0m4-2h0m2 1h0m2 7h0m1 2h0m2-4h0m2 2h0m1-3h0m5 4h0m1-8h0m3 6h0m0-3h0m0 1h0m1 4h0m1-1h0m4 0h0m5 1h0m5-2h0m1 0h0m2 3h0m3-5h0m5-4h0m2 5h0m1 1h0m1-4h0m0-3h0m4 8h0m0-5h0m1 2h0m1-5h0m6 5h0m2 0h0m3 0h0m3 1h0m1-2h0m6-1h0m5 4h0m3-5h0m2 1h0m2 1h0m5-3h0m2 4h0m7-5h0m7 2h0m1 6h0m1-8h0m1 2h0m12 3h0m3 3h0m3-7h0m0 4h0m4 5h0m0-6h0m1-1h0m1 2h0m0 2h0m0 4h0m1-4h0m0-6h0m1 1h0m1 7h0m0-3h0m1 4h0m1-1h0m1-8h0m0 2h0m1 3h0m0-1h0m0 4h0m0-5h0m1 4h0m0-8h0m0 4h0m1-3h0m0 6h0m1 0h0m1-4h0m0 6h0m1-2h0m0 4h0m0-7h0m1-3h0m1 7h0m0-6h0m1 9h0m0-11h0m0 2h0m1 4h0m1-3h0m0 4h0m0-3h0m1 1h0m0-5h0m0 8h0m1 2h0m0-3h0m1 1h0m0-5h0m0 6h0m0-7h0m0 2h0m1 2h0m0-5h0m0 6h0m0-5h0m0 2h0m1 1h0m0 2h0m0-7h0m0 4h0m1 6h0m0-1h0m0 2h0m0-11h0m0 1h0m1 8h0m0-5h0m0 4h0m0-3h0m1 1h0m0-5h0m1 7h0m0-1h0m0 2h0m0-9h0m0 2h0m0 2h0m0 2h0m1-3h0m0 4h0m0 4h0m0-9h0m1 1h0m0 2h0m0 6h0m1-6h0m0 2h0m0-7h0m0 8h0m0-7h0m0 2h0m1 8h0m0-9h0m0 2h0m0 4h0m1-5h0m0-1h0m0 2h0m0-3h0m1 9h0m0-7h0m1 4h0m0 2h0m0-9h0m0 2h0m0 4h0m1 5h0m0-7h0m0-1h0m1 8h0m0-9h0m0 4h0m1-2h0m0 4h0m0-5h0m0-3h0m1 7h0m0-3h0m0 4h0m0 2h0m1 0h0m0-3h0m0 2h0m0 2h0m0-11h0m0 2h0m0 4h0m1 4h0m0 1h0m0-5h0m0-5h0m1 5h0m1-1h0m0-1h0m1 1h0m0-5h0m0 10h0m0-7h0m1 4h0m0 4h0m0-7h0m0 2h0m0 2h0m0-3h0m1-2h0m0 6h0m0 2h0m0-11h0m0 1h0m1 3h0m0 4h0m0-1h0m1 1h0m0-5h0m0 2h0m0 6h0m0-9h0m1 0h0m0 6h0m0-7h0m1 9h0m1-8h0m0 8h0m0-5h0m1 4h0m0-8h0m1 7h0m0-7h0m1 2h0m0 4h0m0-7h0m1 5h0m0-5h0m0 1h0m1 5h0m0-5h0m0 2h0m2 8h0m0-9h0m0-1h0m1-1h0m0 2h0m1 3h0m0 4h0m0 2h0m1-10h0m1 9h0m0-10h0m2 7h0m1-4h0m1 6h0m2-2h0m3-4h0m5 3h0m-325 7h0m15 8h0m12-7h0m1-1h0m3 6h0m2 2h0m4-2h0m0-7h0m18 7h0m2 2h0m1-5h0m2 3h0m0 2h0m1-9h0m8 6h0m0-1h0m1 2h0m1 3h0m3-9h0m2 7h0m2-4h0m6 1h0m1 5h0m3-2h0m3-3h0m6 5h0m2 0h0m2-4h0m1-3h0m1 7h0m1-9h0m2 3h0m5 3h0m0 2h0m3 2h0m1-8h0m1-1h0m0 4h0m3 4h0m11 0h0m3-5h0m1 3h0m6-5h0m4 4h0m3 0h0m1-3h0m2-1h0m5 8h0m1-8h0m1 3h0m1-4h0m2 3h0m1 3h0m0-3h0m2 6h0m0-9h0m5 9h0m2-2h0m0 2h0m1-10h0m3 1h0m2-2h0m2 11h0m2-2h0m0-5h0m3 7h0m3-10h0m0 6h0m1-2h0m3 0h0m1 5h0m1-5h0m2 0h0m1 2h0m1-5h0m0 9h0m0-7h0m2 4h0m0-1h0m0 2h0m1-7h0m1 3h0m4 6h0m1 0h0m1-3h0m1 3h0m2-7h0m6 1h0m0-1h0m1 2h0m2 0h0m1 5h0m5-9h0m0 9h0m1-11h0m1 4h0m5 1h0m4 3h0m1-2h0m3 2h0m3-2h0m5 5h0m1-7h0m0-3h0m1 3h0m1 5h0m0-9h0m1 7h0m0 2h0m0-9h0m0 4h0m1 3h0m0 2h0m1 0h0m5-6h0m1 0h0m2 6h0m0 2h0m0-8h0m1 0h0m0-1h0m0 6h0m1-4h0m0 2h0m0-3h0m1 7h0m0-5h0m0 2h0m1-4h0m0 2h0m1 5h0m0-5h0m0 4h0m0-3h0m1-5h0m0 2h0m0-1h0m0 2h0m1 3h0m0-7h0m0 4h0m0-3h0m1 9h0m0-1h0m0-7h0m0 1h0m1 8h0m0-3h0m1-5h0m0 4h0m0-3h0m1 7h0m0-11h0m0 6h0m1-4h0m0 9h0m1-9h0m0 4h0m0-5h0m1 7h0m0-3h0m1-5h0m0 4h0m0-1h0m1 7h0m0-3h0m0 2h0m0-3h0m1-1h0m0 6h0m0-11h0m0 2h0m1 6h0m0-7h0m0 6h0m0 4h0m0-9h0m0 4h0m1 3h0m0-9h0m0 2h0m0 4h0m0-3h0m1 2h0m0 2h0m0-5h0m0 2h0m0 4h0m0 2h0m0-9h0m0 2h0m1 3h0m0 2h0m0 2h0m0-5h0m0 4h0m1 1h0m0-5h0m0 4h0m0 2h0m0-5h0m1 0h0m0 2h0m0-7h0m0 10h0m1-6h0m0 4h0m0-9h0m0 2h0m0 2h0m0 2h0m1 4h0m0-5h0m0 6h0m0-9h0m0 4h0m1 4h0m0-7h0m0 2h0m0 4h0m0-9h0m0 8h0m1-8h0m0 2h0m0 4h0m0-5h0m0 9h0m0-5h0m0 2h0m1-2h0m0 2h0m0 4h0m0-7h0m0 4h0m0 2h0m1 1h0m0-9h0m0 8h0m0-9h0m1-1h0m0 3h0m1 7h0m0-7h0m0 4h0m1 2h0m0-9h0m0 6h0m1-3h0m0 4h0m0 4h0m0-9h0m0 4h0m1 0h0m0 2h0m1 0h0m0-3h0m0 6h0m0-9h0m1 8h0m1-3h0m0-6h0m1 4h0m0 6h0m0-11h0m0 2h0m0 2h0m1 2h0m0 2h0m1-4h0m0-1h0m0 4h0m1-5h0m0 6h0m1-4h0m0-1h0m1 4h0m0-7h0m0 8h0m1 0h0m1-5h0m1-2h0m1 8h0m0-9h0m2 9h0m0-6h0m1 7h0m1-7h0m0 4h0m3 3h0m0-10h0m1 10h0m1-3h0m3-6h0m2 6h0m4-7h0m2 8h0m-352 14h0m5 1h0m17-10h0m8 9h0m4-3h0m1 3h0m1-10h0m3 7h0m1-2h0m0 6h0m4-10h0m0 10h0m4-11h0m1 1h0m12 2h0m2 3h0m2 3h0m10-3h0m3 0h0m6 4h0m5-2h0m4-2h0m5-4h0m2 5h0m4-3h0m2-3h0m2 0h0m0-1h0m3 5h0m1 5h0m3-1h0m3 2h0m0-7h0m1 0h0m1 5h0m0-7h0m0 3h0m5-2h0m2 4h0m2 0h0m4-5h0m1 4h0m1-6h0m0 3h0m3 5h0m3-6h0m3-2h0m1 1h0m4 3h0m2 0h0m1 5h0m3-3h0m3 3h0m1-2h0m1-5h0m0 3h0m2 2h0m1-1h0m0 4h0m0-1h0m0 2h0m1-4h0m1 1h0m1-8h0m2 5h0m1 6h0m1-6h0m0 6h0m3-3h0m1 3h0m0-3h0m1-2h0m1 1h0m0-7h0m2 9h0m0-5h0m2 2h0m3 3h0m1 2h0m0-9h0m1-1h0m4 8h0m0 2h0m3-11h0m1 6h0m3-2h0m2-4h0m3 5h0m3-2h0m1-2h0m2-1h0m1 3h0m0 1h0m4 6h0m3-8h0m0 7h0m0 2h0m4-1h0m0-9h0m2 0h0m2 5h0m1-2h0m4 2h0m1 3h0m12-8h0m1 10h0m2-4h0m3-5h0m8 8h0m0 1h0m6-10h0m5 10h0m1-8h0m0-3h0m1 6h0m1 3h0m0-8h0m3 6h0m1 4h0m0-3h0m1-1h0m2-4h0m0 2h0m1 5h0m1-2h0m0-8h0m1 11h0m0-10h0m2 6h0m0 2h0m1-2h0m1 1h0m0 2h0m0-7h0m0-1h0m1 1h0m0-3h0m0 4h0m1 3h0m0-5h0m1 6h0m0-7h0m0 9h0m1-5h0m1 6h0m1-1h0m0-6h0m0 2h0m1-3h0m1 2h0m0-5h0m1 9h0m1-5h0m0 6h0m1-1h0m0 2h0m1-4h0m0-7h0m0 4h0m1 6h0m0-3h0m0-7h0m1 11h0m1 0h0m0-11h0m0 6h0m0 4h0m0-5h0m2 2h0m0-1h0m0 4h0m0-9h0m0 2h0m1-3h0m0 4h0m1 5h0m0 2h0m0-9h0m0 4h0m0-5h0m1 8h0m0-9h0m0 4h0m0 4h0m1 0h0m0-3h0m0 2h0m0-3h0m1 5h0m0-9h0m0 4h0m0 6h0m0-9h0m1 9h0m0-7h0m0 1h0m0 2h0m1-6h0m0 4h0m0 4h0m0-7h0m0 2h0m1 2h0m0 4h0m0-9h0m0 2h0m1 3h0m0 4h0m0-7h0m1 3h0m0 3h0m1 2h0m0-5h0m0 2h0m0-3h0m1 1h0m0-1h0m1 0h0m0 2h0m0 4h0m0-7h0m0 2h0m0-5h0m1 9h0m0-9h0m0 2h0m0 8h0m0-7h0m1-2h0m0 9h0m0-7h0m0-1h0m1-2h0m0 10h0m1-8h0m0 7h0m0 2h0m1 0h0m0-11h0m0 3h0m1 3h0m0 1h0m0-7h0m0 2h0m1 1h0m0-3h0m0 2h0m0 4h0m0 2h0m0-7h0m1 3h0m1-3h0m0 2h0m1 2h0m0-5h0m0 10h0m1-1h0m1-1h0m1-6h0m0 2h0m0 4h0m0 2h0m1-1h0m0-7h0m1 0h0m1 7h0m0 2h0m0-5h0m1 1h0m0 4h0m0-1h0m0-9h0m1 6h0m1-7h0m0 4h0m0 2h0m1-6h0m1 2h0m1 6h0m1 2h0m0-10h0m1 4h0m1 3h0m2-2h0m2 6h0m1-11h0m0 8h0m2-8h0m1 3h0m0 3h0m1-4h0m2 2h0m0 5h0m3-4h0m1 1h0m-343 8h0m9 4h0m2 4h0m12-3h0m1-4h0m3 3h0m3 0h0m1 5h0m4-3h0m3-1h0m5 3h0m1-7h0m1 4h0m4 1h0m2 0h0m4-6h0m2 7h0m1-5h0m1 4h0m0 2h0m1-3h0m2-3h0m3 2h0m3 3h0m4 2h0m1-5h0m1 0h0m2-6h0m1 9h0m2-2h0m1-6h0m2 9h0m0-8h0m3 5h0m0 4h0m6-11h0m0 9h0m1 0h0m3-3h0m1-1h0m0-5h0m1 1h0m2 7h0m1-1h0m2 1h0m2-1h0m2-5h0m1 2h0m5 4h0m0 3h0m1-4h0m0-3h0m0 6h0m1-7h0m3 7h0m1-8h0m1 3h0m0 4h0m2-6h0m2 1h0m0 2h0m2-2h0m3-1h0m1 8h0m2-4h0m4 4h0m1-6h0m0 2h0m2-5h0m0 5h0m1 2h0m0-2h0m1 2h0m1-1h0m4-1h0m2 0h0m1 1h0m0-1h0m0-7h0m2 3h0m0-3h0m2 7h0m0 2h0m1-6h0m0-1h0m1 7h0m0-9h0m0 11h0m1-1h0m1-9h0m3 10h0m1-10h0m1 9h0m0-6h0m2 0h0m1-4h0m1 6h0m0 4h0m0-3h0m1-7h0m1 8h0m0 1h0m0 2h0m1-2h0m1-1h0m0-3h0m2-1h0m1 2h0m1-3h0m0 2h0m0 2h0m0-5h0m1 8h0m1-3h0m0 1h0m2 1h0m0 2h0m1-3h0m0-1h0m2 4h0m0-9h0m1 3h0m1-1h0m1 0h0m1 0h0m0 2h0m1 5h0m1-5h0m2 1h0m0-1h0m1 0h0m0 3h0m2-3h0m0 3h0m2-6h0m0 8h0m1-4h0m0 3h0m1-2h0m0 1h0m0-7h0m3-1h0m1 10h0m0-11h0m2 1h0m2 5h0m2 3h0m2 1h0m3-4h0m1-3h0m0 8h0m2-10h0m1 10h0m1-4h0m1-3h0m1-3h0m1 0h0m1 9h0m2-1h0m2 2h0m3-3h0m5-8h0m1 5h0m0 2h0m0 1h0m5 1h0m2-4h0m4-1h0m1 4h0m8 0h0m0-2h0m4 3h0m0 2h0m3-9h0m4 7h0m2-9h0m1 7h0m3 2h0m0 2h0m0-7h0m0 1h0m1-3h0m1 0h0m2 2h0m1-1h0m0 4h0m0 2h0m1 1h0m0-10h0m0 1h0m1 7h0m0 2h0m0-1h0m1 1h0m0-5h0m0 6h0m1-6h0m1-3h0m0 8h0m0-5h0m1 4h0m0-5h0m0 4h0m2-1h0m0-1h0m1 0h0m0 4h0m0-9h0m0 2h0m1 2h0m0 1h0m1-4h0m0-1h0m0 2h0m1 4h0m0-5h0m0 8h0m1-10h0m0 10h0m1-5h0m0-1h0m0 4h0m0 2h0m1 0h0m0-1h0m0-5h0m1 0h0m0 2h0m0 4h0m0-7h0m1 1h0m0 2h0m0 3h0m0-7h0m1 2h0m0 2h0m0 2h0m1 2h0m0-7h0m0-1h0m1 7h0m0-7h0m0 6h0m0-7h0m1 5h0m0 2h0m0-3h0m0 2h0m0 2h0m1-4h0m0-5h0m0 8h0m1 0h0m0-5h0m0 4h0m0-5h0m1 5h0m0 1h0m1-6h0m0 4h0m0-3h0m0 2h0m1-5h0m0 4h0m0-1h0m0 4h0m1-2h0m0 4h0m0-9h0m0 4h0m0 4h0m0-7h0m1 5h0m0 2h0m1-1h0m0 2h0m0 2h0m0-9h0m0 2h0m1-3h0m0 2h0m1 4h0m0 2h0m1-8h0m0 10h0m1-8h0m0-3h0m0 2h0m0 2h0m0 4h0m1-1h0m0 1h0m1-3h0m0 1h0m0 4h0m0-9h0m0 2h0m1 0h0m0 2h0m0-1h0m1 5h0m0-3h0m0 2h0m0-3h0m1-4h0m0 2h0m0 6h0m1 0h0m2 2h0m0-10h0m1 6h0m1 3h0m1-7h0m0 4h0m0 2h0m0-9h0m0 6h0m1 4h0m0-8h0m2 3h0m1-5h0m1 11h0m0-9h0m1 5h0m1 3h0m0-3h0m2 1h0m1-3h0m0-2h0m1-3h0m1 2h0m0 1h0m2 2h0m2 6h0m0-11h0m0 4h0m5 7h0m1-6h0m-366 16h0m0-3h0m3-3h0m6 0h0m3 4h0m5-1h0m1 1h0m2-2h0m0 4h0m6-5h0m4 3h0m0-1h0m2-4h0m3 9h0m3 0h0m0-9h0m1-1h0m2 9h0m2 1h0m0-9h0m5 7h0m0-1h0m1 3h0m3-10h0m0 4h0m1-1h0m3 4h0m2 1h0m0 1h0m0-7h0m1 4h0m0 2h0m5-2h0m4 2h0m0-7h0m1 6h0m1 0h0m1-1h0m1 3h0m1-9h0m0 1h0m2 2h0m2 6h0m0-1h0m3 0h0m1-2h0m0 4h0m1-7h0m0 2h0m1-3h0m0 2h0m1 4h0m0-1h0m3-8h0m3 4h0m0 2h0m0 4h0m1-2h0m1-5h0m0 3h0m1 1h0m1-3h0m1 7h0m1-11h0m4 7h0m1 1h0m0-5h0m1 4h0m0-1h0m1-4h0m1 4h0m0 4h0m1 0h0m1-6h0m0 1h0m1 3h0m0 2h0m7 0h0m0-5h0m1-1h0m3 7h0m2 0h0m1 0h0m1-1h0m3-10h0m0 4h0m0 1h0m1 0h0m0 4h0m0 2h0m1 0h0m0-6h0m1 6h0m2-8h0m1-2h0m0 2h0m1 4h0m1 4h0m0-3h0m1 3h0m0-3h0m0-6h0m2 2h0m0 3h0m1-2h0m0 2h0m0 2h0m1 0h0m1-3h0m0 1h0m1-1h0m0-5h0m2 2h0m1 8h0m1-9h0m0 8h0m0-9h0m0-1h0m1 9h0m1-5h0m1 7h0m0-3h0m1-5h0m2 7h0m0-9h0m1 6h0m1 3h0m0-3h0m0-5h0m1 2h0m1-1h0m1 3h0m0 5h0m0-11h0m1 4h0m1 4h0m0-5h0m0 6h0m1-3h0m0 4h0m1-8h0m0 9h0m0-5h0m0 2h0m1 0h0m1-6h0m0 4h0m0 1h0m3-2h0m0-5h0m4 3h0m0 8h0m0-7h0m1 2h0m0 4h0m0-10h0m1 3h0m0 6h0m1 1h0m1-6h0m0 6h0m0-7h0m2 1h0m0 2h0m2 4h0m1 1h0m1-1h0m1-3h0m2-4h0m0 4h0m1 3h0m0-5h0m0 2h0m1-5h0m1 8h0m0-7h0m0-3h0m1 1h0m1 9h0m0 1h0m1-8h0m0 4h0m1 3h0m0-10h0m0 4h0m1 0h0m0-3h0m0 6h0m1 3h0m0-3h0m0 2h0m0-9h0m1 8h0m0-7h0m0 2h0m1 7h0m0-5h0m1 6h0m1-1h0m0-1h0m1-4h0m0 6h0m0-5h0m0-5h0m1 1h0m1 3h0m1-1h0m1-4h0m1 10h0m0 1h0m1-5h0m0 2h0m0 2h0m0-5h0m0-1h0m1-2h0m0 2h0m0 2h0m0 4h0m1 0h0m0-9h0m0 4h0m0 2h0m1 0h0m0-7h0m1 1h0m0 9h0m1-4h0m0 5h0m1-6h0m0 4h0m1-9h0m0 10h0m0-5h0m1-4h0m1-1h0m0 11h0m0-4h0m1 0h0m0 4h0m0-7h0m0 4h0m1 3h0m0-7h0m1 1h0m0 2h0m0 4h0m0-7h0m1 7h0m0-7h0m1 7h0m0-6h0m1 2h0m0-7h0m1 0h0m1 5h0m0 6h0m1 0h0m0-7h0m1-3h0m0 7h0m0-1h0m1-4h0m0 2h0m0 6h0m0-1h0m1-4h0m0 5h0m0-9h0m2 8h0m0 1h0m1-9h0m0 4h0m1 4h0m0-4h0m1 0h0m0-1h0m1 2h0m0-5h0m0 4h0m1 4h0m0-5h0m0 6h0m1-10h0m0 8h0m1-1h0m0 3h0m1-8h0m0 8h0m0-11h0m0 4h0m0 4h0m1 0h0m1-7h0m0 2h0m0 2h0m0 4h0m0-9h0m0 2h0m0 4h0m1-3h0m1 4h0m0-7h0m1 5h0m0-4h0m1 2h0m0 6h0m0-3h0m2 3h0m0-5h0m2 2h0m1-1h0m0 3h0m1-8h0m1 2h0m1-1h0m1 9h0m0-3h0m0-1h0m1 5h0m1-1h0m0-1h0m0-1h0m2-3h0m0-3h0m1 5h0m2-6h0m0 1h0m1 3h0m2 3h0m1-5h0m1 3h0m1-1h0m0 3h0m1-3h0m1-3h0m1-1h0m1 4h0m1-3h0m1 9h0m0-7h0m1 7h0m2-3h0m0-7h0m0 9h0m1 0h0m0-7h0m2 6h0m1-3h0m5-1h0m2 2h0m1-7h0m3 8h0m0-1h0m1-7h0m1 1h0m0 6h0m1-2h0m0 4h0m0-3h0m2-3h0m1 0h0m0 8h0m0-11h0m1 0h0m0 3h0m1 8h0m1-2h0m2-5h0m0-1h0m1 4h0m0-7h0m0 6h0m1-5h0m0 6h0m2 0h0m1-6h0m1 8h0m1-9h0m0 10h0m0-9h0m1 8h0m1-2h0m0 1h0m0 2h0m1 1h0m0-11h0m1 11h0m1-2h0m0-7h0m0 4h0m1-6h0m1 3h0m0 2h0m0 4h0m0 2h0m0-9h0m0 2h0m1 2h0m1-3h0m0 8h0m0-7h0m1 0h0m0 2h0m1 4h0m0-9h0m1 6h0m0 4h0m0-1h0m0-5h0m1 0h0m0 4h0m0-7h0m0 6h0m1 3h0m0-9h0m0 3h0m0-5h0m1 7h0m0 4h0m0-1h0m1-6h0m0 2h0m0 4h0m0-9h0m0 6h0m0 4h0m1-1h0m0-7h0m0 2h0m0 2h0m0 4h0m1 0h0m0-7h0m0 4h0m0-7h0m0 4h0m1-2h0m0 8h0m0-1h0m1-8h0m0 2h0m0 2h0m1 3h0m0-3h0m1 5h0m1-4h0m0-7h0m0 4h0m0 2h0m1 3h0m0 2h0m0-11h0m0 2h0m1 9h0m0-9h0m0 2h0m0 6h0m1-3h0m0-1h0m0-5h0m1 8h0m0 2h0m0-9h0m0 2h0m0 2h0m0 2h0m1-8h0m0 2h0m1 3h0m0 6h0m0-11h0m0 1h0m0 2h0m1 0h0m0 5h0m0-7h0m1 10h0m0-9h0m0 4h0m1-4h0m1 4h0m1 1h0m0-1h0m0 2h0m1-4h0m0-3h0m1 10h0m0-6h0m1 1h0m0-6h0m1 0h0m0 10h0m0-5h0m1-1h0m0 4h0m0-5h0m1-2h0m1 10h0m1 0h0m0-7h0m0 2h0m0 4h0m0-5h0m2 5h0m0-7h0m0-3h0m1 11h0m1-5h0m0 2h0m0 2h0m0-5h0m0 6h0m1-4h0m0 3h0m0-7h0m1 0h0m3 8h0m0-11h0m0 8h0m2-6h0m0 4h0m1-2h0m0-1h0m1 8h0m3 0h0m1-8h0m0-3h0m3 8h0m0-7h0m0 4h0m1 2h0m5 4h0m3 0h0m-384 11h0m1-3h0m3 3h0m3-7h0m12 8h0m2-5h0m2 2h0m1 3h0m0-3h0m2 2h0m1-10h0m2 3h0m4 3h0m1-5h0m2 3h0m0 2h0m0-5h0m1 6h0m1-5h0m1 7h0m0 1h0m5-8h0m3 8h0m1-1h0m0-1h0m2-1h0m0-6h0m1 8h0m0-3h0m1 0h0m1 5h0m1-3h0m1 2h0m0-9h0m0 8h0m0 2h0m1-7h0m0 2h0m1 1h0m1-5h0m0-1h0m1 6h0m0-5h0m0-1h0m1 10h0m1-4h0m1 3h0m0-7h0m1 3h0m1-2h0m0 2h0m1 4h0m0-9h0m1 8h0m1-4h0m0-2h0m1 1h0m1 2h0m0-4h0m1-1h0m1 1h0m3 9h0m1-2h0m0-1h0m1-7h0m1 1h0m2 6h0m0-5h0m1 5h0m1 2h0m0-9h0m1 4h0m1 1h0m0 5h0m1-4h0m0 1h0m1 3h0m0-7h0m0 4h0m0-3h0m0 4h0m0-7h0m1 0h0m1 9h0m1-4h0m0 2h0m0 2h0m0-7h0m2 4h0m0-7h0m0 8h0m2 2h0m0-9h0m0 8h0m1-1h0m0 2h0m0-7h0m0 4h0m1-6h0m0-2h0m1 7h0m0-3h0m1-2h0m0-1h0m0-1h0m1 2h0m0 8h0m1-8h0m0 5h0m1-6h0m1 0h0m1 9h0m1-4h0m0-1h0m0 2h0m0-7h0m0 2h0m0 9h0m1-9h0m0-1h0m1 3h0m1 5h0m0-3h0m1 2h0m1-2h0m0 4h0m0-5h0m1 4h0m0-1h0m0-3h0m1-3h0m1 4h0m1-5h0m0 2h0m0-3h0m1 7h0m0-3h0m1 4h0m0-3h0m0 2h0m1-6h0m0 6h0m1 4h0m1 0h0m0-3h0m0 2h0m2-2h0m0-7h0m0 4h0m0 2h0m1-6h0m1 3h0m1 0h0m0 3h0m1 1h0m0-3h0m0 2h0m1 3h0m1-3h0m1 3h0m0-8h0m0 6h0m2-7h0m0 4h0m0 4h0m2-5h0m0 2h0m0-6h0m1 9h0m0-1h0m0-7h0m1-1h0m0 1h0m1 9h0m3-2h0m0 2h0m1-1h0m0-7h0m2 2h0m0 4h0m0-5h0m0 4h0m1-6h0m0 10h0m0-11h0m0 2h0m0 2h0m1 2h0m0-5h0m1 1h0m1 9h0m0-10h0m0 6h0m1 4h0m1-11h0m1 1h0m0 2h0m0-3h0m1 0h0m1 4h0m0 4h0m0 2h0m0-5h0m1 1h0m0 2h0m1 3h0m1-2h0m0-2h0m2-6h0m0 6h0m0 2h0m0 2h0m0-7h0m0 2h0m1 4h0m0-9h0m0 2h0m1-2h0m0 8h0m1-8h0m0 10h0m0-5h0m1 2h0m0-5h0m0 2h0m1-2h0m0 2h0m2 5h0m0-5h0m1 1h0m1-5h0m1 9h0m0-10h0m1 11h0m0-10h0m0 2h0m0 2h0m1 3h0m0 2h0m2-3h0m0 2h0m1-2h0m0-1h0m0 4h0m0-7h0m0 2h0m1-4h0m0 2h0m0 6h0m2-3h0m0 2h0m0-5h0m0 4h0m0 4h0m0-9h0m1 5h0m0-7h0m0 4h0m0 4h0m1-4h0m0 1h0m0-3h0m1 8h0m0-9h0m1 9h0m0-5h0m0-5h0m1 10h0m1-5h0m0-5h0m0 11h0m0-5h0m0 2h0m0-7h0m1 7h0m0 2h0m0-1h0m1-1h0m0-7h0m0 4h0m1-1h0m0 4h0m0-1h0m0-5h0m1 1h0m0 2h0m0 4h0m0-7h0m0 2h0m1 5h0m0 2h0m0-7h0m1 2h0m1 2h0m0-5h0m0 1h0m1 7h0m0-3h0m1-8h0m0 6h0m1 1h0m0 3h0m0-9h0m1 9h0m0-5h0m0 2h0m1-5h0m0 9h0m0-1h0m1-9h0m0 2h0m1 1h0m0-3h0m1 2h0m0 1h0m1 6h0m0-9h0m1 9h0m0-7h0m0 4h0m0-7h0m1 5h0m1-2h0m0 4h0m0-7h0m0 2h0m0-1h0m1 9h0m0-3h0m1-6h0m1 5h0m0 4h0m0-7h0m1 5h0m0 2h0m1-2h0m0 2h0m1-5h0m0 4h0m0 1h0m0-9h0m1 7h0m0-7h0m0 6h0m0-1h0m1 4h0m0 1h0m0-11h0m0 4h0m0 2h0m1 2h0m0 2h0m0-9h0m0 2h0m0 6h0m0 2h0m0-5h0m1 2h0m0-5h0m0 6h0m0-9h0m0 2h0m1 8h0m1-2h0m0-1h0m0 2h0m0 2h0m1-3h0m0-8h0m0 2h0m1 0h0m1-1h0m0 7h0m0-1h0m0 2h0m0-5h0m1-3h0m0 9h0m0-7h0m0 4h0m2 3h0m1-4h0m0 4h0m0-1h0m0-9h0m1 4h0m1 2h0m1 4h0m0-9h0m0 6h0m0-5h0m1 7h0m0-5h0m1 6h0m0-10h0m1 11h0m0-9h0m0 8h0m0-7h0m1 6h0m1-6h0m1 5h0m0-1h0m0 4h0m0-11h0m0 4h0m1 4h0m0-7h0m0 2h0m0 6h0m0 2h0m1-10h0m0-1h0m1 10h0m0-9h0m1 4h0m0 2h0m0 4h0m0-9h0m1-2h0m1 5h0m0 2h0m0 2h0m1 0h0m0-3h0m1-3h0m0 5h0m0-7h0m1 2h0m0-3h0m1 10h0m0-9h0m0 10h0m0-11h0m0 4h0m1 7h0m1-10h0m1 1h0m0 2h0m0 4h0m1 0h0m1 3h0m1-1h0m1-3h0m1-6h0m0 9h0m0-7h0m0 4h0m1 3h0m0-5h0m0 2h0m0 2h0m0 2h0m1-1h0m0-10h0m1 3h0m0 6h0m0 2h0m0-11h0m0 10h0m1-1h0m1 2h0m1-1h0m0-9h0m0 10h0m0-7h0m1 1h0m0 4h0m0-5h0m0 4h0m0-7h0m1 9h0m1-1h0m0-3h0m0-5h0m1-1h0m0 6h0m2 4h0m1-1h0m0-5h0m0 2h0m1-1h0m0 6h0m0-9h0m1 9h0m0-7h0m1 3h0m2 4h0m0-5h0m0 4h0m1-10h0m1 5h0m0-5h0m0 2h0m0-1h0m3 8h0m0-5h0m1-3h0m0 2h0m1 8h0m0-9h0m0 2h0m1-4h0m1 6h0m0 1h0m2-2h0m0-5h0m0 4h0m0 6h0m1-10h0m0 5h0m0 2h0m0 2h0m1-6h0m0-2h0m1 4h0m1 3h0m1 3h0m0-8h0m1-3h0m1 9h0m0 2h0m0-7h0m2-1h0m1 5h0m0-7h0m1 10h0m1-9h0m1 8h0m0-7h0m1-2h0m1 2h0m1 4h0m0-5h0m0 4h0m0 4h0m1-10h0m3 7h0m1 0h0m0-5h0m1 1h0m0 4h0m2-5h0m0 2h0m0 1h0m1 6h0m0-5h0m1 2h0m1 1h0m0-3h0m0-5h0m1 2h0m1 0h0m0 6h0m0-9h0m0 10h0m1-8h0m0 6h0m1 1h0m0 2h0m0-3h0m0-5h0m1 6h0m0 2h0m1-2h0m0-4h0m1 0h0m4-3h0m1 8h0m0-1h0m1 2h0m0-7h0m0 6h0m1-9h0m0 10h0m0-11h0m1 4h0m0 6h0m0-9h0m1 2h0m1 1h0m1 2h0m0 4h0m0-9h0m0 8h0m1-3h0m0-5h0m1 2h0m0 6h0m1-6h0m0-3h0m0 6h0m1 0h0m0 2h0m0 2h0m1-10h0m0 7h0m0 4h0m0-6h0m1 6h0m0-9h0m0-1h0m1 6h0m0-7h0m0 4h0m0 6h0m1-7h0m0 2h0m0 2h0m0-5h0m1 9h0m0-5h0m0 4h0m1-3h0m0 2h0m0 1h0m1-10h0m0 2h0m0 2h0m0 2h0m0-5h0m1 0h0m0 2h0m0-3h0m0 9h0m0 2h0m0-7h0m1-2h0m1 5h0m0-7h0m0 6h0m1-4h0m1 1h0m0 4h0m1 2h0m0-7h0m0 8h0m0-5h0m0 2h0m1 0h0m0 4h0m0-6h0m1 2h0m1 4h0m0-9h0m0 2h0m0 6h0m1-10h0m1 11h0m0-11h0m0 2h0m0 2h0m0 4h0m1 2h0m0-9h0m0 4h0m0 4h0m0-9h0m0 2h0m0 2h0m0 4h0m1-6h0m1 5h0m0 2h0m0-7h0m0 2h0m0 1h0m2-3h0m0 2h0m0 4h0m1-8h0m0 4h0m0 1h0m1 6h0m0-10h0m1 5h0m0-3h0m0-3h0m0 7h0m0 2h0m0 2h0m1-5h0m0 4h0m0-9h0m0-1h0m1 1h0m0 4h0m0 2h0m1-2h0m0-5h0m0 6h0m0-5h0m1 10h0m0-5h0m0-3h0m1 3h0m0 2h0m0-5h0m0 2h0m1 1h0m0 3h0m1-8h0m0 4h0m0 2h0m1 2h0m0 2h0m0-5h0m2 4h0m1-10h0m0 10h0m0-5h0m0 2h0m1 2h0m1 2h0m0-3h0m1-3h0m0 2h0m0-6h0m1 0h0m1 7h0m0-8h0m1 11h0m0-6h0m1-5h0m0 1h0m4 8h0m0 1h0m1-1h0m1-2h0m0-7h0m0 2h0m0 6h0m0-3h0m4 3h0m2 3h0m2 0h0m3 0h0m1-3h0m2-7h0m-390 17h0m1-3h0m3 1h0m3 2h0m6 3h0m4-4h0m2 1h0m6-6h0m1 1h0m8 2h0m2-1h0m0 3h0m1 2h0m1-1h0m7 1h0m1-4h0m4 0h0m6-2h0m3 9h0m3-6h0m0 1h0m3 0h0m1 4h0m0 2h0m1-5h0m0-3h0m0-3h0m1 3h0m1-2h0m0 4h0m1 2h0m1-6h0m0 1h0m1 6h0m0-8h0m1 11h0m1-9h0m1 4h0m1 3h0m1-6h0m0 4h0m6-6h0m2 8h0m0-8h0m1 2h0m0 4h0m0-3h0m0 2h0m1-4h0m0-1h0m2 1h0m0 8h0m1-4h0m0 2h0m1-1h0m1-7h0m1 8h0m0-7h0m3 5h0m2-4h0m0 6h0m3-3h0m1-3h0m0 3h0m0 2h0m1-3h0m3 4h0m0-7h0m0 6h0m1-6h0m0 6h0m0-7h0m1 1h0m1 6h0m0-7h0m1 4h0m0 4h0m2-4h0m0-1h0m2 7h0m0-10h0m0 2h0m1 8h0m1-2h0m0-1h0m1-7h0m0 11h0m0-6h0m0 2h0m1-6h0m0 8h0m1-8h0m0-1h0m1 7h0m0-1h0m1 5h0m0-7h0m2 5h0m1 0h0m1-2h0m1 4h0m0-7h0m1 1h0m1-5h0m1 1h0m0 4h0m0-5h0m1 2h0m2-2h0m0 4h0m0-1h0m1 4h0m1-2h0m1-3h0m2 6h0m2-5h0m0 4h0m0 4h0m0-1h0m1-1h0m1-7h0m1 1h0m1 1h0m0 2h0m0-3h0m0-3h0m1 6h0m0-4h0m1 7h0m0 2h0m0-11h0m1 3h0m2 0h0m0-3h0m1 5h0m1-2h0m0-1h0m0 4h0m1 0h0m2-1h0m1-4h0m0 4h0m0-5h0m0 4h0m1-4h0m1 3h0m0 6h0m0-5h0m2 0h0m0 4h0m0-8h0m1 1h0m0 2h0m0 2h0m0-5h0m0 6h0m1-2h0m0-1h0m2-3h0m0 5h0m1 0h0m0-5h0m2 6h0m0 2h0m2 0h0m1-8h0m1 7h0m1-6h0m0 4h0m0 2h0m0-3h0m1 6h0m0-1h0m0 2h0m1-1h0m0-10h0m1 2h0m1-1h0m1 5h0m0-5h0m1 8h0m0 2h0m1-10h0m0 4h0m2-4h0m0 6h0m0-3h0m2 3h0m1-4h0m0 2h0m1-1h0m1 3h0m0-5h0m1-2h0m1 11h0m1-8h0m1 4h0m1 0h0m0-3h0m0 2h0m1-6h0m0 1h0m1 5h0m0-3h0m0 8h0m0-11h0m0 2h0m0 2h0m1-3h0m0 9h0m1 0h0m1-1h0m0 2h0m0-11h0m1 9h0m0-7h0m1 9h0m0-7h0m0-3h0m2 9h0m0-6h0m1-4h0m0 2h0m0 2h0m1 7h0m0-10h0m0 1h0m2-1h0m0 6h0m0 4h0m0-11h0m1 1h0m0 7h0m1 0h0m1-5h0m0 6h0m0-3h0m1-2h0m0 2h0m0-3h0m2 7h0m2-2h0m0 2h0m1 1h0m1-10h0m0 8h0m0 2h0m1 0h0m0-9h0m0 8h0m1-9h0m0 1h0m1 8h0m1-8h0m1 1h0m0-3h0m0 6h0m1-1h0m0 1h0m1-6h0m1 10h0m0 1h0m0-11h0m1 6h0m0-3h0m1 4h0m1 4h0m1-9h0m1 2h0m0 2h0m2 0h0m2-6h0m0 2h0m1-2h0m0 8h0m1 1h0m0-1h0m1-3h0m0 4h0m1-6h0m0-1h0m0 6h0m1-7h0m1 10h0m0-11h0m1 1h0m0 4h0m2-2h0m1 7h0m3-1h0m0 2h0m3-2h0m0-5h0m0-3h0m2 2h0m0 2h0m1-4h0m0 9h0m0-5h0m0-1h0m0 4h0m1-8h0m0 8h0m3-6h0m0 6h0m1-1h0m0 2h0m0-8h0m1 10h0m0-3h0m1-4h0m0-3h0m1 2h0m1 3h0m1-1h0m1 4h0m0 2h0m0-11h0m1 5h0m0 6h0m0-10h0m1-1h0m1 4h0m2-2h0m1 8h0m1-8h0m2 0h0m0-1h0m1 2h0m0 6h0m2-3h0m1 0h0m2 4h0m2-10h0m2 1h0m0 9h0m0 1h0m2-8h0m1 3h0m2-4h0m0 6h0m1-4h0m0 1h0m3 6h0m6-9h0m0 8h0m1-7h0m2 6h0m1-8h0m1 6h0m0-7h0m1 0h0m1 6h0m0 1h0m1-7h0m1 5h0m0 4h0m1 2h0m1-1h0m2-4h0m0-3h0m3-3h0m1 4h0m0 3h0m1-3h0m1-2h0m1 7h0m0-5h0m0 2h0m0 2h0m1-4h0m1 0h0m0 6h0m0-7h0m2 6h0m0-9h0m1 3h0m0 3h0m1-6h0m0 8h0m0-3h0m1 2h0m0-3h0m1 6h0m0-3h0m0 4h0m2-9h0m0 2h0m0 2h0m1-2h0m3 5h0m0-7h0m0 6h0m0-3h0m1 1h0m0 2h0m0-7h0m0 4h0m1 4h0m0 2h0m1-3h0m0 2h0m0-5h0m1-2h0m0 2h0m0-5h0m1 2h0m0 6h0m0 2h0m0-9h0m0-1h0m1 9h0m0-9h0m0 4h0m1 2h0m1 0h0m0 2h0m0 2h0m0-5h0m1 2h0m0-5h0m0 6h0m1-1h0m0 2h0m0-8h0m1 3h0m0 2h0m0-6h0m1 9h0m0 2h0m0-8h0m0 2h0m0 2h0m0-5h0m1 2h0m0 4h0m0-7h0m0 1h0m1 5h0m0 2h0m0-8h0m0 2h0m1 2h0m1 2h0m0-5h0m0 6h0m1-8h0m0 1h0m0 2h0m1 6h0m0-3h0m1-5h0m0 4h0m0-3h0m0 4h0m1 5h0m0-9h0m0 2h0m1 3h0m1-3h0m0 6h0m0-7h0m1 6h0m0 2h0m0-8h0m2 6h0m0-7h0m2 2h0m0-1h0m1 3h0m0-5h0m0 8h0m2-6h0m0 2h0m0 2h0m1 2h0m0-7h0m0 2h0m0-3h0m0 2h0m1 3h0m0-4h0m1 5h0m0-5h0m1-1h0m0 6h0m2 2h0m0-9h0m1 3h0m0 4h0m1 1h0m0-3h0m0-3h0m3-2h0m1 1h0m1 3h0m0 7h0m1-4h0m4-7h0m0 4h0m0 6h0m1-1h0m1-5h0m0 4h0m0-5h0m1 1h0m3-2h0m5 1h0m0 1h0m-398 18h0m6 0h0m3-8h0m10 1h0m8-2h0m3 10h0m6-10h0m5 5h0m4-4h0m0 2h0m4 4h0m1-1h0m2-5h0m3 3h0m0-3h0m5 7h0m2-8h0m3-1h0m1 3h0m2 7h0m4-2h0m3-8h0m3 1h0m3 3h0m7-4h0m6 3h0m0 4h0m1-2h0m3-1h0m1 5h0m3 1h0m1-1h0m1-9h0m4 4h0m0-2h0m1 0h0m1 4h0m2 0h0m1 4h0m0-7h0m6 4h0m2-5h0m0 2h0m7 6h0m0-8h0m4 1h0m0 6h0m2-8h0m0 1h0m7 0h0m1 6h0m1-6h0m1 6h0m0-7h0m1 6h0m0-3h0m2-4h0m0 2h0m2 9h0m2-10h0m0-1h0m1 4h0m4 1h0m0-1h0m2 1h0m4 3h0m0-5h0m1 3h0m2-3h0m0 2h0m2 1h0m2 1h0m0 1h0m1 0h0m1-3h0m2-5h0m1 8h0m0 1h0m1-4h0m0-4h0m1 3h0m1-2h0m2-1h0m2 5h0m1-6h0m0 6h0m1 0h0m1 1h0m4-4h0m1 1h0m1-2h0m1 2h0m1-1h0m1-1h0m1 0h0m2 3h0m0-1h0m6 0h0m2-3h0m1 6h0m2-4h0m1-3h0m0 2h0m2 0h0m1 1h0m1 5h0m1-8h0m0 1h0m5 9h0m0-9h0m2-1h0m2 1h0m1 9h0m3-10h0m0 2h0m0-1h0m1 4h0m5-3h0m1 6h0m0-7h0m2 6h0m0-4h0m1 5h0m2 2h0m4-8h0m0 1h0m1 3h0m0-3h0m3-1h0m1 3h0m2 3h0m0-7h0m1 5h0m0-5h0m2 4h0m0-3h0m1 9h0m1 0h0m0-11h0m3 2h0m5 0h0m1 0h0m0-1h0m1 5h0m2-6h0m1 7h0m1-7h0m11 8h0m1 0h0m0-6h0m6 7h0m2-9h0m1 4h0m4 3h0m1 1h0m3 0h0m2-2h0m1 0h0m2 5h0m11-5h0m2-5h0m2 5h0m1 0h0m1 2h0m3-6h0m3 6h0m0 2h0m2-6h0m1 1h0m1-5h0m1 3h0m2 5h0m0-8h0m1 11h0m0-5h0m2 5h0m0-11h0m2 7h0m0 2h0m0-5h0m1 6h0m0-10h0m1 10h0m0-7h0m0 4h0m1-2h0m0 6h0m1-8h0m1-1h0m0 8h0m0-5h0m1 6h0m0-7h0m1 1h0m0-5h0m1 0h0m0 2h0m1-2h0m1 2h0m0-2h0m1 1h0m1 5h0m0 2h0m0-1h0m1-6h0m0 10h0m0-1h0m1-9h0m0 1h0m1 4h0m0-3h0m1 4h0m1 0h0m0-3h0m1 7h0m0-10h0m0-1h0m1 3h0m0-3h0m1 4h0m1-1h0m2 2h0m1-4h0m1 0h0m0-1h0m1 2h0m1 2h0m0 6h0m0-3h0m2 3h0m1-7h0m1 3h0m0-4h0m2 2h0m0-3h0m2 5h0m0 4h0m2-5h0m2 4h0m4-2h0m0 1h0m2-7h0m4 1h0m3 0h0m7-2h0m2 8h0m6-6h0m-344 16h0m106 5h0m79-9h0m88 0h0m3-1h0m16 1h0m4 6h0m2-4h0m8 0h0m10 3h0m-270 15h0m62-1h0m60-9h0m108 21h0" fill="none" stroke="#000" stroke-width="3.42" stroke-linecap="round" opacity="0.85" filter="url(#bl0)"/>
<path d="M331 206C331 200.1 341.8 199.4 352.5 199.4C365.4 199.4 370.0 202.2 378.0 202.2L412.5 202.2C415.5 202.2 416.5 203.7 416.5 206C416.5 208.3 415.5 209.8 412.5 209.8L378.0 209.8C370.0 209.8 365.4 212.6 352.5 212.6C341.8 212.6 331 211.9 331 206Z" fill="#fdfdfd" stroke="#7a7a7a" stroke-width="0.7"/>
<path d="M334 206C334 201.1 343.0 200.6 352.0 200.6C362.8 200.6 366.0 203.4 374.0 203.4L407.0 203.4C410.0 203.4 411 204.4 411 206C411 207.6 410.0 208.6 407.0 208.6L374.0 208.6C366.0 208.6 362.8 211.4 352.0 211.4C343.0 211.4 334 210.9 334 206Z" fill="#eeeeee" stroke="#7a7a7a" stroke-width="0.7"/>
<path d="M337 206C337 202.1 344.2 201.7 351.5 201.7C360.2 201.7 362.0 204.6 370.0 204.6L399.0 204.6C402.0 204.6 403 205.2 403 206C403 206.8 402.0 207.4 399.0 207.4L370.0 207.4C362.0 207.4 360.2 210.3 351.5 210.3C344.2 210.3 337 209.9 337 206Z" fill="#eeeeee" stroke="#7a7a7a" stroke-width="0.7"/>
<path d="M340 206C340 203.1 345.5 202.8 351.0 202.8C357.6 202.8 362 204.1 362 206C362 207.9 357.6 209.2 351.0 209.2C345.5 209.2 340 208.9 340 206Z" fill="#eeeeee" stroke="#7a7a7a" stroke-width="0.7"/>
<path d="M343 206C343 204.1 346.8 203.9 350.5 203.9C355.0 203.9 358 204.7 358 206C358 207.3 355.0 208.1 350.5 208.1C346.8 208.1 343 207.9 343 206Z" fill="#eeeeee" stroke="#7a7a7a" stroke-width="0.7"/>
<path d="M346 206C346 205.1 348.0 205.0 350.0 205.0C352.4 205.0 354 205.4 354 206C354 206.6 352.4 207.0 350.0 207.0C348.0 207.0 346 206.9 346 206Z" fill="#fff" stroke="#7a7a7a" stroke-width="0.7"/>
<path d="M479.5 173.5C484.0 173.5 492.8 192.5 492.8 201.5C492.8 208.5 486.5 211.0 479.5 211.0C472.5 211.0 466.2 208.5 466.2 201.5C466.2 192.5 475.0 173.5 479.5 173.5Z" fill="#fdfdfd" stroke="#7a7a7a" stroke-width="0.7"/>
<path d="M479.5 179.1C483.1 179.1 490.1 194.3 490.1 201.5C490.1 207.1 485.1 209.1 479.5 209.1C473.9 209.1 468.9 207.1 468.9 201.5C468.9 194.3 475.9 179.1 479.5 179.1Z" fill="#eeeeee" stroke="#7a7a7a" stroke-width="0.7"/>
<path d="M479.5 184.1C482.3 184.1 487.7 195.9 487.7 201.5C487.7 205.8 483.8 207.4 479.5 207.4C475.2 207.4 471.3 205.8 471.3 201.5C471.3 195.9 476.7 184.1 479.5 184.1Z" fill="#eeeeee" stroke="#7a7a7a" stroke-width="0.7"/>
<path d="M479.5 188.9C481.5 188.9 485.5 197.4 485.5 201.5C485.5 204.7 482.6 205.8 479.5 205.8C476.4 205.8 473.5 204.7 473.5 201.5C473.5 197.4 477.5 188.9 479.5 188.9Z" fill="#eeeeee" stroke="#7a7a7a" stroke-width="0.7"/>
<path d="M479.5 193.7C480.8 193.7 483.2 199.0 483.2 201.5C483.2 203.5 481.5 204.2 479.5 204.2C477.5 204.2 475.8 203.5 475.8 201.5C475.8 199.0 478.2 193.7 479.5 193.7Z" fill="#fff" stroke="#7a7a7a" stroke-width="0.7"/>
<ellipse cx="427.7" cy="92.7" rx="24.5" ry="12.0" transform="rotate(-17 427.7 92.7)" fill="#fdfdfd" stroke="#7a7a7a" stroke-width="0.7"/>
<ellipse cx="427.7" cy="92.7" rx="20.6" ry="10.1" transform="rotate(-17 427.7 92.7)" fill="#eeeeee" stroke="#7a7a7a" stroke-width="0.7"/>
<ellipse cx="427.7" cy="92.7" rx="16.7" ry="8.2" transform="rotate(-17 427.7 92.7)" fill="#eeeeee" stroke="#7a7a7a" stroke-width="0.7"/>
<ellipse cx="427.7" cy="92.7" rx="13.0" ry="6.4" transform="rotate(-17 427.7 92.7)" fill="#eeeeee" stroke="#7a7a7a" stroke-width="0.7"/>
<ellipse cx="427.7" cy="92.7" rx="9.3" ry="4.6" transform="rotate(-17 427.7 92.7)" fill="#eeeeee" stroke="#7a7a7a" stroke-width="0.7"/>
<ellipse cx="427.7" cy="92.7" rx="5.9" ry="2.9" transform="rotate(-17 427.7 92.7)" fill="#eeeeee" stroke="#7a7a7a" stroke-width="0.7"/>
<ellipse cx="427.7" cy="92.7" rx="2.7" ry="1.3" transform="rotate(-17 427.7 92.7)" fill="#fff" stroke="#7a7a7a" stroke-width="0.7"/>
<ellipse cx="429" cy="95.5" rx="52.8" ry="29.8" transform="rotate(-17.5 429 95.5)" fill="none" stroke="#2e2e2e" stroke-width="1.75"/>
<text x="314.3" y="103.6" font-size="30" text-anchor="start">37.0</text>
<path d="M296.5 66H301.5M296.5 116H301.5M296.5 173H301.5M296.5 206H301.5M296.5 241H301.5M298.9 51.0H301.5M298.9 100.9H301.5M298.9 92.1H301.5M298.9 85.9H301.5M298.9 81.1H301.5M298.9 77.1H301.5M298.9 73.7H301.5M298.9 70.8H301.5M298.9 68.3H301.5M298.9 155.8H301.5M298.9 145.8H301.5M298.9 138.7H301.5M298.9 133.2H301.5M298.9 128.6H301.5M298.9 124.8H301.5M298.9 121.5H301.5M298.9 118.6H301.5M298.9 176.0H301.5M298.9 179.0H301.5M298.9 182.0H301.5M298.9 185.0H301.5M298.9 188.0H301.5M298.9 191.0H301.5M298.9 194.0H301.5M298.9 197.0H301.5M298.9 200.0H301.5M298.9 212.0H301.5M298.9 215.0H301.5M298.9 218.0H301.5M298.9 221.0H301.5M298.9 224.0H301.5M298.9 227.0H301.5M298.9 230.0H301.5M298.9 233.0H301.5M298.9 236.0H301.5M298.9 239.0H301.5M314.5 255V260M383.0 255V260M440.0 255V260M490.5 255V260M317.5 255V257.6M321.0 255V257.6M324.5 255V257.6M327.5 255V257.6M330.5 255V257.6M333.5 255V257.6M336.5 255V257.6M339.5 255V257.6M342.5 255V257.6M356.5 255V257.6M359.5 255V257.6M362.5 255V257.6M365.5 255V257.6M368.5 255V257.6M371.5 255V257.6M374.5 255V257.6M377.5 255V257.6M380.0 255V257.6M400.2 255V257.6M410.2 255V257.6M417.3 255V257.6M422.8 255V257.6M427.4 255V257.6M431.2 255V257.6M434.5 255V257.6M437.4 255V257.6M455.2 255V257.6M464.1 255V257.6M470.4 255V257.6M475.3 255V257.6M479.3 255V257.6M482.7 255V257.6M485.6 255V257.6M488.2 255V257.6M505.5 255V257.6" stroke="#111" stroke-width="1.2" fill="none"/>
<rect x="345.0" y="255" width="8.5" height="4.2" fill="#111"/>
<rect x="297.3" y="202" width="4.2" height="8.5" fill="#111"/>
<rect x="301.5" y="47" width="207.2" height="208" fill="none" stroke="#2a2a2a" stroke-width="1.8"/>
<text x="0.5" y="336.8" font-size="31" text-anchor="start">B</text>
<path d="M69.7 341.5V584.5M68.6 583.5H233" fill="none" stroke="#111" stroke-width="2.2"/>
<line x1="63" y1="342.5" x2="70" y2="342.5" stroke="#111" stroke-width="2.2"/>
<text x="61.0" y="349.9" font-size="22.3" text-anchor="end">10</text>
<line x1="63" y1="390.7" x2="70" y2="390.7" stroke="#111" stroke-width="2.2"/>
<text x="61.0" y="398.09999999999997" font-size="22.3" text-anchor="end">8</text>
<line x1="63" y1="438.9" x2="70" y2="438.9" stroke="#111" stroke-width="2.2"/>
<text x="61.0" y="446.29999999999995" font-size="22.3" text-anchor="end">6</text>
<line x1="63" y1="487.1" x2="70" y2="487.1" stroke="#111" stroke-width="2.2"/>
<text x="61.0" y="494.5" font-size="22.3" text-anchor="end">4</text>
<line x1="63" y1="535.3" x2="70" y2="535.3" stroke="#111" stroke-width="2.2"/>
<text x="61.0" y="542.6999999999999" font-size="22.3" text-anchor="end">2</text>
<line x1="63" y1="583.5" x2="70" y2="583.5" stroke="#111" stroke-width="2.2"/>
<text x="61.0" y="590.9" font-size="22.3" text-anchor="end">0</text>
<line x1="111" y1="583.5" x2="111" y2="590.5" stroke="#111" stroke-width="2.2"/>
<line x1="190.5" y1="583.5" x2="190.5" y2="590.5" stroke="#111" stroke-width="2.2"/>
<rect x="163.5" y="416.4" width="54.7" height="167.1" fill="#000"/>
<path d="M190.8 417V360.2M177 360.2H205" fill="none" stroke="#111" stroke-width="1.8"/>
<text x="189.4" y="350" font-size="20" text-anchor="middle" stroke-width="1">***</text>
<text x="110.5" y="611.3" font-size="23" text-anchor="middle">PBS</text>
<text x="191" y="611.3" font-size="23.2" text-anchor="middle">IL-33</text>
<text transform="translate(25.1 552.5) rotate(-90)" font-size="23">Eosinophils (x10<tspan font-size="17" dy="-10.6">6</tspan><tspan dy="10.6" dx="-2.2">)</tspan></text>
<text x="261.8" y="337.2" font-size="31" text-anchor="start">C</text>
<path d="M355.4 337.5V584M354.3 583H510.5" fill="none" stroke="#111" stroke-width="2.2"/>
<line x1="347.8" y1="338.5" x2="355.4" y2="338.5" stroke="#111" stroke-width="2.2"/>
<text x="345.0" y="345.9" font-size="22.3" text-anchor="end">1500</text>
<line x1="347.8" y1="420" x2="355.4" y2="420" stroke="#111" stroke-width="2.2"/>
<text x="345.0" y="427.4" font-size="22.3" text-anchor="end">1000</text>
<line x1="347.8" y1="501.5" x2="355.4" y2="501.5" stroke="#111" stroke-width="2.2"/>
<text x="345.0" y="508.9" font-size="22.3" text-anchor="end">500</text>
<line x1="347.8" y1="583" x2="355.4" y2="583" stroke="#111" stroke-width="2.2"/>
<text x="345.0" y="590.4" font-size="22.3" text-anchor="end">0</text>
<line x1="396" y1="583" x2="396" y2="590" stroke="#111" stroke-width="2.2"/>
<line x1="476.5" y1="583" x2="476.5" y2="590" stroke="#111" stroke-width="2.2"/>
<rect x="449" y="472.5" width="55.3" height="110.5" fill="#000"/>
<path d="M477 473.5V393M462.5 393H491.5" fill="none" stroke="#111" stroke-width="1.8"/>
<text x="396" y="576.5" font-size="22" text-anchor="middle">nd</text>
<text x="396" y="611.3" font-size="23.2" text-anchor="middle">PBS</text>
<text x="476.5" y="611.3" font-size="23.2" text-anchor="middle">IL-33</text>
<text x="280.2" y="508.6" font-size="23" text-anchor="start" transform="rotate(-90 280.2 508.6)">IL-5 pg/ml</text>
<clipPath id="cpD"><rect x="80" y="670.5" width="400" height="260"/></clipPath>
<text x="1" y="675.8" font-size="31" text-anchor="start">D</text>
<path d="M80.7 670V915.6M79.6 914.5H447" fill="none" stroke="#111" stroke-width="2.2"/>
<line x1="73.3" y1="914.5" x2="80.7" y2="914.5" stroke="#111" stroke-width="2.2"/>
<text x="71.2" y="921.7" font-size="22.5" text-anchor="end">0</text>
<line x1="73.3" y1="853.5" x2="80.7" y2="853.5" stroke="#111" stroke-width="2.2"/>
<text x="71.2" y="860.7" font-size="22.5" text-anchor="end">1</text>
<line x1="73.3" y1="792.5" x2="80.7" y2="792.5" stroke="#111" stroke-width="2.2"/>
<text x="71.2" y="799.7" font-size="22.5" text-anchor="end">2</text>
<line x1="73.3" y1="731.5" x2="80.7" y2="731.5" stroke="#111" stroke-width="2.2"/>
<text x="71.2" y="738.7" font-size="22.5" text-anchor="end">3</text>
<line x1="73.3" y1="670.5" x2="80.7" y2="670.5" stroke="#111" stroke-width="2.2"/>
<text x="71.2" y="677.7" font-size="22.5" text-anchor="end">4</text>
<line x1="88.6" y1="914.5" x2="88.6" y2="921.5" stroke="#111" stroke-width="2.2"/>
<text x="88.6" y="946.4" font-size="23.3" text-anchor="middle">0</text>
<line x1="121.84" y1="914.5" x2="121.84" y2="921.5" stroke="#111" stroke-width="2.2"/>
<text x="121.84" y="946.4" font-size="23.3" text-anchor="middle">2</text>
<line x1="155.07999999999998" y1="914.5" x2="155.07999999999998" y2="921.5" stroke="#111" stroke-width="2.2"/>
<text x="155.07999999999998" y="946.4" font-size="23.3" text-anchor="middle">4</text>
<line x1="188.32" y1="914.5" x2="188.32" y2="921.5" stroke="#111" stroke-width="2.2"/>
<text x="188.32" y="946.4" font-size="23.3" text-anchor="middle">6</text>
<line x1="221.56" y1="914.5" x2="221.56" y2="921.5" stroke="#111" stroke-width="2.2"/>
<text x="221.56" y="946.4" font-size="23.3" text-anchor="middle">8</text>
<line x1="254.8" y1="914.5" x2="254.8" y2="921.5" stroke="#111" stroke-width="2.2"/>
<text x="254.8" y="946.4" font-size="23.3" text-anchor="middle">10</text>
<line x1="288.03999999999996" y1="914.5" x2="288.03999999999996" y2="921.5" stroke="#111" stroke-width="2.2"/>
<text x="288.03999999999996" y="946.4" font-size="23.3" text-anchor="middle">12</text>
<line x1="321.28" y1="914.5" x2="321.28" y2="921.5" stroke="#111" stroke-width="2.2"/>
<text x="321.28" y="946.4" font-size="23.3" text-anchor="middle">14</text>
<line x1="354.52" y1="914.5" x2="354.52" y2="921.5" stroke="#111" stroke-width="2.2"/>
<text x="354.52" y="946.4" font-size="23.3" text-anchor="middle">16</text>
<line x1="387.76" y1="914.5" x2="387.76" y2="921.5" stroke="#111" stroke-width="2.2"/>
<text x="387.76" y="946.4" font-size="23.3" text-anchor="middle">18</text>
<line x1="421.0" y1="914.5" x2="421.0" y2="921.5" stroke="#111" stroke-width="2.2"/>
<text x="421.0" y="946.4" font-size="23.3" text-anchor="middle">20</text>
<text x="261.5" y="976" font-size="22.5" text-anchor="middle">Days post induction</text>
<text x="45.0" y="888.0" font-size="22.5" text-anchor="start" transform="rotate(-90 45.0 888.0)">Mean clinical score</text>
<path d="M188.3 865.1V887.1M181.8 865.1H194.8M181.8 887.1H194.8M204.9 838.2V876.2M198.4 838.2H211.4M198.4 876.2H211.4M221.6 838.2V876.2M215.1 838.2H228.1M215.1 876.2H228.1M238.2 826.0V864.0M231.7 826.0H244.7M231.7 864.0H244.7M254.8 808.1V850.1M248.3 808.1H261.3M248.3 850.1H261.3M271.4 750.9V810.9M264.9 750.9H277.9M264.9 810.9H277.9M288.0 737.1V799.1M281.5 737.1H294.5M281.5 799.1H294.5M304.7 708.0V766.0M298.2 708.0H311.2M298.2 766.0H311.2M321.3 690.9V748.9M314.8 690.9H327.8M314.8 748.9H327.8M337.9 680.5V732.5M331.4 680.5H344.4M331.4 732.5H344.4M354.5 683.5V729.5M348.0 683.5H361.0M348.0 729.5H361.0M371.1 683.3V711.3M364.6 683.3H377.6M364.6 711.3H377.6M387.8 675.2V707.2M381.3 675.2H394.3M381.3 707.2H394.3M404.4 655.7V698.7M397.9 655.7H410.9M397.9 698.7H410.9M421.0 658.1V703.1M414.5 658.1H427.5M414.5 703.1H427.5" fill="none" stroke="#111" stroke-width="1.5" clip-path="url(#cpD)"/>
<path d="M88.6 914.5L105.2 914.5L121.8 914.5L138.5 914.5L155.1 914.5L171.7 913.3L188.3 876.1L204.9 857.2L221.6 857.2L238.2 845.0L254.8 829.1L271.4 780.9L288.0 768.1L304.7 737.0L321.3 719.9L337.9 706.5L354.5 706.5L371.1 697.3L387.8 691.2L404.4 677.2L421.0 680.6" fill="none" stroke="#111" stroke-width="2.2" stroke-linejoin="round"/>
<rect x="83.4" y="909.4" width="10.3" height="10.3" fill="#000" stroke="#111" stroke-width="2.3"/>
<rect x="100.1" y="909.4" width="10.3" height="10.3" fill="#000" stroke="#111" stroke-width="2.3"/>
<rect x="116.7" y="909.4" width="10.3" height="10.3" fill="#000" stroke="#111" stroke-width="2.3"/>
<rect x="133.3" y="909.4" width="10.3" height="10.3" fill="#000" stroke="#111" stroke-width="2.3"/>
<rect x="149.9" y="909.4" width="10.3" height="10.3" fill="#000" stroke="#111" stroke-width="2.3"/>
<rect x="166.5" y="908.1" width="10.3" height="10.3" fill="#000" stroke="#111" stroke-width="2.3"/>
<rect x="183.2" y="870.9" width="10.3" height="10.3" fill="#000" stroke="#111" stroke-width="2.3"/>
<rect x="199.8" y="852.0" width="10.3" height="10.3" fill="#000" stroke="#111" stroke-width="2.3"/>
<rect x="216.4" y="852.0" width="10.3" height="10.3" fill="#000" stroke="#111" stroke-width="2.3"/>
<rect x="233.0" y="839.8" width="10.3" height="10.3" fill="#000" stroke="#111" stroke-width="2.3"/>
<rect x="249.7" y="824.0" width="10.3" height="10.3" fill="#000" stroke="#111" stroke-width="2.3"/>
<rect x="266.3" y="775.8" width="10.3" height="10.3" fill="#000" stroke="#111" stroke-width="2.3"/>
<rect x="282.9" y="763.0" width="10.3" height="10.3" fill="#000" stroke="#111" stroke-width="2.3"/>
<rect x="299.5" y="731.8" width="10.3" height="10.3" fill="#000" stroke="#111" stroke-width="2.3"/>
<rect x="316.1" y="714.8" width="10.3" height="10.3" fill="#000" stroke="#111" stroke-width="2.3"/>
<rect x="332.8" y="701.3" width="10.3" height="10.3" fill="#000" stroke="#111" stroke-width="2.3"/>
<rect x="349.4" y="701.3" width="10.3" height="10.3" fill="#000" stroke="#111" stroke-width="2.3"/>
<rect x="366.0" y="692.2" width="10.3" height="10.3" fill="#000" stroke="#111" stroke-width="2.3"/>
<rect x="382.6" y="686.1" width="10.3" height="10.3" fill="#000" stroke="#111" stroke-width="2.3"/>
<rect x="399.2" y="672.1" width="10.3" height="10.3" fill="#000" stroke="#111" stroke-width="2.3"/>
<rect x="415.9" y="675.4" width="10.3" height="10.3" fill="#000" stroke="#111" stroke-width="2.3"/>
<path d="M238.2 900.1V908.1M231.7 900.1H244.7M231.7 908.1H244.7M271.4 898.9V906.9M264.9 898.9H277.9M264.9 906.9H277.9M304.7 876.9V900.9M298.2 876.9H311.2M298.2 900.9H311.2M321.3 862.3V892.3M314.8 862.3H327.8M314.8 892.3H327.8M337.9 833.3V877.3M331.4 833.3H344.4M331.4 877.3H344.4M354.5 807.4V865.4M348.0 807.4H361.0M348.0 865.4H361.0M371.1 790.6V850.6M364.6 790.6H377.6M364.6 850.6H377.6M387.8 777.8V837.8M381.3 777.8H394.3M381.3 837.8H394.3M404.4 751.4V821.4M397.9 751.4H410.9M397.9 821.4H410.9M421.0 736.1V806.1M414.5 736.1H427.5M414.5 806.1H427.5" fill="none" stroke="#111" stroke-width="1.5"/>
<path d="M88.6 914.5L105.2 914.5L121.8 914.5L138.5 914.5L155.1 914.5L171.7 914.5L188.3 911.5L204.9 909.0L221.6 910.2L238.2 904.1L254.8 910.2L271.4 902.9L288.0 906.6L304.7 888.9L321.3 877.3L337.9 855.3L354.5 836.4L371.1 820.6L387.8 807.8L404.4 786.4L421.0 771.1" fill="none" stroke="#111" stroke-width="2.2" stroke-linejoin="round"/>
<rect x="83.4" y="909.4" width="10.3" height="10.3" fill="#fff" stroke="#111" stroke-width="2.3"/>
<rect x="100.1" y="909.4" width="10.3" height="10.3" fill="#fff" stroke="#111" stroke-width="2.3"/>
<rect x="116.7" y="909.4" width="10.3" height="10.3" fill="#fff" stroke="#111" stroke-width="2.3"/>
<rect x="133.3" y="909.4" width="10.3" height="10.3" fill="#fff" stroke="#111" stroke-width="2.3"/>
<rect x="149.9" y="909.4" width="10.3" height="10.3" fill="#fff" stroke="#111" stroke-width="2.3"/>
<rect x="166.5" y="909.4" width="10.3" height="10.3" fill="#fff" stroke="#111" stroke-width="2.3"/>
<rect x="183.2" y="906.3" width="10.3" height="10.3" fill="#fff" stroke="#111" stroke-width="2.3"/>
<rect x="199.8" y="903.9" width="10.3" height="10.3" fill="#fff" stroke="#111" stroke-width="2.3"/>
<rect x="216.4" y="905.1" width="10.3" height="10.3" fill="#fff" stroke="#111" stroke-width="2.3"/>
<rect x="233.0" y="899.0" width="10.3" height="10.3" fill="#fff" stroke="#111" stroke-width="2.3"/>
<rect x="249.7" y="905.1" width="10.3" height="10.3" fill="#fff" stroke="#111" stroke-width="2.3"/>
<rect x="266.3" y="897.8" width="10.3" height="10.3" fill="#fff" stroke="#111" stroke-width="2.3"/>
<rect x="282.9" y="901.4" width="10.3" height="10.3" fill="#fff" stroke="#111" stroke-width="2.3"/>
<rect x="299.5" y="883.7" width="10.3" height="10.3" fill="#fff" stroke="#111" stroke-width="2.3"/>
<rect x="316.1" y="872.1" width="10.3" height="10.3" fill="#fff" stroke="#111" stroke-width="2.3"/>
<rect x="332.8" y="850.2" width="10.3" height="10.3" fill="#fff" stroke="#111" stroke-width="2.3"/>
<rect x="349.4" y="831.3" width="10.3" height="10.3" fill="#fff" stroke="#111" stroke-width="2.3"/>
<rect x="366.0" y="815.4" width="10.3" height="10.3" fill="#fff" stroke="#111" stroke-width="2.3"/>
<rect x="382.6" y="802.6" width="10.3" height="10.3" fill="#fff" stroke="#111" stroke-width="2.3"/>
<rect x="399.2" y="781.2" width="10.3" height="10.3" fill="#fff" stroke="#111" stroke-width="2.3"/>
<rect x="415.9" y="766.0" width="10.3" height="10.3" fill="#fff" stroke="#111" stroke-width="2.3"/>
<line x1="95.3" y1="687.1" x2="121.5" y2="687.1" stroke="#111" stroke-width="1.9"/>
<rect x="102.6" y="681.5" width="11.2" height="11.2" fill="#000" stroke="#111" stroke-width="2.3"/>
<line x1="95.3" y1="721.2" x2="121.5" y2="721.2" stroke="#111" stroke-width="1.9"/>
<rect x="102.6" y="715.6" width="11.2" height="11.2" fill="#fff" stroke="#111" stroke-width="2.3"/>
<text x="136.3" y="695.6" font-size="23.5" text-anchor="start">PBS</text>
<text x="136.3" y="730.0" font-size="23.5" text-anchor="start">IL-33</text>
<line x1="259" y1="659.8" x2="409.5" y2="659.8" stroke="#111" stroke-width="1.3"/>
<text x="334" y="662.2" font-size="20" text-anchor="middle" stroke-width="1">***</text>
<text x="421.5" y="668.2" font-size="20" text-anchor="middle" stroke-width="1">*</text>
<text x="254.5" y="800.2" font-size="20" text-anchor="middle" stroke-width="1">*</text>
<text x="0.8" y="1042.3" font-size="32" text-anchor="start">E</text>
<clipPath id="cpE1"><rect x="70" y="1030.5" width="377" height="260"/></clipPath>
<path d="M81.2 1030V1275.6M80.1 1274.5H447.5" fill="none" stroke="#111" stroke-width="2.2"/>
<line x1="73.8" y1="1274.5" x2="81.2" y2="1274.5" stroke="#111" stroke-width="2.2"/>
<text x="71.2" y="1282.1" font-size="22.8" text-anchor="end">0</text>
<line x1="73.8" y1="1225.8" x2="81.2" y2="1225.8" stroke="#111" stroke-width="2.2"/>
<text x="71.2" y="1233.3999999999999" font-size="22.8" text-anchor="end">1</text>
<line x1="73.8" y1="1177.1" x2="81.2" y2="1177.1" stroke="#111" stroke-width="2.2"/>
<text x="71.2" y="1184.6999999999998" font-size="22.8" text-anchor="end">2</text>
<line x1="73.8" y1="1128.4" x2="81.2" y2="1128.4" stroke="#111" stroke-width="2.2"/>
<text x="71.2" y="1136.0" font-size="22.8" text-anchor="end">3</text>
<line x1="73.8" y1="1079.7" x2="81.2" y2="1079.7" stroke="#111" stroke-width="2.2"/>
<text x="71.2" y="1087.3" font-size="22.8" text-anchor="end">4</text>
<line x1="73.8" y1="1031.0" x2="81.2" y2="1031.0" stroke="#111" stroke-width="2.2"/>
<text x="71.2" y="1038.6" font-size="22.8" text-anchor="end">5</text>
<line x1="80.8" y1="1274.5" x2="80.8" y2="1281.5" stroke="#111" stroke-width="2.2"/>
<text x="80.8" y="1305.3" font-size="23.3" text-anchor="middle">0</text>
<line x1="114.02" y1="1274.5" x2="114.02" y2="1281.5" stroke="#111" stroke-width="2.2"/>
<text x="114.02" y="1305.3" font-size="23.3" text-anchor="middle">2</text>
<line x1="147.24" y1="1274.5" x2="147.24" y2="1281.5" stroke="#111" stroke-width="2.2"/>
<text x="147.24" y="1305.3" font-size="23.3" text-anchor="middle">4</text>
<line x1="180.45999999999998" y1="1274.5" x2="180.45999999999998" y2="1281.5" stroke="#111" stroke-width="2.2"/>
<text x="180.45999999999998" y="1305.3" font-size="23.3" text-anchor="middle">6</text>
<line x1="213.68" y1="1274.5" x2="213.68" y2="1281.5" stroke="#111" stroke-width="2.2"/>
<text x="213.68" y="1305.3" font-size="23.3" text-anchor="middle">8</text>
<line x1="246.89999999999998" y1="1274.5" x2="246.89999999999998" y2="1281.5" stroke="#111" stroke-width="2.2"/>
<text x="246.89999999999998" y="1305.3" font-size="23.3" text-anchor="middle">10</text>
<line x1="280.12" y1="1274.5" x2="280.12" y2="1281.5" stroke="#111" stroke-width="2.2"/>
<text x="280.12" y="1305.3" font-size="23.3" text-anchor="middle">12</text>
<line x1="313.34" y1="1274.5" x2="313.34" y2="1281.5" stroke="#111" stroke-width="2.2"/>
<text x="313.34" y="1305.3" font-size="23.3" text-anchor="middle">14</text>
<line x1="346.56" y1="1274.5" x2="346.56" y2="1281.5" stroke="#111" stroke-width="2.2"/>
<text x="346.56" y="1305.3" font-size="23.3" text-anchor="middle">16</text>
<line x1="379.78000000000003" y1="1274.5" x2="379.78000000000003" y2="1281.5" stroke="#111" stroke-width="2.2"/>
<text x="379.78000000000003" y="1305.3" font-size="23.3" text-anchor="middle">18</text>
<line x1="413.0" y1="1274.5" x2="413.0" y2="1281.5" stroke="#111" stroke-width="2.2"/>
<text x="413.0" y="1305.3" font-size="23.3" text-anchor="middle">20</text>
<line x1="446.21999999999997" y1="1274.5" x2="446.21999999999997" y2="1281.5" stroke="#111" stroke-width="2.2"/>
<text x="446.21999999999997" y="1305.3" font-size="23.3" text-anchor="middle">22</text>
<text x="45.2" y="1252.5" font-size="22.5" text-anchor="start" transform="rotate(-90 45.2 1252.5)">Mean clinical scores</text>
<path d="M197.1 1249.5V1265.5M190.6 1249.5H203.6M190.6 1265.5H203.6M230.3 1228.9V1252.9M223.8 1228.9H236.8M223.8 1252.9H236.8M246.9 1194.1V1234.1M240.4 1194.1H253.4M240.4 1234.1H253.4M263.5 1120.5V1204.5M257.0 1120.5H270.0M257.0 1204.5H270.0M280.1 1116.1V1204.1M273.6 1116.1H286.6M273.6 1204.1H286.6M296.7 1089.5V1163.5M290.2 1089.5H303.2M290.2 1163.5H303.2M313.3 1080.7V1156.7M306.8 1080.7H319.8M306.8 1156.7H319.8M329.9 1072.4V1150.4M323.4 1072.4H336.4M323.4 1150.4H336.4M346.6 1067.5V1140.5M340.1 1067.5H353.1M340.1 1140.5H353.1M363.2 1067.1V1102.1M356.7 1067.1H369.7M356.7 1102.1H369.7M379.8 1057.9V1086.9M373.3 1057.9H386.3M373.3 1086.9H386.3M396.4 1030.9V1055.5M389.9 1030.9H402.9M389.9 1055.5H402.9M413.0 1031.0V1050.4M406.5 1031.0H419.5M406.5 1050.4H419.5M429.6 1031.0V1050.4M423.1 1031.0H436.1M423.1 1050.4H436.1M446.2 1031.9V1039.9M439.7 1031.9H452.7M439.7 1039.9H452.7" fill="none" stroke="#111" stroke-width="1.4" clip-path="url(#cpE1)"/>
<path d="M80.8 1274.5L97.4 1274.5L114.0 1274.5L130.6 1274.5L147.2 1274.5L163.8 1274.5L180.5 1263.3L197.1 1257.5L213.7 1262.3L230.3 1240.9L246.9 1214.1L263.5 1162.5L280.1 1160.1L296.7 1126.5L313.3 1118.7L329.9 1111.4L346.6 1104.0L363.2 1084.6L379.8 1072.4L396.4 1043.2L413.0 1040.7L429.6 1040.7L446.2 1035.9" fill="none" stroke="#111" stroke-width="1.35" stroke-linejoin="round"/>
<rect x="75.6" y="1269.3" width="10.3" height="10.3" fill="#000" stroke="#111" stroke-width="2.3"/>
<rect x="92.3" y="1269.3" width="10.3" height="10.3" fill="#000" stroke="#111" stroke-width="2.3"/>
<rect x="108.9" y="1269.3" width="10.3" height="10.3" fill="#000" stroke="#111" stroke-width="2.3"/>
<rect x="125.5" y="1269.3" width="10.3" height="10.3" fill="#000" stroke="#111" stroke-width="2.3"/>
<rect x="142.1" y="1269.3" width="10.3" height="10.3" fill="#000" stroke="#111" stroke-width="2.3"/>
<rect x="158.7" y="1269.3" width="10.3" height="10.3" fill="#000" stroke="#111" stroke-width="2.3"/>
<rect x="175.3" y="1258.1" width="10.3" height="10.3" fill="#000" stroke="#111" stroke-width="2.3"/>
<rect x="191.9" y="1252.3" width="10.3" height="10.3" fill="#000" stroke="#111" stroke-width="2.3"/>
<rect x="208.5" y="1257.2" width="10.3" height="10.3" fill="#000" stroke="#111" stroke-width="2.3"/>
<rect x="225.1" y="1235.7" width="10.3" height="10.3" fill="#000" stroke="#111" stroke-width="2.3"/>
<rect x="241.7" y="1209.0" width="10.3" height="10.3" fill="#000" stroke="#111" stroke-width="2.3"/>
<rect x="258.4" y="1157.3" width="10.3" height="10.3" fill="#000" stroke="#111" stroke-width="2.3"/>
<rect x="275.0" y="1154.9" width="10.3" height="10.3" fill="#000" stroke="#111" stroke-width="2.3"/>
<rect x="291.6" y="1121.3" width="10.3" height="10.3" fill="#000" stroke="#111" stroke-width="2.3"/>
<rect x="308.2" y="1113.5" width="10.3" height="10.3" fill="#000" stroke="#111" stroke-width="2.3"/>
<rect x="324.8" y="1106.2" width="10.3" height="10.3" fill="#000" stroke="#111" stroke-width="2.3"/>
<rect x="341.4" y="1098.9" width="10.3" height="10.3" fill="#000" stroke="#111" stroke-width="2.3"/>
<rect x="358.0" y="1079.4" width="10.3" height="10.3" fill="#000" stroke="#111" stroke-width="2.3"/>
<rect x="374.6" y="1067.2" width="10.3" height="10.3" fill="#000" stroke="#111" stroke-width="2.3"/>
<rect x="391.2" y="1038.0" width="10.3" height="10.3" fill="#000" stroke="#111" stroke-width="2.3"/>
<rect x="407.9" y="1035.6" width="10.3" height="10.3" fill="#000" stroke="#111" stroke-width="2.3"/>
<rect x="424.5" y="1035.6" width="10.3" height="10.3" fill="#000" stroke="#111" stroke-width="2.3"/>
<rect x="441.1" y="1030.7" width="10.3" height="10.3" fill="#000" stroke="#111" stroke-width="2.3"/>
<path d="M230.3 1253.4V1269.4M223.8 1253.4H236.8M223.8 1269.4H236.8M296.7 1233.2V1262.2M290.2 1233.2H303.2M290.2 1262.2H303.2M313.3 1212.6V1250.6M306.8 1212.6H319.8M306.8 1250.6H319.8M329.9 1188.0V1248.0M323.4 1188.0H336.4M323.4 1248.0H336.4M346.6 1160.0V1242.0M340.1 1160.0H353.1M340.1 1242.0H353.1M363.2 1149.7V1237.7M356.7 1149.7H369.7M356.7 1237.7H369.7M379.8 1133.5V1225.5M373.3 1133.5H386.3M373.3 1225.5H386.3M396.4 1100.3V1204.3M389.9 1100.3H402.9M389.9 1204.3H402.9M413.0 1090.1V1190.1M406.5 1090.1H419.5M406.5 1190.1H419.5M429.6 1077.7V1159.7M423.1 1077.7H436.1M423.1 1159.7H436.1M446.2 1064.7V1128.7M439.7 1064.7H452.7M439.7 1128.7H452.7" fill="none" stroke="#111" stroke-width="1.4" clip-path="url(#cpE1)"/>
<path d="M80.8 1274.5L97.4 1274.5L114.0 1274.5L130.6 1274.5L147.2 1274.5L163.8 1274.5L180.5 1268.7L197.1 1265.7L213.7 1265.7L230.3 1261.4L246.9 1266.7L263.5 1262.3L280.1 1266.7L296.7 1247.7L313.3 1231.6L329.9 1218.0L346.6 1201.0L363.2 1193.7L379.8 1179.5L396.4 1152.3L413.0 1140.1L429.6 1118.7L446.2 1096.7" fill="none" stroke="#111" stroke-width="1.35" stroke-linejoin="round"/>
<rect x="75.6" y="1269.3" width="10.3" height="10.3" fill="#fff" stroke="#111" stroke-width="2.3"/>
<rect x="92.3" y="1269.3" width="10.3" height="10.3" fill="#fff" stroke="#111" stroke-width="2.3"/>
<rect x="108.9" y="1269.3" width="10.3" height="10.3" fill="#fff" stroke="#111" stroke-width="2.3"/>
<rect x="125.5" y="1269.3" width="10.3" height="10.3" fill="#fff" stroke="#111" stroke-width="2.3"/>
<rect x="142.1" y="1269.3" width="10.3" height="10.3" fill="#fff" stroke="#111" stroke-width="2.3"/>
<rect x="158.7" y="1269.3" width="10.3" height="10.3" fill="#fff" stroke="#111" stroke-width="2.3"/>
<rect x="175.3" y="1263.5" width="10.3" height="10.3" fill="#fff" stroke="#111" stroke-width="2.3"/>
<rect x="191.9" y="1260.6" width="10.3" height="10.3" fill="#fff" stroke="#111" stroke-width="2.3"/>
<rect x="208.5" y="1260.6" width="10.3" height="10.3" fill="#fff" stroke="#111" stroke-width="2.3"/>
<rect x="225.1" y="1256.2" width="10.3" height="10.3" fill="#fff" stroke="#111" stroke-width="2.3"/>
<rect x="241.7" y="1261.6" width="10.3" height="10.3" fill="#fff" stroke="#111" stroke-width="2.3"/>
<rect x="258.4" y="1257.2" width="10.3" height="10.3" fill="#fff" stroke="#111" stroke-width="2.3"/>
<rect x="275.0" y="1261.6" width="10.3" height="10.3" fill="#fff" stroke="#111" stroke-width="2.3"/>
<rect x="291.6" y="1242.6" width="10.3" height="10.3" fill="#fff" stroke="#111" stroke-width="2.3"/>
<rect x="308.2" y="1226.5" width="10.3" height="10.3" fill="#fff" stroke="#111" stroke-width="2.3"/>
<rect x="324.8" y="1212.9" width="10.3" height="10.3" fill="#fff" stroke="#111" stroke-width="2.3"/>
<rect x="341.4" y="1195.8" width="10.3" height="10.3" fill="#fff" stroke="#111" stroke-width="2.3"/>
<rect x="358.0" y="1188.5" width="10.3" height="10.3" fill="#fff" stroke="#111" stroke-width="2.3"/>
<rect x="374.6" y="1174.4" width="10.3" height="10.3" fill="#fff" stroke="#111" stroke-width="2.3"/>
<rect x="391.2" y="1147.1" width="10.3" height="10.3" fill="#fff" stroke="#111" stroke-width="2.3"/>
<rect x="407.9" y="1134.9" width="10.3" height="10.3" fill="#fff" stroke="#111" stroke-width="2.3"/>
<rect x="424.5" y="1113.5" width="10.3" height="10.3" fill="#fff" stroke="#111" stroke-width="2.3"/>
<rect x="441.1" y="1091.6" width="10.3" height="10.3" fill="#fff" stroke="#111" stroke-width="2.3"/>
<line x1="106.5" y1="1027.3" x2="133" y2="1027.3" stroke="#111" stroke-width="1.5"/>
<rect x="114.5" y="1022.1" width="10.3" height="10.3" fill="#000" stroke="#111" stroke-width="2.3"/>
<line x1="106.5" y1="1057.2" x2="133" y2="1057.2" stroke="#111" stroke-width="1.5"/>
<rect x="114.5" y="1052.0" width="10.3" height="10.3" fill="#fff" stroke="#111" stroke-width="2.3"/>
<text x="147" y="1035.6" font-size="22.6" text-anchor="start">PBS + Control Ab</text>
<text x="147" y="1064.8" font-size="22.6" text-anchor="start">IL-33 + Control Ab</text>
<text x="262.8" y="1260.25" font-size="20" text-anchor="middle" stroke-width="1">*</text>
<text x="279.4" y="1260.25" font-size="20" text-anchor="middle" stroke-width="1">*</text>
<text x="295" y="1231.25" font-size="20" text-anchor="middle" stroke-width="1">**</text>
<text x="312.7" y="1268.75" font-size="20" text-anchor="middle" stroke-width="1">*</text>
<text x="329.3" y="1268.75" font-size="20" text-anchor="middle" stroke-width="1">*</text>
<text x="361" y="1257.95" font-size="20" text-anchor="middle" stroke-width="1">*</text>
<text x="379" y="1245.25" font-size="20" text-anchor="middle" stroke-width="1">*</text>
<text x="396" y="1224.05" font-size="20" text-anchor="middle" stroke-width="1">*</text>
<text x="412.5" y="1212.25" font-size="20" text-anchor="middle" stroke-width="1">*</text>
<text x="429" y="1185.25" font-size="20" text-anchor="middle" stroke-width="1">*</text>
<clipPath id="cpE2"><rect x="70" y="1338.5" width="377" height="244"/></clipPath>
<path d="M81.2 1338V1583.6M80.1 1582.5H447.5" fill="none" stroke="#111" stroke-width="2.2"/>
<line x1="73.8" y1="1582.5" x2="81.2" y2="1582.5" stroke="#111" stroke-width="2.2"/>
<text x="71.2" y="1590.1" font-size="22.8" text-anchor="end">0</text>
<line x1="73.8" y1="1533.8" x2="81.2" y2="1533.8" stroke="#111" stroke-width="2.2"/>
<text x="71.2" y="1541.3999999999999" font-size="22.8" text-anchor="end">1</text>
<line x1="73.8" y1="1485.1" x2="81.2" y2="1485.1" stroke="#111" stroke-width="2.2"/>
<text x="71.2" y="1492.6999999999998" font-size="22.8" text-anchor="end">2</text>
<line x1="73.8" y1="1436.4" x2="81.2" y2="1436.4" stroke="#111" stroke-width="2.2"/>
<text x="71.2" y="1444.0" font-size="22.8" text-anchor="end">3</text>
<line x1="73.8" y1="1387.7" x2="81.2" y2="1387.7" stroke="#111" stroke-width="2.2"/>
<text x="71.2" y="1395.3" font-size="22.8" text-anchor="end">4</text>
<line x1="73.8" y1="1339.0" x2="81.2" y2="1339.0" stroke="#111" stroke-width="2.2"/>
<text x="71.2" y="1346.6" font-size="22.8" text-anchor="end">5</text>
<line x1="80.8" y1="1582.5" x2="80.8" y2="1589.5" stroke="#111" stroke-width="2.2"/>
<text x="80.8" y="1613.3" font-size="23.3" text-anchor="middle">0</text>
<line x1="114.02" y1="1582.5" x2="114.02" y2="1589.5" stroke="#111" stroke-width="2.2"/>
<text x="114.02" y="1613.3" font-size="23.3" text-anchor="middle">2</text>
<line x1="147.24" y1="1582.5" x2="147.24" y2="1589.5" stroke="#111" stroke-width="2.2"/>
<text x="147.24" y="1613.3" font-size="23.3" text-anchor="middle">4</text>
<line x1="180.45999999999998" y1="1582.5" x2="180.45999999999998" y2="1589.5" stroke="#111" stroke-width="2.2"/>
<text x="180.45999999999998" y="1613.3" font-size="23.3" text-anchor="middle">6</text>
<line x1="213.68" y1="1582.5" x2="213.68" y2="1589.5" stroke="#111" stroke-width="2.2"/>
<text x="213.68" y="1613.3" font-size="23.3" text-anchor="middle">8</text>
<line x1="246.89999999999998" y1="1582.5" x2="246.89999999999998" y2="1589.5" stroke="#111" stroke-width="2.2"/>
<text x="246.89999999999998" y="1613.3" font-size="23.3" text-anchor="middle">10</text>
<line x1="280.12" y1="1582.5" x2="280.12" y2="1589.5" stroke="#111" stroke-width="2.2"/>
<text x="280.12" y="1613.3" font-size="23.3" text-anchor="middle">12</text>
<line x1="313.34" y1="1582.5" x2="313.34" y2="1589.5" stroke="#111" stroke-width="2.2"/>
<text x="313.34" y="1613.3" font-size="23.3" text-anchor="middle">14</text>
<line x1="346.56" y1="1582.5" x2="346.56" y2="1589.5" stroke="#111" stroke-width="2.2"/>
<text x="346.56" y="1613.3" font-size="23.3" text-anchor="middle">16</text>
<line x1="379.78000000000003" y1="1582.5" x2="379.78000000000003" y2="1589.5" stroke="#111" stroke-width="2.2"/>
<text x="379.78000000000003" y="1613.3" font-size="23.3" text-anchor="middle">18</text>
<line x1="413.0" y1="1582.5" x2="413.0" y2="1589.5" stroke="#111" stroke-width="2.2"/>
<text x="413.0" y="1613.3" font-size="23.3" text-anchor="middle">20</text>
<line x1="446.21999999999997" y1="1582.5" x2="446.21999999999997" y2="1589.5" stroke="#111" stroke-width="2.2"/>
<text x="446.21999999999997" y="1613.3" font-size="23.3" text-anchor="middle">22</text>
<text x="45.2" y="1560.5" font-size="22.5" text-anchor="start" transform="rotate(-90 45.2 1560.5)">Mean clinical scores</text>
<text x="260" y="1643.8" font-size="22.4" text-anchor="middle">Days post transfer</text>
<path d="M263.5 1531.2V1579.2M257.0 1531.2H270.0M257.0 1579.2H270.0M280.1 1509.1V1571.1M273.6 1509.1H286.6M273.6 1571.1H286.6M296.7 1488.8V1578.8M290.2 1488.8H303.2M290.2 1578.8H303.2M313.3 1479.0V1570.0M306.8 1479.0H319.8M306.8 1570.0H319.8M329.9 1474.2V1562.2M323.4 1474.2H336.4M323.4 1562.2H336.4M346.6 1472.3V1559.3M340.1 1472.3H353.1M340.1 1559.3H353.1M363.2 1456.2V1540.2M356.7 1456.2H369.7M356.7 1540.2H369.7M379.8 1452.9V1532.9M373.3 1452.9H386.3M373.3 1532.9H386.3M396.4 1443.9V1502.9M389.9 1443.9H402.9M389.9 1502.9H402.9M413.0 1429.3V1449.3M406.5 1429.3H419.5M406.5 1449.3H419.5M446.2 1398.0V1413.4M439.7 1398.0H452.7M439.7 1413.4H452.7" fill="none" stroke="#111" stroke-width="1.4" clip-path="url(#cpE2)"/>
<path d="M80.8 1582.5L97.4 1582.5L114.0 1582.5L130.6 1582.5L147.2 1582.5L163.8 1582.5L180.5 1577.6L197.1 1573.7L213.7 1575.2L230.3 1573.7L246.9 1579.1L263.5 1555.2L280.1 1540.1L296.7 1533.8L313.3 1524.5L329.9 1518.2L346.6 1515.8L363.2 1498.2L379.8 1492.9L396.4 1473.4L413.0 1439.3L429.6 1415.0L446.2 1405.7" fill="none" stroke="#111" stroke-width="1.35" stroke-linejoin="round"/>
<circle cx="80.8" cy="1582.5" r="5.3" fill="#000" stroke="#111" stroke-width="2.6"/>
<circle cx="97.4" cy="1582.5" r="5.3" fill="#000" stroke="#111" stroke-width="2.6"/>
<circle cx="114.0" cy="1582.5" r="5.3" fill="#000" stroke="#111" stroke-width="2.6"/>
<circle cx="130.6" cy="1582.5" r="5.3" fill="#000" stroke="#111" stroke-width="2.6"/>
<circle cx="147.2" cy="1582.5" r="5.3" fill="#000" stroke="#111" stroke-width="2.6"/>
<circle cx="163.8" cy="1582.5" r="5.3" fill="#000" stroke="#111" stroke-width="2.6"/>
<circle cx="180.5" cy="1577.6" r="5.3" fill="#000" stroke="#111" stroke-width="2.6"/>
<circle cx="197.1" cy="1573.7" r="5.3" fill="#000" stroke="#111" stroke-width="2.6"/>
<circle cx="213.7" cy="1575.2" r="5.3" fill="#000" stroke="#111" stroke-width="2.6"/>
<circle cx="230.3" cy="1573.7" r="5.3" fill="#000" stroke="#111" stroke-width="2.6"/>
<circle cx="246.9" cy="1579.1" r="5.3" fill="#000" stroke="#111" stroke-width="2.6"/>
<circle cx="263.5" cy="1555.2" r="5.3" fill="#000" stroke="#111" stroke-width="2.6"/>
<circle cx="280.1" cy="1540.1" r="5.3" fill="#000" stroke="#111" stroke-width="2.6"/>
<circle cx="296.7" cy="1533.8" r="5.3" fill="#000" stroke="#111" stroke-width="2.6"/>
<circle cx="313.3" cy="1524.5" r="5.3" fill="#000" stroke="#111" stroke-width="2.6"/>
<circle cx="329.9" cy="1518.2" r="5.3" fill="#000" stroke="#111" stroke-width="2.6"/>
<circle cx="346.6" cy="1515.8" r="5.3" fill="#000" stroke="#111" stroke-width="2.6"/>
<circle cx="363.2" cy="1498.2" r="5.3" fill="#000" stroke="#111" stroke-width="2.6"/>
<circle cx="379.8" cy="1492.9" r="5.3" fill="#000" stroke="#111" stroke-width="2.6"/>
<circle cx="396.4" cy="1473.4" r="5.3" fill="#000" stroke="#111" stroke-width="2.6"/>
<circle cx="413.0" cy="1439.3" r="5.3" fill="#000" stroke="#111" stroke-width="2.6"/>
<circle cx="429.6" cy="1415.0" r="5.3" fill="#000" stroke="#111" stroke-width="2.6"/>
<circle cx="446.2" cy="1405.7" r="5.3" fill="#000" stroke="#111" stroke-width="2.6"/>
<path d="M296.7 1536.0V1556.0M290.2 1536.0H303.2M290.2 1556.0H303.2M313.3 1516.2V1561.2M306.8 1516.2H319.8M306.8 1561.2H319.8M329.9 1511.2V1561.2M323.4 1511.2H336.4M323.4 1561.2H336.4M346.6 1495.0V1558.0M340.1 1495.0H353.1M340.1 1558.0H353.1M363.2 1461.7V1537.7M356.7 1461.7H369.7M356.7 1537.7H369.7M379.8 1459.4V1526.4M373.3 1459.4H386.3M373.3 1526.4H386.3M396.4 1442.7V1518.7M389.9 1442.7H402.9M389.9 1518.7H402.9M413.0 1439.8V1515.8M406.5 1439.8H419.5M406.5 1515.8H419.5M429.6 1431.1V1499.1M423.1 1431.1H436.1M423.1 1499.1H436.1M446.2 1420.3V1476.9M439.7 1420.3H452.7M439.7 1476.9H452.7" fill="none" stroke="#111" stroke-width="1.4" clip-path="url(#cpE2)"/>
<path d="M80.8 1582.5L97.4 1582.5L114.0 1582.5L130.6 1582.5L147.2 1582.5L163.8 1582.5L180.5 1569.8L197.1 1567.4L213.7 1574.2L230.3 1567.4L246.9 1569.8L263.5 1575.2L280.1 1570.3L296.7 1546.0L313.3 1538.7L329.9 1536.2L346.6 1526.5L363.2 1499.7L379.8 1492.9L396.4 1480.7L413.0 1477.8L429.6 1465.1L446.2 1448.6" fill="none" stroke="#111" stroke-width="1.35" stroke-linejoin="round"/>
<circle cx="80.8" cy="1582.5" r="5.3" fill="#fff" stroke="#111" stroke-width="2.6"/>
<circle cx="97.4" cy="1582.5" r="5.3" fill="#fff" stroke="#111" stroke-width="2.6"/>
<circle cx="114.0" cy="1582.5" r="5.3" fill="#fff" stroke="#111" stroke-width="2.6"/>
<circle cx="130.6" cy="1582.5" r="5.3" fill="#fff" stroke="#111" stroke-width="2.6"/>
<circle cx="147.2" cy="1582.5" r="5.3" fill="#fff" stroke="#111" stroke-width="2.6"/>
<circle cx="163.8" cy="1582.5" r="5.3" fill="#fff" stroke="#111" stroke-width="2.6"/>
<circle cx="180.5" cy="1569.8" r="5.3" fill="#fff" stroke="#111" stroke-width="2.6"/>
<circle cx="197.1" cy="1567.4" r="5.3" fill="#fff" stroke="#111" stroke-width="2.6"/>
<circle cx="213.7" cy="1574.2" r="5.3" fill="#fff" stroke="#111" stroke-width="2.6"/>
<circle cx="230.3" cy="1567.4" r="5.3" fill="#fff" stroke="#111" stroke-width="2.6"/>
<circle cx="246.9" cy="1569.8" r="5.3" fill="#fff" stroke="#111" stroke-width="2.6"/>
<circle cx="263.5" cy="1575.2" r="5.3" fill="#fff" stroke="#111" stroke-width="2.6"/>
<circle cx="280.1" cy="1570.3" r="5.3" fill="#fff" stroke="#111" stroke-width="2.6"/>
<circle cx="296.7" cy="1546.0" r="5.3" fill="#fff" stroke="#111" stroke-width="2.6"/>
<circle cx="313.3" cy="1538.7" r="5.3" fill="#fff" stroke="#111" stroke-width="2.6"/>
<circle cx="329.9" cy="1536.2" r="5.3" fill="#fff" stroke="#111" stroke-width="2.6"/>
<circle cx="346.6" cy="1526.5" r="5.3" fill="#fff" stroke="#111" stroke-width="2.6"/>
<circle cx="363.2" cy="1499.7" r="5.3" fill="#fff" stroke="#111" stroke-width="2.6"/>
<circle cx="379.8" cy="1492.9" r="5.3" fill="#fff" stroke="#111" stroke-width="2.6"/>
<circle cx="396.4" cy="1480.7" r="5.3" fill="#fff" stroke="#111" stroke-width="2.6"/>
<circle cx="413.0" cy="1477.8" r="5.3" fill="#fff" stroke="#111" stroke-width="2.6"/>
<circle cx="429.6" cy="1465.1" r="5.3" fill="#fff" stroke="#111" stroke-width="2.6"/>
<circle cx="446.2" cy="1448.6" r="5.3" fill="#fff" stroke="#111" stroke-width="2.6"/>
<line x1="96" y1="1347.3" x2="122.5" y2="1347.3" stroke="#111" stroke-width="1.5"/>
<circle cx="109.5" cy="1347.3" r="4.9" fill="#000" stroke="#111" stroke-width="2.6"/>
<line x1="96" y1="1379.5" x2="122.5" y2="1379.5" stroke="#111" stroke-width="1.5"/>
<circle cx="109.5" cy="1379.5" r="4.9" fill="#fff" stroke="#111" stroke-width="2.6"/>
<text x="137" y="1354.7" font-size="22.5" text-anchor="start">PBS + anti-IL-5</text>
<text x="137" y="1386.8" font-size="22.6" text-anchor="start">IL-33 + anti-IL5</text>
</svg>
</body></html>
